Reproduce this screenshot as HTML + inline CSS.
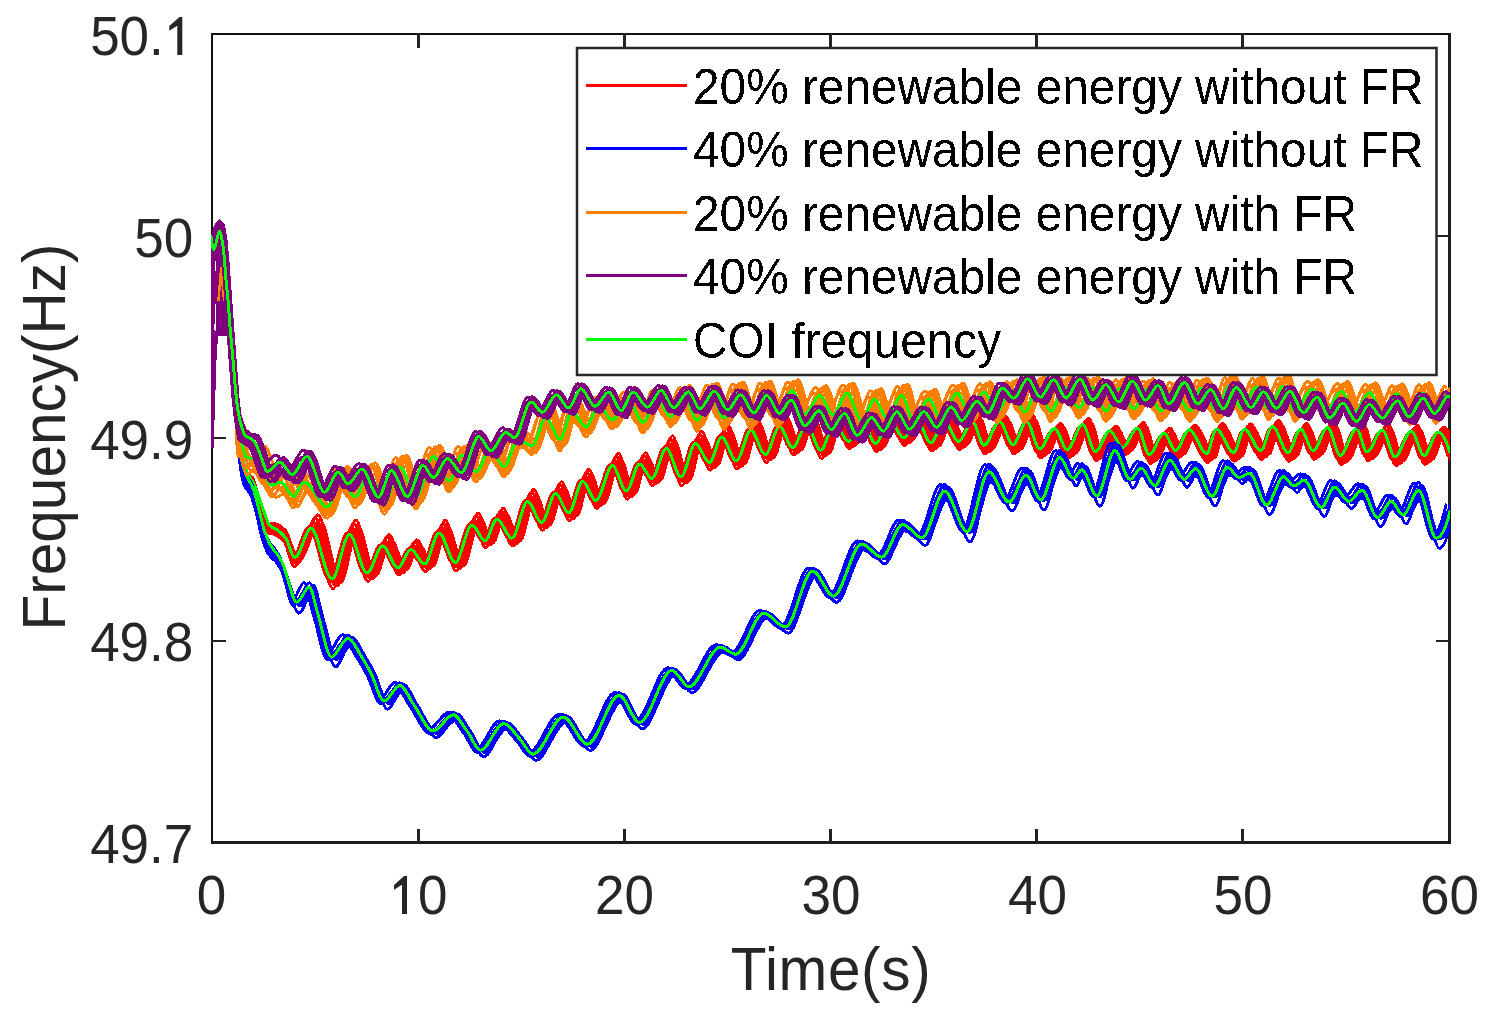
<!DOCTYPE html>
<html><head><meta charset="utf-8"><title>Frequency</title><style>
html,body{margin:0;padding:0;background:#fff;width:1494px;height:1030px;overflow:hidden}
svg{display:block}
text{font-family:"Liberation Sans",sans-serif}
</style></head><body>
<svg width="1494" height="1030" viewBox="0 0 1494 1030">
<rect width="1494" height="1030" fill="#fff"/>
<rect x="211" y="33" width="1239.5" height="2" fill="#111"/>
<rect x="211" y="33" width="2" height="810" fill="#111"/>
<rect x="1448" y="33" width="3" height="811" fill="#1c1c1c"/>
<rect x="211" y="841" width="1240" height="3" fill="#1c1c1c"/>
<g fill="#222"><rect x="417" y="33" width="3" height="15"/>
<rect x="417" y="829" width="3" height="15"/>
<rect x="623" y="33" width="3" height="15"/>
<rect x="623" y="829" width="3" height="15"/>
<rect x="829" y="33" width="3" height="15"/>
<rect x="829" y="829" width="3" height="15"/>
<rect x="1035" y="33" width="3" height="15"/>
<rect x="1035" y="829" width="3" height="15"/>
<rect x="1241" y="33" width="3" height="15"/>
<rect x="1241" y="829" width="3" height="15"/>
<rect x="211" y="235" width="15" height="2"/>
<rect x="1436" y="235" width="15" height="2"/>
<rect x="211" y="437" width="15" height="2"/>
<rect x="1436" y="437" width="15" height="2"/>
<rect x="211" y="640" width="15" height="2"/>
<rect x="1436" y="640" width="15" height="2"/></g>
<defs><clipPath id="cp"><rect x="211" y="33" width="1239" height="810"/></clipPath></defs>
<g clip-path="url(#cp)" shape-rendering="crispEdges" fill="none" stroke-width="3" stroke-linejoin="round" stroke-linecap="round">

<g stroke="#ff0000"><path d="M211 236.8C211.9 243.3 212.8 249.6 213.7 249.6 215.7 249.6 217.6 231 219.6 231 220.6 231 221.5 237.2 222.5 242.6 223.1 245.7 223.6 250.9 224.2 256.6 224.8 262.6 225.4 273.1 226 280 226.8 288.8 227.5 294.2 228.3 303.2 228.9 309.8 229.4 319.5 230 326.5 230.9 337.1 231.7 344.9 232.6 355 233.3 363.5 234.1 373.5 234.8 382 235.5 390.3 236.2 395 236.9 405.4 237.3 410.4 237.6 419.9 238 425.8 238.5 434.9 239 445.1 239.6 449.4 241.2 463.1 242.8 469.9 244.5 474.6 247 481.7 249.5 483.1 252 488.7 254.6 494.5 257.2 503.6 259.8 510.3 262.4 516.9 264.9 526.3 267.5 528.7 270.1 531.2 272.7 531.5 275.3 533.3 278.1 535.3 280.9 537.5 283.7 540.9 287.1 545 290.5 560.2 293.9 560.2 299.6 560.2 305.3 531 311 531 318 531 325 581.4 332 581.4 337.8 581.4 343.6 536.8 349.4 536.8 355.3 536.8 361.1 575.2 367 575.2 372.2 575.2 377.5 548.1 382.7 548.1 387.8 548.1 392.9 570.1 398 570.1 402.2 570.1 406.5 551.7 410.7 551.7 415.4 551.7 420 566.1 424.7 566.1 429.5 566.1 434.2 535.1 439 535.1 444.4 535.1 449.9 564.6 455.3 564.6 460.8 564.6 466.4 526.9 471.9 526.9 476.3 526.9 480.6 542.6 485 542.6 489 542.6 493 521 497 521 502 521 506.9 540.2 511.9 540.2 517.1 540.2 522.4 503.5 527.6 503.5 532.3 503.5 536.9 524.5 541.6 524.5 546.3 524.5 550.9 495.6 555.6 495.6 560 495.6 564.3 514.9 568.7 514.9 573.4 514.9 578 483.4 582.7 483.4 587.1 483.4 591.4 502.6 595.8 502.6 601.3 502.6 606.9 467.7 612.4 467.7 617.1 467.7 621.7 493 626.4 493 630.8 493 635.1 466 639.5 466 643.6 466 647.7 480.5 651.8 480.5 656.7 480.5 661.5 450.6 666.4 450.6 671.3 450.6 676.1 479 681 479 685.8 479 690.7 445.5 695.5 445.5 700.1 445.5 704.8 464.5 709.4 464.5 713.5 464.5 717.6 439 721.7 439 726.6 439 731.4 463 736.3 463 741.2 463 746 432.4 750.9 432.4 755.7 432.4 760.6 456.5 765.4 456.5 770.1 456.5 774.9 428.6 779.6 428.6 784 428.6 788.3 449.6 792.7 449.6 797.3 449.6 801.9 427.1 806.5 427.1 811.2 427.1 816 452.5 820.7 452.5 825.3 452.5 829.9 426.5 834.5 426.5 839.2 426.5 844 444.1 848.7 444.1 853.1 444.1 857.6 422.9 862 422.9 866.5 422.9 871 446.9 875.5 446.9 880.2 446.9 884.8 423.3 889.5 423.3 894.2 423.3 899 441.6 903.7 441.6 908.1 441.6 912.6 423.8 917 423.8 921.6 423.8 926.3 446.8 930.9 446.8 935.3 446.8 939.6 425.2 944 425.2 948.9 425.2 953.8 445.8 958.7 445.8 963.2 445.8 967.8 426.1 972.3 426.1 976.2 426.1 980.1 450 984 450 989.2 450 994.3 426.5 999.5 426.5 1004 426.5 1008.5 449.8 1013 449.8 1017.6 449.8 1022.1 426.5 1026.7 426.5 1031 426.5 1035.3 454 1039.6 454 1044.6 454 1049.6 433.3 1054.6 433.3 1058.8 433.3 1063 454.6 1067.2 454.6 1072.4 454.6 1077.5 429.4 1082.7 429.4 1086.9 429.4 1091.1 456.6 1095.3 456.6 1100.2 456.6 1105 435.7 1109.9 435.7 1114.1 435.7 1118.3 452.7 1122.5 452.7 1127.5 452.7 1132.5 433 1137.5 433 1141.5 433 1145.4 459.5 1149.4 459.5 1154.3 459.5 1159.1 438.1 1164 438.1 1167.9 438.1 1171.7 455.6 1175.6 455.6 1180.1 455.6 1184.7 434.7 1189.2 434.7 1195 434.7 1200.9 458.5 1206.7 458.5 1209.9 458.5 1213.2 434.2 1216.4 434.2 1222.1 434.2 1227.9 457.5 1233.6 457.5 1237.2 457.5 1240.7 434.2 1244.3 434.2 1249.8 434.2 1255.3 455.6 1260.8 455.6 1264.7 455.6 1268.5 431.3 1272.4 431.3 1277.6 431.3 1282.8 457.5 1288 457.5 1292.2 457.5 1296.4 434.2 1300.6 434.2 1304.8 434.2 1309 455.6 1313.2 455.6 1318 455.6 1322.7 432.5 1327.5 432.5 1331.8 432.5 1336 460.5 1340.3 460.5 1345.7 460.5 1351.2 433.7 1356.6 433.7 1360.1 433.7 1363.5 457 1367 457 1372.1 457 1377.1 434.9 1382.2 434.9 1386.5 434.9 1390.7 461.7 1395 461.7 1400.4 461.7 1405.9 436 1411.3 436 1415.6 436 1419.8 460.5 1424.1 460.5 1428.7 460.5 1433.4 437.2 1438 437.2 1441.9 437.2 1445.9 444.3 1449.8 457"/><path d="M211 236.8C211.9 243.3 212.8 249.6 213.7 249.6 215.7 249.6 217.6 231 219.6 231 220.6 231 221.5 237.2 222.5 242.6 223.1 245.7 223.6 250.9 224.2 256.6 224.8 262.6 225.4 273.1 226 280 226.8 288.8 227.5 294.2 228.3 303.2 228.9 309.8 229.4 319.5 230 326.5 230.9 337.1 231.7 344.9 232.6 355 233.3 363.5 234.1 373.6 234.8 382 235.5 390.2 236.2 394.6 236.9 404.9 237.3 409.9 237.6 419.4 238 425.4 238.5 434.5 239 445.4 239.6 449.4 241.2 461.9 242.8 467.9 244.5 471.4 247 476.7 249.5 476.7 252 481.2 254.6 485.9 257.2 497.1 259.8 504.2 262.4 511.3 264.9 522.3 267.5 524.1 270.1 525.8 272.7 525.7 275.3 527.1 278.3 528.7 281.2 530.9 284.2 534.4 287.9 538.6 291.6 557.8 295.3 557.8 301.3 557.8 307.3 522.6 313.3 522.6 320.3 522.6 327.2 580.4 334.2 580.4 340 580.4 345.8 528.4 351.6 528.4 357.4 528.4 363.3 574 369.1 574 374.3 574 379.6 541.1 384.8 541.1 389.9 541.1 395 568.3 400.1 568.3 404.3 568.3 408.5 545.4 412.8 545.4 417.4 545.4 422.1 564.6 426.7 564.6 431.5 564.6 436.3 527.6 441 527.6 446.5 527.6 451.9 563.8 457.3 563.8 462.9 563.8 468.4 520 473.9 520 478.3 520 482.7 541.1 487 541.1 491 541.1 495 514.4 499 514.4 504 514.4 508.9 539.2 513.9 539.2 519.1 539.2 524.4 496.3 529.6 496.3 534.3 496.3 538.9 523.5 543.6 523.5 548.3 523.5 552.9 488.6 557.6 488.6 562 488.6 566.3 514 570.7 514 575.4 514 580 476.2 584.7 476.2 589.1 476.2 593.4 501.5 597.8 501.5 603.3 501.5 608.9 460.4 614.4 460.4 619.1 460.4 623.7 492.3 628.4 492.3 632.8 492.3 637.1 459.2 641.5 459.2 645.6 459.2 649.7 479.2 653.8 479.2 658.7 479.2 663.5 443.2 668.4 443.2 673.3 443.2 678.1 478.6 683 478.6 687.8 478.6 692.7 438.4 697.5 438.4 702.1 438.4 706.8 463.4 711.4 463.4 715.5 463.4 719.6 431.9 723.7 431.9 728.6 431.9 733.4 462.1 738.3 462.1 743.2 462.1 748 425.2 752.9 425.2 757.7 425.2 762.6 455.5 767.4 455.5 772.1 455.5 776.9 421.6 781.6 421.6 786 421.6 790.3 448.3 794.7 448.3 799.3 448.3 803.9 420.3 808.5 420.3 813.2 420.3 818 451.5 822.7 451.5 827.3 451.5 831.9 420 836.5 420 841.2 420 846 442.3 850.7 442.3 855.1 442.3 859.6 416.4 864 416.4 868.5 416.4 873 445.4 877.5 445.4 882.2 445.4 886.8 417.3 891.5 417.3 896.2 417.3 901 439.3 905.7 439.3 910.1 439.3 914.6 417.8 919 417.8 923.6 417.8 928.3 444.8 932.9 444.8 937.3 444.8 941.6 419.3 946 419.3 950.9 419.3 955.8 443.4 960.7 443.4 965.2 443.4 969.8 420.2 974.3 420.2 978.2 420.2 982.1 447.8 986 447.8 991.2 447.8 996.3 420.9 1001.5 420.9 1006 420.9 1010.5 447.5 1015 447.5 1019.6 447.5 1024.1 420.6 1028.7 420.6 1033 420.6 1037.3 451.8 1041.6 451.8 1046.6 451.8 1051.6 427.8 1056.6 427.8 1060.8 427.8 1065 452.3 1069.2 452.3 1074.4 452.3 1079.5 423.5 1084.7 423.5 1088.9 423.5 1093.1 454.4 1097.3 454.4 1102.2 454.4 1107 430.3 1111.9 430.3 1116.1 430.3 1120.3 450 1124.5 450 1129.5 450 1134.5 427.2 1139.5 427.2 1143.5 427.2 1147.4 457.4 1151.4 457.4 1156.3 457.4 1161.1 432.6 1166 432.6 1169.9 432.6 1173.7 453.1 1177.6 453.1 1182.1 453.1 1186.7 429.3 1191.2 429.3 1197 429.3 1202.9 456.3 1208.7 456.3 1211.9 456.3 1215.2 428.4 1218.4 428.4 1224.1 428.4 1229.9 455.2 1235.6 455.2 1239.2 455.2 1242.7 428.5 1246.3 428.5 1251.8 428.5 1257.3 453.3 1262.8 453.3 1266.7 453.3 1270.5 425.4 1274.4 425.4 1279.6 425.4 1284.8 455.3 1290 455.3 1294.2 455.3 1298.4 428.4 1302.6 428.4 1306.8 428.4 1311 453.3 1315.2 453.3 1320 453.3 1324.7 426.6 1329.5 426.6 1333.8 426.6 1338 458.4 1342.3 458.4 1347.7 458.4 1353.2 427.8 1358.6 427.8 1362.1 427.8 1365.5 454.8 1369 454.8 1374.1 454.8 1379.1 429.1 1384.2 429.1 1388.5 429.1 1392.7 459.5 1397 459.5 1402.4 459.5 1407.9 430.3 1413.3 430.3 1417.6 430.3 1421.8 458.3 1426.1 458.3 1430.7 458.3 1435.4 431.7 1440 431.7 1443.9 431.7 1447.9 439.8 1451.8 454.2"/><path d="M211 236.8C211.9 243.3 212.8 249.6 213.7 249.6 215.7 249.6 217.6 231 219.6 231 220.6 231 221.5 237.2 222.5 242.6 223.1 245.7 223.6 250.9 224.2 256.6 224.8 262.6 225.4 273.1 226 280 226.8 288.8 227.5 294.2 228.3 303.2 228.9 309.8 229.4 319.5 230 326.5 230.9 337.1 231.7 344.9 232.6 355 233.3 363.5 234.1 373.6 234.8 382 235.5 390.2 236.2 394.6 236.9 405.1 237.3 410.1 237.6 419.9 238 426.1 238.5 435.7 239 447.5 239.6 451.5 241.2 464 242.8 470.7 244.5 473.1 247 476.6 249.5 475.9 252 479 254.6 482.3 257.2 495.5 259.8 503.1 262.4 510.5 264.9 523.2 267.5 524.1 270.1 524.9 272.7 524.7 275.3 525.4 278.5 526.2 281.6 528.8 284.8 532.2 288.7 536.4 292.7 559.5 296.7 559.5 303 559.5 309.3 518.1 315.6 518.1 322.5 518.1 329.5 583 336.4 583 342.2 583 347.9 523.4 353.7 523.4 359.5 523.4 365.4 576 371.2 576 376.4 576 381.7 537.4 386.9 537.4 392 537.4 397 569.7 402.1 569.7 406.4 569.7 410.6 542.3 414.8 542.3 419.5 542.3 424.1 566.2 428.8 566.2 433.5 566.2 438.3 523.3 443.1 523.3 448.5 523.3 453.9 566 459.4 566 464.9 566 470.4 516 475.9 516 480.3 516 484.7 542.5 489 542.5 493 542.5 497 510.8 501 510.8 506 510.8 511 541.1 515.9 541.1 521.2 541.1 526.4 492 531.6 492 536.3 492 540.9 525.5 545.6 525.5 550.3 525.5 554.9 484.6 559.6 484.6 564 484.6 568.3 516.1 572.7 516.1 577.4 516.1 582 472.1 586.7 472.1 591.1 472.1 595.4 503.4 599.8 503.4 605.3 503.4 610.9 456.2 616.4 456.2 621.1 456.2 625.7 494.5 630.4 494.5 634.8 494.5 639.1 455.5 643.5 455.5 647.6 455.5 651.7 480.8 655.8 480.8 660.7 480.8 665.5 438.9 670.4 438.9 675.3 438.9 680.1 481.1 685 481.1 689.8 481.1 694.7 434.2 699.5 434.2 704.1 434.2 708.8 465.2 713.4 465.2 717.5 465.2 721.6 427.8 725.7 427.8 730.6 427.8 735.4 464.2 740.3 464.2 745.2 464.2 750 421.1 754.9 421.1 759.7 421.1 764.6 457.6 769.4 457.6 774.1 457.6 778.9 417.6 783.6 417.6 788 417.6 792.3 450.1 796.7 450.1 801.3 450.1 805.9 416.4 810.5 416.4 815.2 416.4 820 453.4 824.7 453.4 829.3 453.4 833.9 416.6 838.5 416.6 843.2 416.6 848 443.4 852.7 443.4 857.1 443.4 861.6 413 866 413 870.5 413 875 446.9 879.5 446.9 884.2 446.9 888.8 414.2 893.5 414.2 898.2 414.2 903 440.1 907.7 440.1 912.1 440.1 916.6 414.9 921 414.9 925.6 414.9 930.3 445.9 934.9 445.9 939.3 445.9 943.6 416.5 948 416.5 952.9 416.5 957.8 444.1 962.7 444.1 967.2 444.1 971.8 417.3 976.3 417.3 980.2 417.3 984.1 448.7 988 448.7 993.2 448.7 998.3 418.2 1003.5 418.2 1008 418.2 1012.5 448.3 1017 448.3 1021.6 448.3 1026.1 417.6 1030.7 417.6 1035 417.6 1039.3 452.6 1043.6 452.6 1048.6 452.6 1053.6 425.2 1058.6 425.2 1062.8 425.2 1067 452.9 1071.2 452.9 1076.4 452.9 1081.5 420.6 1086.7 420.6 1090.9 420.6 1095.1 455.2 1099.3 455.2 1104.2 455.2 1109 427.9 1113.9 427.9 1118.1 427.9 1122.3 450.4 1126.5 450.4 1131.5 450.4 1136.5 424.5 1141.5 424.5 1145.5 424.5 1149.4 458.2 1153.4 458.2 1158.3 458.2 1163.1 430.1 1168 430.1 1171.9 430.1 1175.7 453.6 1179.6 453.6 1184.1 453.6 1188.7 426.8 1193.2 426.8 1199 426.8 1204.9 457.1 1210.7 457.1 1213.9 457.1 1217.2 425.6 1220.4 425.6 1226.1 425.6 1231.9 455.9 1237.6 455.9 1241.2 455.9 1244.7 425.8 1248.3 425.8 1253.8 425.8 1259.3 453.9 1264.8 453.9 1268.7 453.9 1272.5 422.6 1276.4 422.6 1281.6 422.6 1286.8 456 1292 456 1296.2 456 1300.4 425.6 1304.6 425.6 1308.8 425.6 1313 453.9 1317.2 453.9 1322 453.9 1326.7 423.7 1331.5 423.7 1335.8 423.7 1340 459.3 1344.3 459.3 1349.7 459.3 1355.2 425 1360.6 425 1364.1 425 1367.5 455.6 1371 455.6 1376.1 455.6 1381.1 426.3 1386.2 426.3 1390.5 426.3 1394.7 460.4 1399 460.4 1404.4 460.4 1409.9 427.5 1415.3 427.5 1419.6 427.5 1423.8 459.1 1428.1 459.1 1432.7 459.1 1437.4 429.3 1442 429.3 1445.9 429.3 1449.9 438.3 1453.8 454.3"/><path d="M211 236.8C211.9 243.3 212.8 249.6 213.7 249.6 215.7 249.6 217.6 231 219.6 231 220.6 231 221.5 237.2 222.5 242.6 223.1 245.7 223.6 250.9 224.2 256.6 224.8 262.6 225.4 273.1 226 280 226.8 288.8 227.5 294.2 228.3 303.2 228.9 309.8 229.4 319.5 230 326.5 230.9 337.1 231.7 344.9 232.6 355 233.3 363.5 234.1 373.6 234.8 382 235.5 390.2 236.2 394.5 236.9 405.1 237.3 410.1 237.6 420.1 238 426.4 238.5 436.2 239 448.5 239.6 452.5 241.2 464.8 242.8 471.9 244.5 473.4 247 475.7 249.5 474.9 252 477 254.6 479.1 257.2 494 259.8 501.7 262.4 509.4 264.9 523.2 267.5 523.5 270.1 523.7 272.7 523.6 275.3 523.8 278.6 524 282 527 285.3 530.3 289.6 534.5 293.9 560 298.1 560 304.7 560 311.3 514.8 317.9 514.8 324.8 514.8 331.7 584.1 338.6 584.1 344.4 584.1 350.1 520 355.9 520 361.7 520 367.5 576.8 373.3 576.8 378.5 576.8 383.8 534.7 389 534.7 394 534.7 399.1 570 404.2 570 408.4 570 412.6 539.9 416.9 539.9 421.5 539.9 426.2 566.7 430.8 566.7 435.6 566.7 440.3 520.2 445.1 520.2 450.5 520.2 456 567 461.4 567 466.9 567 472.4 513.3 478 513.3 482.3 513.3 486.7 543 491 543 495 543 499 508.2 503 508.2 508 508.2 513 541.9 517.9 541.9 523.2 541.9 528.4 489.1 533.6 489.1 538.3 489.1 543 526.2 547.6 526.2 552.3 526.2 556.9 481.8 561.6 481.8 566 481.8 570.3 517 574.7 517 579.4 517 584 469.2 588.7 469.2 593.1 469.2 597.4 504.2 601.8 504.2 607.3 504.2 612.9 453.2 618.4 453.2 623.1 453.2 627.7 495.5 632.4 495.5 636.8 495.5 641.1 452.8 645.5 452.8 649.6 452.8 653.7 481.4 657.8 481.4 662.7 481.4 667.5 435.9 672.4 435.9 677.3 435.9 682.1 482.3 687 482.3 691.8 482.3 696.7 431.4 701.5 431.4 706.1 431.4 710.8 466 715.4 466 719.5 466 723.6 424.9 727.7 424.9 732.6 424.9 737.4 465.1 742.3 465.1 747.2 465.1 752 418.2 756.9 418.2 761.7 418.2 766.6 458.4 771.4 458.4 776.1 458.4 780.9 414.7 785.6 414.7 790 414.7 794.3 450.7 798.7 450.7 803.3 450.7 807.9 413.7 812.5 413.7 817.2 413.7 822 454.2 826.7 454.2 831.3 454.2 835.9 414.1 840.5 414.1 845.2 414.1 850 443.7 854.7 443.7 859.1 443.7 863.6 410.5 868 410.5 872.5 410.5 877 447.4 881.5 447.4 886.2 447.4 890.8 412 895.5 412 900.2 412 905 440.1 909.7 440.1 914.1 440.1 918.6 412.7 923 412.7 927.6 412.7 932.3 446.1 936.9 446.1 941.3 446.1 945.6 414.4 950 414.4 954.9 414.4 959.8 444 964.7 444 969.2 444 973.8 415.1 978.3 415.1 982.2 415.1 986.1 448.8 990 448.8 995.2 448.8 1000.3 416.2 1005.5 416.2 1010 416.2 1014.5 448.3 1019 448.3 1023.6 448.3 1028.1 415.5 1032.7 415.5 1037 415.5 1041.3 452.6 1045.6 452.6 1050.6 452.6 1055.6 423.3 1060.6 423.3 1064.8 423.3 1069 452.9 1073.2 452.9 1078.4 452.9 1083.5 418.5 1088.7 418.5 1092.9 418.5 1097.1 455.3 1101.3 455.3 1106.2 455.3 1111 426 1115.9 426 1120.1 426 1124.3 450.2 1128.5 450.2 1133.5 450.2 1138.5 422.4 1143.5 422.4 1147.5 422.4 1151.4 458.3 1155.4 458.3 1160.3 458.3 1165.1 428.2 1170 428.2 1173.9 428.2 1177.7 453.5 1181.6 453.5 1186.1 453.5 1190.7 425 1195.2 425 1201 425 1206.9 457.2 1212.7 457.2 1215.9 457.2 1219.2 423.5 1222.4 423.5 1228.1 423.5 1233.9 455.9 1239.6 455.9 1243.2 455.9 1246.7 423.8 1250.3 423.8 1255.8 423.8 1261.3 453.9 1266.8 453.9 1270.7 453.9 1274.5 420.4 1278.4 420.4 1283.6 420.4 1288.8 456.1 1294 456.1 1298.2 456.1 1302.4 423.5 1306.6 423.5 1310.8 423.5 1315 453.9 1319.2 453.9 1324 453.9 1328.7 421.5 1333.5 421.5 1337.8 421.5 1342 459.5 1346.3 459.5 1351.7 459.5 1357.2 422.8 1362.6 422.8 1366.1 422.8 1369.5 455.6 1373 455.6 1378.1 455.6 1383.1 424.3 1388.2 424.3 1392.5 424.3 1396.7 460.5 1401 460.5 1406.4 460.5 1411.9 425.5 1417.3 425.5 1421.6 425.5 1425.8 459.2 1430.1 459.2 1434.7 459.2 1439.4 427.4 1444 427.4 1447.9 427.4 1451.9 436.9 1455.8 454"/><path d="M211 236.8C211.9 243.3 212.8 249.6 213.7 249.6 215.7 249.6 217.6 231 219.6 231 220.6 231 221.5 237.2 222.5 242.6 223.1 245.7 223.6 250.9 224.2 256.6 224.8 262.6 225.4 273.1 226 280 226.8 288.8 227.5 294.2 228.3 303.2 228.9 309.8 229.4 319.5 230 326.5 230.9 337.1 231.7 344.9 232.6 355 233.3 363.5 234.1 373.5 234.8 382 235.5 390.3 236.2 395.1 236.9 405.8 237.3 410.9 237.6 420.8 238 426.9 238.5 436.4 239 447.3 239.6 451.9 241.2 466.2 242.8 474.1 244.5 478.2 247 484.6 249.5 485 252 490.1 254.6 495.4 257.2 505.4 259.8 512.2 262.4 519 264.9 529.3 267.5 531.3 270.1 533.2 272.7 533.2 275.3 534.7 278.4 536.4 281.4 538.5 284.5 541.9 288.3 546 292.2 563.5 296 563.5 302.2 563.5 308.3 530.3 314.4 530.3 321.4 530.3 328.3 584.9 335.3 584.9 341.1 584.9 346.9 535.7 352.6 535.7 358.5 535.7 364.3 578.3 370.2 578.3 375.4 578.3 380.6 547.6 385.8 547.6 390.9 547.6 396 572.7 401.1 572.7 405.3 572.7 409.6 551.5 413.8 551.5 418.4 551.5 423.1 568.7 427.8 568.7 432.5 568.7 437.3 534.1 442.1 534.1 447.5 534.1 452.9 567.6 458.3 567.6 463.9 567.6 469.4 526.2 474.9 526.2 479.3 526.2 483.7 545.1 488 545.1 492 545.1 496 520.5 500 520.5 505 520.5 509.9 543 514.9 543 520.1 543 525.4 502.6 530.6 502.6 535.3 502.6 539.9 527.3 544.6 527.3 549.3 527.3 553.9 494.8 558.6 494.8 563 494.8 567.3 517.8 571.7 517.8 576.4 517.8 581 482.5 585.7 482.5 590.1 482.5 594.4 505.4 598.8 505.4 604.3 505.4 609.9 466.8 615.4 466.8 620.1 466.8 624.7 496 629.4 496 633.8 496 638.1 465.4 642.5 465.4 646.6 465.4 650.7 483.1 654.8 483.1 659.7 483.1 664.5 449.6 669.4 449.6 674.3 449.6 679.1 482.1 684 482.1 688.8 482.1 693.7 444.6 698.5 444.6 703.1 444.6 707.8 467.2 712.4 467.2 716.5 467.2 720.6 438.1 724.7 438.1 729.6 438.1 734.4 465.9 739.3 465.9 744.2 465.9 749 431.5 753.9 431.5 758.7 431.5 763.6 459.3 768.4 459.3 773.1 459.3 777.9 427.8 782.6 427.8 787 427.8 791.3 452.2 795.7 452.2 800.3 452.2 804.9 426.4 809.5 426.4 814.2 426.4 819 455.3 823.7 455.3 828.3 455.3 832.9 426 837.5 426 842.2 426 847 446.4 851.7 446.4 856.1 446.4 860.6 422.4 865 422.4 869.5 422.4 874 449.4 878.5 449.4 883.2 449.4 887.8 423.1 892.5 423.1 897.2 423.1 902 443.6 906.7 443.6 911.1 443.6 915.6 423.6 920 423.6 924.6 423.6 929.3 449 933.9 449 938.3 449 942.6 425.1 947 425.1 951.9 425.1 956.8 447.8 961.7 447.8 966.2 447.8 970.8 425.9 975.3 425.9 979.2 425.9 983.1 452.1 987 452.1 992.2 452.1 997.3 426.5 1002.5 426.5 1007 426.5 1011.5 451.8 1016 451.8 1020.6 451.8 1025.1 426.3 1029.7 426.3 1034 426.3 1038.3 456.1 1042.6 456.1 1047.6 456.1 1052.6 433.4 1057.6 433.4 1061.8 433.4 1066 456.6 1070.2 456.6 1075.4 456.6 1080.5 429.3 1085.7 429.3 1089.9 429.3 1094.1 458.7 1098.3 458.7 1103.2 458.7 1108 435.9 1112.9 435.9 1117.1 435.9 1121.3 454.5 1125.5 454.5 1130.5 454.5 1135.5 432.9 1140.5 432.9 1144.5 432.9 1148.4 461.6 1152.4 461.6 1157.3 461.6 1162.1 438.2 1167 438.2 1170.9 438.2 1174.7 457.5 1178.6 457.5 1183.1 457.5 1187.7 434.8 1192.2 434.8 1198 434.8 1203.9 460.6 1209.7 460.6 1212.9 460.6 1216.2 434.1 1219.4 434.1 1225.1 434.1 1230.9 459.5 1236.6 459.5 1240.2 459.5 1243.7 434.2 1247.3 434.2 1252.8 434.2 1258.3 457.6 1263.8 457.6 1267.7 457.6 1271.5 431.2 1275.4 431.2 1280.6 431.2 1285.8 459.6 1291 459.6 1295.2 459.6 1299.4 434.1 1303.6 434.1 1307.8 434.1 1312 457.6 1316.2 457.6 1321 457.6 1325.7 432.4 1330.5 432.4 1334.8 432.4 1339 462.6 1343.3 462.6 1348.7 462.6 1354.2 433.6 1359.6 433.6 1363.1 433.6 1366.5 459.1 1370 459.1 1375.1 459.1 1380.1 434.8 1385.2 434.8 1389.5 434.8 1393.7 463.8 1398 463.8 1403.4 463.8 1408.9 436 1414.3 436 1418.6 436 1422.8 462.6 1427.1 462.6 1431.7 462.6 1436.4 437.3 1441 437.3 1444.9 437.3 1448.9 445 1452.8 458.7"/><path d="M211 236.8C211.9 243.3 212.8 249.6 213.7 249.6 215.7 249.6 217.6 231 219.6 231 220.6 231 221.5 237.2 222.5 242.6 223.1 245.7 223.6 250.9 224.2 256.6 224.8 262.6 225.4 273.1 226 280 226.8 288.8 227.5 294.2 228.3 303.2 228.9 309.8 229.4 319.5 230 326.5 230.9 337.1 231.7 344.9 232.6 355 233.3 363.5 234.1 373.6 234.8 382 235.5 390.2 236.2 394.8 236.9 405.1 237.3 410.1 237.6 419.6 238 425.5 238.5 434.5 239 444.9 239.6 449.1 241.2 462.1 242.8 468.5 244.5 472.6 247 479 249.5 479.8 252 485 254.6 490.4 257.2 500.3 259.8 507.2 262.4 514 264.9 524.1 267.5 526.2 270.1 528.4 272.7 528.5 275.3 530.2 277.9 532 280.5 534.2 283.1 537.7 286.2 541.8 289.4 558.7 292.5 558.7 297.9 558.7 303.3 527.1 308.7 527.1 315.7 527.1 322.8 580.5 329.8 580.5 335.6 580.5 341.4 533 347.2 533 353.1 533 359 574.3 364.9 574.3 370.1 574.3 375.4 544.8 380.6 544.8 385.7 544.8 390.8 569 395.9 569 400.2 569 404.4 548.8 408.6 548.8 413.3 548.8 418 565.1 422.7 565.1 427.4 565.1 432.2 531.7 437 531.7 442.4 531.7 447.8 563.8 453.3 563.8 458.8 563.8 464.3 523.7 469.9 523.7 474.2 523.7 478.6 541.6 483 541.6 487 541.6 491 518 495 518 500 518 504.9 539.4 509.9 539.4 515.1 539.4 520.4 500.2 525.6 500.2 530.3 500.2 534.9 523.7 539.6 523.7 544.3 523.7 548.9 492.4 553.6 492.4 558 492.4 562.3 514.1 566.7 514.1 571.4 514.1 576 480.1 580.7 480.1 585.1 480.1 589.4 501.8 593.8 501.8 599.3 501.8 604.9 464.4 610.4 464.4 615.1 464.4 619.7 492.3 624.4 492.3 628.8 492.3 633.1 462.9 637.5 462.9 641.6 462.9 645.7 479.6 649.8 479.6 654.7 479.6 659.5 447.3 664.4 447.3 669.3 447.3 674.1 478.4 679 478.4 683.8 478.4 688.7 442.2 693.5 442.2 698.1 442.2 702.8 463.6 707.4 463.6 711.5 463.6 715.6 435.8 719.7 435.8 724.6 435.8 729.4 462.2 734.3 462.2 739.2 462.2 744 429.1 748.9 429.1 753.7 429.1 758.6 455.7 763.4 455.7 768.1 455.7 772.9 425.4 777.6 425.4 782 425.4 786.3 448.7 790.7 448.7 795.3 448.7 799.9 424 804.5 424 809.2 424 814 451.7 818.7 451.7 823.3 451.7 827.9 423.5 832.5 423.5 837.2 423.5 842 443 846.7 443 851.1 443 855.6 419.9 860 419.9 864.5 419.9 869 445.9 873.5 445.9 878.2 445.9 882.8 420.5 887.5 420.5 892.2 420.5 897 440.3 901.7 440.3 906.1 440.3 910.6 421 915 421 919.6 421 924.3 445.6 928.9 445.6 933.3 445.6 937.6 422.4 942 422.4 946.9 422.4 951.8 444.4 956.7 444.4 961.2 444.4 965.8 423.3 970.3 423.3 974.2 423.3 978.1 448.7 982 448.7 987.2 448.7 992.3 423.8 997.5 423.8 1002 423.8 1006.5 448.5 1011 448.5 1015.6 448.5 1020.1 423.7 1024.7 423.7 1029 423.7 1033.3 452.7 1037.6 452.7 1042.6 452.7 1047.6 430.7 1052.6 430.7 1056.8 430.7 1061 453.3 1065.2 453.3 1070.4 453.3 1075.5 426.6 1080.7 426.6 1084.9 426.6 1089.1 455.3 1093.3 455.3 1098.2 455.3 1103 433.1 1107.9 433.1 1112.1 433.1 1116.3 451.2 1120.5 451.2 1125.5 451.2 1130.5 430.3 1135.5 430.3 1139.5 430.3 1143.4 458.2 1147.4 458.2 1152.3 458.2 1157.1 435.5 1162 435.5 1165.9 435.5 1169.7 454.2 1173.6 454.2 1178.1 454.2 1182.7 432.1 1187.2 432.1 1193 432.1 1198.9 457.2 1204.7 457.2 1207.9 457.2 1211.2 431.5 1214.4 431.5 1220.1 431.5 1225.9 456.2 1231.6 456.2 1235.2 456.2 1238.7 431.5 1242.3 431.5 1247.8 431.5 1253.3 454.3 1258.8 454.3 1262.7 454.3 1266.5 428.6 1270.4 428.6 1275.6 428.6 1280.8 456.2 1286 456.2 1290.2 456.2 1294.4 431.5 1298.6 431.5 1302.8 431.5 1307 454.3 1311.2 454.3 1316 454.3 1320.7 429.7 1325.5 429.7 1329.8 429.7 1334 459.3 1338.3 459.3 1343.7 459.3 1349.2 431 1354.6 431 1358.1 431 1361.5 455.7 1365 455.7 1370.1 455.7 1375.1 432.2 1380.2 432.2 1384.5 432.2 1388.7 460.4 1393 460.4 1398.4 460.4 1403.9 433.3 1409.3 433.3 1413.6 433.3 1417.8 459.2 1422.1 459.2 1426.7 459.2 1431.4 434.6 1436 434.6 1439.9 434.6 1443.9 442.1 1447.8 455.5"/><path d="M211 236.8C211.9 243.3 212.8 249.6 213.7 249.6 215.7 249.6 217.6 231 219.6 231 220.6 231 221.5 237.2 222.5 242.6 223.1 245.7 223.6 250.9 224.2 256.6 224.8 262.6 225.4 273.1 226 280 226.8 288.8 227.5 294.2 228.3 303.2 228.9 309.8 229.4 319.5 230 326.5 230.9 337.1 231.7 344.9 232.6 355 233.3 363.5 234.1 373.5 234.8 382 235.5 390.3 236.2 395 236.9 405.7 237.3 410.8 237.6 420.7 238 427 238.5 436.7 239 448.2 239.6 452.7 241.2 466.6 242.8 474.4 244.5 477.6 247 482.5 249.5 482.1 252 486.2 254.6 490.5 257.2 502.1 259.8 509.4 262.4 516.5 264.9 528.1 267.5 529.4 270.1 530.7 272.7 530.5 275.3 531.5 278.5 532.8 281.8 535.1 285 538.4 289.2 542.6 293.3 563.2 297.4 563.2 303.9 563.2 310.3 525.2 316.7 525.2 323.6 525.2 330.6 585.5 337.5 585.5 343.3 585.5 349 530.3 354.8 530.3 360.6 530.3 366.4 578.6 372.3 578.6 377.5 578.6 382.7 543.3 387.9 543.3 393 543.3 398.1 572.5 403.2 572.5 407.4 572.5 411.6 547.7 415.8 547.7 420.5 547.7 425.2 568.8 429.8 568.8 434.6 568.8 439.3 529.4 444.1 529.4 449.5 529.4 454.9 568.2 460.4 568.2 465.9 568.2 471.4 521.9 476.9 521.9 481.3 521.9 485.7 545.1 490 545.1 494 545.1 498 516.4 502 516.4 507 516.4 512 543.4 516.9 543.4 522.2 543.4 527.4 498 532.6 498 537.3 498 542 527.7 546.6 527.7 551.3 527.7 555.9 490.4 560.6 490.4 565 490.4 569.3 518.3 573.7 518.3 578.4 518.3 583 478 587.7 478 592.1 478 596.4 505.7 600.8 505.7 606.3 505.7 611.9 462.2 617.4 462.2 622.1 462.2 626.7 496.6 631.4 496.6 635.8 496.6 640.1 461.1 644.5 461.1 648.6 461.1 652.7 483.2 656.8 483.2 661.7 483.2 666.5 444.9 671.4 444.9 676.3 444.9 681.1 483 686 483 690.8 483 695.7 440.1 700.5 440.1 705.1 440.1 709.8 467.5 714.4 467.5 718.5 467.5 722.6 433.6 726.7 433.6 731.6 433.6 736.4 466.4 741.3 466.4 746.2 466.4 751 427 755.9 427 760.7 427 765.6 459.8 770.4 459.8 775.1 459.8 779.9 423.4 784.6 423.4 789 423.4 793.3 452.4 797.7 452.4 802.3 452.4 806.9 422.1 811.5 422.1 816.2 422.1 821 455.7 825.7 455.7 830.3 455.7 834.9 422.1 839.5 422.1 844.2 422.1 849 446.1 853.7 446.1 858.1 446.1 862.6 418.4 867 418.4 871.5 418.4 876 449.4 880.5 449.4 885.2 449.4 889.8 419.5 894.5 419.5 899.2 419.5 904 443 908.7 443 913.1 443 917.6 420.1 922 420.1 926.6 420.1 931.3 448.6 935.9 448.6 940.3 448.6 944.6 421.6 949 421.6 953.9 421.6 958.8 447.1 963.7 447.1 968.2 447.1 972.8 422.4 977.3 422.4 981.2 422.4 985.1 451.6 989 451.6 994.2 451.6 999.3 423.2 1004.5 423.2 1009 423.2 1013.5 451.2 1018 451.2 1022.6 451.2 1027.1 422.8 1031.7 422.8 1036 422.8 1040.3 455.5 1044.6 455.5 1049.6 455.5 1054.6 430.1 1059.6 430.1 1063.8 430.1 1068 455.9 1072.2 455.9 1077.4 455.9 1082.5 425.7 1087.7 425.7 1091.9 425.7 1096.1 458.1 1100.3 458.1 1105.2 458.1 1110 432.7 1114.9 432.7 1119.1 432.7 1123.3 453.6 1127.5 453.6 1132.5 453.6 1137.5 429.5 1142.5 429.5 1146.5 429.5 1150.4 461.1 1154.4 461.1 1159.3 461.1 1164.1 435 1169 435 1172.9 435 1176.7 456.7 1180.6 456.7 1185.1 456.7 1189.7 431.7 1194.2 431.7 1200 431.7 1205.9 460 1211.7 460 1214.9 460 1218.2 430.7 1221.4 430.7 1227.1 430.7 1232.9 458.9 1238.6 458.9 1242.2 458.9 1245.7 430.8 1249.3 430.8 1254.8 430.8 1260.3 456.9 1265.8 456.9 1269.7 456.9 1273.5 427.7 1277.4 427.7 1282.6 427.7 1287.8 459 1293 459 1297.2 459 1301.4 430.7 1305.6 430.7 1309.8 430.7 1314 456.9 1318.2 456.9 1323 456.9 1327.7 428.8 1332.5 428.8 1336.8 428.8 1341 462.2 1345.3 462.2 1350.7 462.2 1356.2 430.1 1361.6 430.1 1365.1 430.1 1368.5 458.5 1372 458.5 1377.1 458.5 1382.1 431.4 1387.2 431.4 1391.5 431.4 1395.7 463.3 1400 463.3 1405.4 463.3 1410.9 432.6 1416.3 432.6 1420.6 432.6 1424.8 462 1429.1 462 1433.7 462 1438.4 434.1 1443 434.1 1446.9 434.1 1450.9 442.6 1454.8 457.6"/><path d="M211 236.8C211.9 243.3 212.8 249.6 213.7 249.6 215.7 249.6 217.6 231 219.6 231 220.6 231 221.5 237.2 222.5 242.6 223.1 245.7 223.6 250.9 224.2 256.6 224.8 262.6 225.4 273.1 226 280 226.8 288.8 227.5 294.2 228.3 303.2 228.9 309.8 229.4 319.5 230 326.5 230.9 337.1 231.7 344.9 232.6 355 233.3 363.5 234.1 373.6 234.8 382 235.5 390.2 236.2 394.7 236.9 405.1 237.3 410.1 237.6 419.9 238 426.1 238.5 435.5 239 447 239.6 451.1 241.2 463.8 242.8 470.5 244.5 473.4 247 477.7 249.5 477.2 252 480.9 254.6 484.9 257.2 497.2 259.8 504.5 262.4 511.8 264.9 523.8 267.5 525 270.1 526.2 272.7 526 275.3 527 278.8 528.2 282.3 530.6 285.8 533.9 290.4 538.3 295 559.7 299.6 559.7 306.4 559.7 313.3 520.6 320.1 520.6 327 520.6 333.9 582.7 340.8 582.7 346.5 582.7 352.3 526.1 358 526.1 363.8 526.1 369.6 575.9 375.5 575.9 380.6 575.9 385.8 539.5 391 539.5 396.1 539.5 401.2 569.7 406.3 569.7 410.5 569.7 414.7 544.1 418.9 544.1 423.6 544.1 428.2 566.2 432.9 566.2 437.6 566.2 442.4 525.6 447.1 525.6 452.6 525.6 458 565.7 463.4 565.7 468.9 565.7 474.5 518.2 480 518.2 484.3 518.2 488.7 542.6 493.1 542.6 497.1 542.6 501.1 512.8 505.1 512.8 510 512.8 515 540.9 519.9 540.9 525.2 540.9 530.4 494.3 535.6 494.3 540.3 494.3 545 525.3 549.6 525.3 554.3 525.3 559 486.8 563.6 486.8 568 486.8 572.4 515.9 576.7 515.9 581.4 515.9 586 474.3 590.7 474.3 595.1 474.3 599.4 503.3 603.8 503.3 609.3 503.3 614.9 458.5 620.4 458.5 625.1 458.5 629.7 494.2 634.4 494.2 638.8 494.2 643.1 457.6 647.5 457.6 651.6 457.6 655.7 480.8 659.8 480.8 664.7 480.8 669.5 441.2 674.4 441.2 679.3 441.2 684.1 480.7 689 480.7 693.8 480.7 698.7 436.5 703.5 436.5 708.1 436.5 712.8 465.1 717.4 465.1 721.5 465.1 725.6 430 729.7 430 734.6 430 739.4 464 744.3 464 749.2 464 754 423.3 758.9 423.3 763.7 423.3 768.6 457.4 773.4 457.4 778.1 457.4 782.9 419.8 787.6 419.8 792 419.8 796.3 450 800.7 450 805.3 450 809.9 418.6 814.5 418.6 819.2 418.6 824 453.3 828.7 453.3 833.3 453.3 837.9 418.6 842.5 418.6 847.2 418.6 852 443.6 856.7 443.6 861.1 443.6 865.6 415 870 415 874.5 415 879 446.9 883.5 446.9 888.2 446.9 892.8 416 897.5 416 902.2 416 907 440.4 911.7 440.4 916.1 440.4 920.6 416.7 925 416.7 929.6 416.7 934.3 446.1 938.9 446.1 943.3 446.1 947.6 418.2 952 418.2 956.9 418.2 961.8 444.4 966.7 444.4 971.2 444.4 975.8 419 980.3 419 984.2 419 988.1 448.9 992 448.9 997.2 448.9 1002.3 419.9 1007.5 419.9 1012 419.9 1016.5 448.6 1021 448.6 1025.6 448.6 1030.1 419.4 1034.7 419.4 1039 419.4 1043.3 452.8 1047.6 452.8 1052.6 452.8 1057.6 426.8 1062.6 426.8 1066.8 426.8 1071 453.3 1075.2 453.3 1080.4 453.3 1085.5 422.4 1090.7 422.4 1094.9 422.4 1099.1 455.5 1103.3 455.5 1108.2 455.5 1113 429.5 1117.9 429.5 1122.1 429.5 1126.3 450.8 1130.5 450.8 1135.5 450.8 1140.5 426.2 1145.5 426.2 1149.5 426.2 1153.4 458.5 1157.4 458.5 1162.3 458.5 1167.1 431.7 1172 431.7 1175.9 431.7 1179.7 454 1183.6 454 1188.1 454 1192.7 428.4 1197.2 428.4 1203 428.4 1208.9 457.4 1214.7 457.4 1217.9 457.4 1221.2 427.3 1224.4 427.3 1230.1 427.3 1235.9 456.2 1241.6 456.2 1245.2 456.2 1248.7 427.5 1252.3 427.5 1257.8 427.5 1263.3 454.3 1268.8 454.3 1272.7 454.3 1276.5 424.3 1280.4 424.3 1285.6 424.3 1290.8 456.3 1296 456.3 1300.2 456.3 1304.4 427.3 1308.6 427.3 1312.8 427.3 1317 454.3 1321.2 454.3 1326 454.3 1330.7 425.4 1335.5 425.4 1339.8 425.4 1344 459.6 1348.3 459.6 1353.7 459.6 1359.2 426.7 1364.6 426.7 1368.1 426.7 1371.5 455.9 1375 455.9 1380.1 455.9 1385.1 428.1 1390.2 428.1 1394.5 428.1 1398.7 460.6 1403 460.6 1408.4 460.6 1413.9 429.2 1419.3 429.2 1423.6 429.2 1427.8 459.4 1432.1 459.4 1436.7 459.4 1441.4 430.8 1446 430.8 1449.9 430.8 1453.9 439.5 1457.8 454.9"/><path d="M211 236.8C211.9 243.3 212.8 249.6 213.7 249.6 215.7 249.6 217.6 231 219.6 231 220.6 231 221.5 237.2 222.5 242.6 223.1 245.7 223.6 250.9 224.2 256.6 224.8 262.6 225.4 273.1 226 280 226.8 288.8 227.5 294.2 228.3 303.2 228.9 309.8 229.4 319.5 230 326.5 230.9 337.1 231.7 344.9 232.6 355 233.3 363.5 234.1 373.4 234.8 382 235.5 390.4 236.2 395.2 236.9 406.1 237.3 411.4 237.6 421.6 238 428.1 238.5 438.1 239 449.9 239.6 454.7 241.2 469.5 242.8 478.5 244.5 481.5 247 486.3 249.5 485.7 252 489.6 254.6 493.7 257.2 505.5 259.8 512.7 262.4 519.9 264.9 531.8 267.5 532.8 270.1 533.8 272.7 533.6 275.3 534.5 278.2 535.4 281.1 537.8 283.9 541.1 287.5 545.1 291 566.6 294.6 566.6 300.4 566.6 306.3 527.1 312.1 527.1 319.1 527.1 326.1 588.7 333.1 588.7 338.9 588.7 344.7 531.9 350.5 531.9 356.3 531.9 362.2 581.4 368.1 581.4 373.3 581.4 378.5 544.9 383.7 544.9 388.8 544.9 393.9 575.1 399 575.1 403.3 575.1 407.5 549.4 411.7 549.4 416.4 549.4 421.1 571.4 425.7 571.4 430.5 571.4 435.3 530.8 440 530.8 445.4 530.8 450.9 570.9 456.3 570.9 461.8 570.9 467.4 523.3 472.9 523.3 477.3 523.3 481.6 547.6 486 547.6 490 547.6 494 517.9 498 517.9 503 517.9 507.9 546 512.9 546 518.1 546 523.4 499.4 528.6 499.4 533.3 499.4 537.9 530.3 542.6 530.3 547.3 530.3 551.9 491.8 556.6 491.8 561 491.8 565.3 520.9 569.7 520.9 574.4 520.9 579 479.4 583.7 479.4 588.1 479.4 592.4 508.3 596.8 508.3 602.3 508.3 607.9 463.5 613.4 463.5 618.1 463.5 622.7 499.2 627.4 499.2 631.8 499.2 636.1 462.6 640.5 462.6 644.6 462.6 648.7 485.8 652.8 485.8 657.7 485.8 662.5 446.2 667.4 446.2 672.3 446.2 677.1 485.7 682 485.7 686.8 485.7 691.7 441.5 696.5 441.5 701.1 441.5 705.8 470.1 710.4 470.1 714.5 470.1 718.6 435 722.7 435 727.6 435 732.4 469 737.3 469 742.2 469 747 428.3 751.9 428.3 756.7 428.3 761.6 462.4 766.4 462.4 771.1 462.4 775.9 424.8 780.6 424.8 785 424.8 789.3 455 793.7 455 798.3 455 802.9 423.6 807.5 423.6 812.2 423.6 817 458.3 821.7 458.3 826.3 458.3 830.9 423.6 835.5 423.6 840.2 423.6 845 448.6 849.7 448.6 854.1 448.6 858.6 420 863 420 867.5 420 872 451.9 876.5 451.9 881.2 451.9 885.8 421 890.5 421 895.2 421 900 445.4 904.7 445.4 909.1 445.4 913.6 421.7 918 421.7 922.6 421.7 927.3 451.1 931.9 451.1 936.3 451.1 940.6 423.2 945 423.2 949.9 423.2 954.8 449.4 959.7 449.4 964.2 449.4 968.8 424 973.3 424 977.2 424 981.1 453.9 985 453.9 990.2 453.9 995.3 424.9 1000.5 424.9 1005 424.9 1009.5 453.6 1014 453.6 1018.6 453.6 1023.1 424.4 1027.7 424.4 1032 424.4 1036.3 457.8 1040.6 457.8 1045.6 457.8 1050.6 431.8 1055.6 431.8 1059.8 431.8 1064 458.3 1068.2 458.3 1073.4 458.3 1078.5 427.4 1083.7 427.4 1087.9 427.4 1092.1 460.5 1096.3 460.5 1101.2 460.5 1106 434.5 1110.9 434.5 1115.1 434.5 1119.3 455.8 1123.5 455.8 1128.5 455.8 1133.5 431.2 1138.5 431.2 1142.5 431.2 1146.4 463.5 1150.4 463.5 1155.3 463.5 1160.1 436.7 1165 436.7 1168.9 436.7 1172.7 459 1176.6 459 1181.1 459 1185.7 433.4 1190.2 433.4 1196 433.4 1201.9 462.4 1207.7 462.4 1210.9 462.4 1214.2 432.3 1217.4 432.3 1223.1 432.3 1228.9 461.2 1234.6 461.2 1238.2 461.2 1241.7 432.5 1245.3 432.5 1250.8 432.5 1256.3 459.3 1261.8 459.3 1265.7 459.3 1269.5 429.3 1273.4 429.3 1278.6 429.3 1283.8 461.3 1289 461.3 1293.2 461.3 1297.4 432.3 1301.6 432.3 1305.8 432.3 1310 459.3 1314.2 459.3 1319 459.3 1323.7 430.4 1328.5 430.4 1332.8 430.4 1337 464.6 1341.3 464.6 1346.7 464.6 1352.2 431.7 1357.6 431.7 1361.1 431.7 1364.5 460.9 1368 460.9 1373.1 460.9 1378.1 433.1 1383.2 433.1 1387.5 433.1 1391.7 465.6 1396 465.6 1401.4 465.6 1406.9 434.2 1412.3 434.2 1416.6 434.2 1420.8 464.4 1425.1 464.4 1429.7 464.4 1434.4 435.8 1439 435.8 1442.9 435.8 1446.9 444.5 1450.8 459.9"/></g>
<path stroke="#00ff00" d="M211 236.8C211.9 243.3 212.8 249.6 213.7 249.6 215.7 249.6 217.6 231 219.6 231 220.6 231 221.5 237.2 222.5 242.6 223.1 245.7 223.6 250.9 224.2 256.6 224.8 262.6 225.4 273.1 226 280 226.8 288.8 227.5 294.2 228.3 303.2 228.9 309.8 229.4 319.5 230 326.5 230.9 337.1 231.7 344.9 232.6 355 233.3 363.5 234.1 374.1 234.8 382 235.6 390.6 236.4 395.3 237.2 405 237.6 410.2 238.1 419.2 238.5 425 239.2 433.9 239.8 443.9 240.5 448 242.6 460.8 244.6 466.2 246.7 471.3 249.3 477.7 251.9 479.5 254.5 485.2 257.1 490.9 259.7 500.3 262.3 507 264.9 513.7 267.4 523.1 270 525.6 272.6 528.1 275.2 528.4 277.8 530.3 280.4 532.2 283 534.5 285.6 538 288.7 542.1 291.8 557.5 294.9 557.5 300.3 557.5 305.6 528.4 311 528.4 318 528.4 325 579 332 579 337.8 579 343.6 534.5 349.4 534.5 355.3 534.5 361.1 573 367 573 372.2 573 377.5 545.9 382.7 545.9 387.8 545.9 392.9 568 398 568 402.2 568 406.5 549.6 410.7 549.6 415.4 549.6 420 564 424.7 564 429.5 564 434.2 533 439 533 444.4 533 449.9 562.5 455.3 562.5 460.8 562.5 466.4 524.9 471.9 524.9 476.3 524.9 480.6 540.6 485 540.6 489 540.6 493 519 497 519 502 519 506.9 538.2 511.9 538.2 517.1 538.2 522.4 501.5 527.6 501.5 532.3 501.5 536.9 522.5 541.6 522.5 546.3 522.5 550.9 493.6 555.6 493.6 560 493.6 564.3 512.9 568.7 512.9 573.4 512.9 578 481.4 582.7 481.4 587.1 481.4 591.4 500.6 595.8 500.6 601.3 500.6 606.9 465.7 612.4 465.7 617.1 465.7 621.7 491 626.4 491 630.8 491 635.1 464 639.5 464 643.6 464 647.7 478.5 651.8 478.5 656.7 478.5 661.5 448.6 666.4 448.6 671.3 448.6 676.1 477 681 477 685.8 477 690.7 443.5 695.5 443.5 700.1 443.5 704.8 462.5 709.4 462.5 713.5 462.5 717.6 437 721.7 437 726.6 437 731.4 461 736.3 461 741.2 461 746 430.4 750.9 430.4 755.7 430.4 760.6 454.5 765.4 454.5 770.1 454.5 774.9 426.6 779.6 426.6 784 426.6 788.3 447.6 792.7 447.6 797.3 447.6 801.9 425 806.5 425 811.2 425 816 450.2 820.7 450.2 825.3 450.2 829.9 424 834.5 424 839.2 424 844 441.4 848.7 441.4 853.1 441.4 857.6 420 862 420 866.5 420 871 443.8 875.5 443.8 880.2 443.8 884.8 420 889.5 420 894.2 420 899 438 903.7 438 908.1 438 912.6 420 917 420 921.6 420 926.3 442.8 930.9 442.8 935.3 442.8 939.6 421 944 421 948.9 421 953.8 441.4 958.7 441.4 963.2 441.4 967.8 421.5 972.3 421.5 976.2 421.5 980.1 445.2 984 445.2 989.2 445.2 994.3 421.5 999.5 421.5 1004 421.5 1008.5 444.8 1013 444.8 1017.6 444.8 1022.1 421.5 1026.7 421.5 1031 421.5 1035.3 449 1039.6 449 1044.6 449 1049.6 428.3 1054.6 428.3 1058.8 428.3 1063 449.6 1067.2 449.6 1072.4 449.6 1077.5 424.4 1082.7 424.4 1086.9 424.4 1091.1 451.6 1095.3 451.6 1100.2 451.6 1105 430.7 1109.9 430.7 1114.1 430.7 1118.3 447.7 1122.5 447.7 1127.5 447.7 1132.5 428 1137.5 428 1141.5 428 1145.4 454.5 1149.4 454.5 1154.3 454.5 1159.1 433.1 1164 433.1 1167.9 433.1 1171.7 450.6 1175.6 450.6 1180.1 450.6 1184.7 429.7 1189.2 429.7 1195 429.7 1200.9 453.5 1206.7 453.5 1209.9 453.5 1213.2 429.2 1216.4 429.2 1222.1 429.2 1227.9 452.5 1233.6 452.5 1237.2 452.5 1240.7 429.2 1244.3 429.2 1249.8 429.2 1255.3 450.6 1260.8 450.6 1264.7 450.6 1268.5 426.3 1272.4 426.3 1277.6 426.3 1282.8 452.5 1288 452.5 1292.2 452.5 1296.4 429.2 1300.6 429.2 1304.8 429.2 1309 450.6 1313.2 450.6 1318 450.6 1322.7 427.5 1327.5 427.5 1331.8 427.5 1336 455.5 1340.3 455.5 1345.7 455.5 1351.2 428.7 1356.6 428.7 1360.1 428.7 1363.5 452 1367 452 1372.1 452 1377.1 429.9 1382.2 429.9 1386.5 429.9 1390.7 456.7 1395 456.7 1400.4 456.7 1405.9 431 1411.3 431 1415.6 431 1419.8 455.5 1424.1 455.5 1428.7 455.5 1433.4 432.2 1438 432.2 1441.9 432.2 1445.9 439.3 1449.8 452"/>
<g stroke="#0000ff"><path d="M211 236.8C211.9 243.3 212.8 249.6 213.7 249.6 215.7 249.6 217.6 231 219.6 231 220.6 231 221.5 237.2 222.5 242.6 223.1 245.7 223.6 250.9 224.2 256.6 224.8 262.6 225.4 273.1 226 280 226.8 288.8 227.5 294.2 228.3 303.2 228.9 309.8 229.4 319.5 230 326.5 230.9 337.1 231.7 344.9 232.6 355 233.3 363.5 234.1 373.8 234.8 382 235.6 390.4 236.3 395 237 405.2 237.8 415.7 238.6 445.4 239.3 451.8 240.9 465 242.5 469.8 244 474.6 246.5 482.2 249 483.9 251.5 490.5 253.3 495.4 255.1 502.5 256.9 509.2 258.7 515.8 260.5 525.2 262.3 530.8 264.4 537.2 266.4 542.6 268.5 546.3 271.1 551 273.7 553 276.3 556.9 277.9 559.3 279.4 561.5 281 564.9 282.6 568.4 284.2 575.1 285.8 579.6 288.9 588.5 292.1 604.1 295.2 604.1 299.5 604.1 303.8 588.9 308.1 588.9 310.8 588.9 313.6 605.8 316.3 614.4 320.9 629 325.6 658.5 330.2 658.5 335.7 658.5 341.1 639.8 346.6 639.8 351.3 639.8 355.9 651.2 360.6 658.4 363.7 663.1 366.8 668.8 369.8 674.6 374.2 683 378.6 702.3 383 702.3 388.2 702.3 393.4 686.7 398.6 686.7 403.4 686.7 408.1 699.7 412.9 706.2 419.2 714.8 425.6 732.2 431.9 732.2 438.7 732.2 445.5 715.9 452.3 715.9 456.9 715.9 461.4 726.3 465.9 732.1 470.5 738 475 751.2 479.6 751.2 487.3 751.2 495 724.7 502.7 724.7 508.1 724.7 513.5 734.6 519 740.3 523.3 744.8 527.6 755.3 532 755.3 542.1 755.3 552.2 718 562.3 718 570.3 718 578.4 745.2 586.4 745.2 597 745.2 607.6 696.3 618.2 696.3 624.9 696.3 631.7 723.5 638.4 723.5 649.3 723.5 660.1 671.5 671 671.5 676.7 671.5 682.3 687.8 688 687.8 698.4 687.8 708.8 648.2 719.2 648.2 724.4 648.2 729.5 655.2 734.7 655.2 744 655.2 753.4 614.1 762.7 614.1 769.9 614.1 777.2 628 784.4 628 793.5 628 802.5 572.1 811.6 572.1 818.6 572.1 825.5 597 832.5 597 841.8 597 851.2 544.8 860.5 544.8 867.2 544.8 874 557.8 880.7 557.8 887.7 557.8 894.7 524.9 901.7 524.9 908.2 524.9 914.6 537.8 921.1 537.8 928.6 537.8 936.1 490.9 943.6 490.9 951.1 490.9 958.6 531.2 966.1 531.2 973.4 531.2 980.6 471.4 987.9 471.4 994.6 471.4 1001.4 501.7 1008.1 501.7 1013.8 501.7 1019.4 474.6 1025.1 474.6 1030 474.6 1034.9 499.5 1039.8 499.5 1046 499.5 1052.3 457.3 1058.5 457.3 1063.1 457.3 1067.8 477.8 1072.4 477.8 1075.2 477.8 1078 469.4 1080.8 469.4 1085.8 469.4 1090.9 495.3 1095.9 495.3 1101.9 495.3 1107.9 450.1 1113.9 450.1 1118.9 450.1 1124 479 1129 479 1132.8 479 1136.6 467.6 1140.4 467.6 1144.8 467.6 1149.3 485.6 1153.7 485.6 1158.7 485.6 1163.8 459.7 1168.8 459.7 1173.6 459.7 1178.4 479 1183.2 479 1187 479 1190.9 468.2 1194.7 468.2 1200.1 468.2 1205.6 495.9 1211 495.9 1216.1 495.9 1221.2 466.9 1226.3 466.9 1230.3 466.9 1234.3 477.1 1238.3 477.1 1241.7 477.1 1245.1 472.9 1248.5 472.9 1254.2 472.9 1259.9 504.5 1265.6 504.5 1271.3 504.5 1276.9 476.3 1282.6 476.3 1286 476.3 1289.5 485.6 1292.9 485.6 1296.3 485.6 1299.7 479.7 1303.1 479.7 1308.8 479.7 1314.5 507 1320.2 507 1324.7 507 1329.3 486.6 1333.8 486.6 1338.4 486.6 1342.9 501 1347.5 501 1352 501 1356.6 489.9 1361.1 489.9 1366.2 489.9 1371.4 517.3 1376.5 517.3 1381.1 517.3 1385.6 501 1390.2 501 1394.2 501 1398.1 514.7 1402.1 514.7 1407.2 514.7 1412.4 489.9 1417.5 489.9 1423.5 489.9 1429.4 537.7 1435.4 537.7 1439.9 537.7 1444.5 529.1 1449 511.3"/><path d="M211 236.8C211.9 243.3 212.8 249.6 213.7 249.6 215.7 249.6 217.6 231 219.6 231 220.6 231 221.5 237.2 222.5 242.6 223.1 245.7 223.6 250.9 224.2 256.6 224.8 262.6 225.4 273.1 226 280 226.8 288.8 227.5 294.2 228.3 303.2 228.9 309.8 229.4 319.5 230 326.5 230.9 337.1 231.7 344.9 232.6 355 233.3 363.5 234.1 373.8 234.8 382 235.6 390.4 236.3 395.1 237 405.3 237.8 415.6 238.6 443.9 239.3 450.3 240.9 463.6 242.5 467.9 244 473.5 246.5 482.3 249 486.1 251.5 493.5 253.3 498.9 255.1 505.2 256.9 511.6 258.7 517.9 260.5 526.3 262.3 531.7 264.4 538 266.4 543.3 268.5 547.3 271.1 552.3 273.7 555.1 276.3 559.3 278 562 279.7 564.4 281.4 567.7 283.3 571.4 285.2 577.2 287.1 581.4 290.7 589.5 294.3 603.3 297.9 603.3 302.6 603.3 307.4 593.3 312.1 593.3 314.8 593.3 317.5 608.7 320.2 616.6 324.8 630 329.4 657.5 334 657.5 339.4 657.5 344.8 642.7 350.2 642.7 354.9 642.7 359.5 652.9 364.2 659.8 367.2 664.3 370.3 670.6 373.3 676.3 377.7 684.4 382 701.7 386.4 701.7 391.6 701.7 396.8 689.4 401.9 689.4 406.7 689.4 411.5 701.3 416.2 707.4 422.5 715.5 428.8 732.2 435.2 732.2 442 732.2 448.7 718.2 455.5 718.2 460.1 718.2 464.6 727.9 469.1 733.3 473.6 738.7 478.2 750.9 482.7 750.9 490.4 750.9 498.1 726.9 505.8 726.9 511.2 726.9 516.6 736.1 522.1 741.4 526.4 745.6 530.7 755.1 535.1 755.1 545.2 755.1 555.2 720.3 565.3 720.3 573.4 720.3 581.4 745 589.4 745 600 745 610.6 698.8 621.2 698.8 628 698.8 634.7 723 641.4 723 652.3 723 663.1 673.9 674 673.9 679.7 673.9 685.3 687.6 691 687.6 701.4 687.6 711.8 650.1 722.2 650.1 727.4 650.1 732.5 655.2 737.7 655.2 747 655.2 756.4 616.2 765.7 616.2 772.9 616.2 780.2 627.6 787.4 627.6 796.5 627.6 805.5 574.9 814.6 574.9 821.6 574.9 828.5 596.4 835.5 596.4 844.8 596.4 854.2 547.3 863.5 547.3 870.2 547.3 877 557.5 883.7 557.5 890.7 557.5 897.7 527.9 904.7 527.9 911.2 527.9 917.6 537.1 924.1 537.1 931.6 537.1 939.1 495.7 946.6 495.7 954.1 495.7 961.6 528.9 969.1 528.9 976.4 528.9 983.6 476.8 990.9 476.8 997.6 476.8 1004.4 500.4 1011.1 500.4 1016.8 500.4 1022.4 479.5 1028.1 479.5 1033 479.5 1037.9 497.3 1042.8 497.3 1049 497.3 1055.3 462.5 1061.5 462.5 1066.1 462.5 1070.8 477.1 1075.4 477.1 1078.2 477.1 1081 473.4 1083.8 473.4 1088.8 473.4 1093.9 492.8 1098.9 492.8 1104.9 492.8 1110.9 456 1116.9 456 1121.9 456 1127 477.7 1132 477.7 1135.8 477.7 1139.6 471.5 1143.4 471.5 1147.8 471.5 1152.3 484.1 1156.7 484.1 1161.7 484.1 1166.8 464.4 1171.8 464.4 1176.6 464.4 1181.4 478.3 1186.2 478.3 1190 478.3 1193.9 472.3 1197.7 472.3 1203.1 472.3 1208.6 493.9 1214 493.9 1219.1 493.9 1224.2 471.3 1229.3 471.3 1233.3 471.3 1237.3 477.5 1241.3 477.5 1244.7 477.5 1248.1 476.6 1251.5 476.6 1257.2 476.6 1262.9 502.7 1268.6 502.7 1274.3 502.7 1279.9 480.4 1285.6 480.4 1289 480.4 1292.5 485.8 1295.9 485.8 1299.3 485.8 1302.7 483.3 1306.1 483.3 1311.8 483.3 1317.5 505.5 1323.2 505.5 1327.7 505.5 1332.3 490.8 1336.8 490.8 1341.4 490.8 1345.9 500.7 1350.5 500.7 1355 500.7 1359.6 494.1 1364.1 494.1 1369.2 494.1 1374.4 515.9 1379.5 515.9 1384.1 515.9 1388.6 505 1393.2 505 1397.2 505 1401.1 513.6 1405.1 513.6 1410.2 513.6 1415.4 495.6 1420.5 495.6 1426.5 495.6 1432.4 535.4 1438.4 535.4 1442.9 535.4 1447.5 529.6 1452 516"/><path d="M211 236.8C211.9 243.3 212.8 249.6 213.7 249.6 215.7 249.6 217.6 231 219.6 231 220.6 231 221.5 237.2 222.5 242.6 223.1 245.7 223.6 250.9 224.2 256.6 224.8 262.6 225.4 273.1 226 280 226.8 288.8 227.5 294.2 228.3 303.2 228.9 309.8 229.4 319.5 230 326.5 230.9 337.1 231.7 344.9 232.6 355 233.3 363.5 234.1 373.8 234.8 382 235.6 390.4 236.3 394.8 237 405.2 237.8 415.6 238.6 446.3 239.3 452.6 240.9 465.8 242.5 470.9 244 475 246.5 481.5 249 481.9 251.5 487.7 253.3 492 255.1 499.9 256.9 506.8 258.7 513.7 260.5 523.9 262.3 529.6 264.4 536.1 266.4 541.7 268.5 545.1 271.1 549.5 273.7 551.2 276.3 554.7 278.1 557 279.8 559 281.6 562.3 283.6 565.9 285.5 573 287.5 577.8 291.3 587.3 295.1 604.2 298.8 604.2 303.7 604.2 308.5 585.1 313.4 585.1 316.1 585.1 318.8 603.3 321.5 612.4 326.1 627.8 330.7 658.9 335.3 658.9 340.7 658.9 346.1 637.3 351.4 637.3 356.1 637.3 360.7 649.6 365.4 657 368.4 661.8 371.5 667.1 374.5 673.1 378.8 681.6 383.2 702.4 387.5 702.4 392.7 702.4 397.9 684.4 403.1 684.4 407.8 684.4 412.6 698.2 417.3 705 423.6 714.1 429.9 731.8 436.3 731.8 443 731.8 449.8 714 456.6 714 461.1 714 465.6 724.8 470.2 730.9 474.7 737.1 479.2 751.2 483.7 751.2 491.4 751.2 499.1 722.8 506.8 722.8 512.2 722.8 517.7 733.1 523.1 739.2 527.4 744 531.8 755.1 536.1 755.1 546.2 755.1 556.3 716.1 566.4 716.1 574.4 716.1 582.4 745.2 590.4 745.2 601 745.2 611.6 694.2 622.2 694.2 629 694.2 635.7 723.6 642.4 723.6 653.3 723.6 664.2 669.5 675 669.5 680.7 669.5 686.3 687.7 692 687.7 702.4 687.7 712.8 646.5 723.2 646.5 728.4 646.5 733.5 655 738.7 655 748 655 757.4 612.3 766.7 612.3 773.9 612.3 781.2 628 788.4 628 797.5 628 806.5 569.8 815.6 569.8 822.6 569.8 829.5 597.2 836.5 597.2 845.8 597.2 855.2 542.7 864.5 542.7 871.2 542.7 878 557.7 884.7 557.7 891.7 557.7 898.7 522.3 905.7 522.3 912.2 522.3 918.6 537.9 925.1 537.9 932.6 537.9 940.1 486.9 947.6 486.9 955.1 486.9 962.6 532.5 970.1 532.5 977.4 532.5 984.6 467 991.9 467 998.6 467 1005.4 502.3 1012.1 502.3 1017.8 502.3 1023.4 470.6 1029.1 470.6 1034 470.6 1038.9 500.7 1043.8 500.7 1050 500.7 1056.3 453 1062.5 453 1067.1 453 1071.8 477.9 1076.4 477.9 1079.2 477.9 1082 466 1084.8 466 1089.8 466 1094.9 496.7 1099.9 496.7 1105.9 496.7 1111.9 445.3 1117.9 445.3 1122.9 445.3 1128 479.6 1133 479.6 1136.8 479.6 1140.6 464.3 1144.4 464.3 1148.8 464.3 1153.3 486.3 1157.7 486.3 1162.7 486.3 1167.8 455.8 1172.8 455.8 1177.6 455.8 1182.4 479.1 1187.2 479.1 1191 479.1 1194.9 464.7 1198.7 464.7 1204.1 464.7 1209.6 497 1215 497 1220.1 497 1225.2 463.2 1230.3 463.2 1234.3 463.2 1238.3 476.4 1242.3 476.4 1245.7 476.4 1249.1 469.7 1252.5 469.7 1258.2 469.7 1263.9 505.5 1269.6 505.5 1275.3 505.5 1280.9 472.8 1286.6 472.8 1290 472.8 1293.5 485 1296.9 485 1300.3 485 1303.7 476.6 1307.1 476.6 1312.8 476.6 1318.5 507.7 1324.2 507.7 1328.7 507.7 1333.3 483.1 1337.8 483.1 1342.4 483.1 1346.9 500.8 1351.5 500.8 1356 500.8 1360.6 486.4 1365.1 486.4 1370.2 486.4 1375.4 518 1380.5 518 1385.1 518 1389.6 497.6 1394.2 497.6 1398.2 497.6 1402.1 515.1 1406.1 515.1 1411.2 515.1 1416.4 485.2 1421.5 485.2 1427.5 485.2 1433.4 539 1439.4 539 1443.9 539 1448.5 528.3 1453 507.3"/><path d="M211 236.8C211.9 243.3 212.8 249.6 213.7 249.6 215.7 249.6 217.6 231 219.6 231 220.6 231 221.5 237.2 222.5 242.6 223.1 245.7 223.6 250.9 224.2 256.6 224.8 262.6 225.4 273.1 226 280 226.8 288.8 227.5 294.2 228.3 303.2 228.9 309.8 229.4 319.5 230 326.5 230.9 337.1 231.7 344.9 232.6 355 233.3 363.5 234.1 373.7 234.8 382 235.6 390.5 236.3 395.1 237 405.5 237.8 416 238.6 445.9 239.3 452.5 240.9 466.3 242.5 471.4 244 476.4 246.5 484.2 249 486 251.5 492.8 253.3 497.7 255.1 504.7 256.9 511.3 258.7 518 260.5 527.3 262.3 532.9 264.4 539.3 266.4 544.7 268.5 548.4 271.1 553 273.7 554.8 276.3 558.9 277.8 561.2 279.2 563.3 280.7 566.8 282.1 570.2 283.6 577 285 581.5 287.8 590.4 290.6 605.8 293.3 605.8 297.4 605.8 301.4 590.5 305.4 590.5 308.2 590.5 310.9 607.4 313.7 616 318.4 630.5 323 660 327.7 660 333.2 660 338.7 641.3 344.2 641.3 348.8 641.3 353.5 652.6 358.2 659.7 361.3 664.4 364.4 670.1 367.5 676 371.9 684.3 376.3 703.6 380.7 703.6 385.9 703.6 391.1 688 396.3 688 401.1 688 405.9 700.9 410.7 707.4 417 716 423.4 733.3 429.7 733.3 436.6 733.3 443.4 717.1 450.2 717.1 454.7 717.1 459.3 727.4 463.8 733.2 468.4 739.1 472.9 752.3 477.5 752.3 485.2 752.3 492.9 725.8 500.6 725.8 506 725.8 511.5 735.6 516.9 741.3 521.2 745.9 525.6 756.3 529.9 756.3 540 756.3 550.1 719.1 560.2 719.1 568.3 719.1 576.3 746.3 584.4 746.3 595 746.3 605.6 697.3 616.2 697.3 622.9 697.3 629.6 724.5 636.4 724.5 647.2 724.5 658.1 672.5 669 672.5 674.6 672.5 680.3 688.8 686 688.8 696.4 688.8 706.8 649.2 717.2 649.2 722.4 649.2 727.5 656.2 732.7 656.2 742 656.2 751.4 615.1 760.7 615.1 767.9 615.1 775.2 629 782.4 629 791.5 629 800.5 573.1 809.6 573.1 816.6 573.1 823.5 598 830.5 598 839.8 598 849.2 545.9 858.5 545.9 865.2 545.9 872 558.9 878.7 558.9 885.7 558.9 892.7 526.2 899.7 526.2 906.2 526.2 912.6 539.2 919.1 539.2 926.6 539.2 934.1 492.4 941.6 492.4 949.1 492.4 956.6 532.8 964.1 532.8 971.4 532.8 978.6 473 985.9 473 992.6 473 999.4 503.3 1006.1 503.3 1011.8 503.3 1017.4 476.2 1023.1 476.2 1028 476.2 1032.9 501.1 1037.8 501.1 1044 501.1 1050.3 458.9 1056.5 458.9 1061.1 458.9 1065.8 479.4 1070.4 479.4 1073.2 479.4 1076 471 1078.8 471 1083.8 471 1088.9 496.9 1093.9 496.9 1099.9 496.9 1105.9 451.7 1111.9 451.7 1116.9 451.7 1122 480.6 1127 480.6 1130.8 480.6 1134.6 469.2 1138.4 469.2 1142.8 469.2 1147.3 487.2 1151.7 487.2 1156.7 487.2 1161.8 461.3 1166.8 461.3 1171.6 461.3 1176.4 480.6 1181.2 480.6 1185 480.6 1188.9 469.8 1192.7 469.8 1198.1 469.8 1203.6 497.5 1209 497.5 1214.1 497.5 1219.2 468.5 1224.3 468.5 1228.3 468.5 1232.3 478.7 1236.3 478.7 1239.7 478.7 1243.1 474.5 1246.5 474.5 1252.2 474.5 1257.9 506.1 1263.6 506.1 1269.3 506.1 1274.9 477.9 1280.6 477.9 1284 477.9 1287.5 487.2 1290.9 487.2 1294.3 487.2 1297.7 481.3 1301.1 481.3 1306.8 481.3 1312.5 508.6 1318.2 508.6 1322.7 508.6 1327.3 488.2 1331.8 488.2 1336.4 488.2 1340.9 502.6 1345.5 502.6 1350 502.6 1354.6 491.5 1359.1 491.5 1364.2 491.5 1369.4 518.9 1374.5 518.9 1379.1 518.9 1383.6 502.6 1388.2 502.6 1392.2 502.6 1396.1 516.3 1400.1 516.3 1405.2 516.3 1410.4 491.5 1415.5 491.5 1421.5 491.5 1427.4 539.3 1433.4 539.3 1437.9 539.3 1442.5 530.7 1447 512.9"/><path d="M211 236.8C211.9 243.3 212.8 249.6 213.7 249.6 215.7 249.6 217.6 231 219.6 231 220.6 231 221.5 237.2 222.5 242.6 223.1 245.7 223.6 250.9 224.2 256.6 224.8 262.6 225.4 273.1 226 280 226.8 288.8 227.5 294.2 228.3 303.2 228.9 309.8 229.4 319.5 230 326.5 230.9 337.1 231.7 344.9 232.6 355 233.3 363.5 234.1 373.8 234.8 382 235.6 390.4 236.3 395.3 237 405.3 237.8 415.5 238.6 442.5 239.3 448.9 240.9 462.2 242.5 466.1 244 472.3 246.5 482.2 249 488.5 251.5 496.5 253.3 502.4 255.1 508 256.9 514 258.7 520 260.5 527.4 262.3 532.7 264.4 538.7 266.4 543.9 268.5 548.2 271.1 553.5 273.7 557.1 276.3 561.6 278 564.6 279.6 567.2 281.3 570.5 283.1 574.2 284.9 579.4 286.7 583.2 290.1 590.5 293.6 602.6 297 602.6 301.6 602.6 306.2 597.7 310.7 597.7 313.5 597.7 316.2 611.6 318.9 618.8 323.5 630.9 328.1 656.4 332.8 656.4 338.2 656.4 343.6 645.6 349 645.6 353.7 645.6 358.3 654.7 363 661.2 366 665.5 369.1 672.5 372.2 678 376.5 685.8 380.9 701.1 385.2 701.1 390.4 701.1 395.6 692 400.8 692 405.6 692 410.3 702.8 415.1 708.5 421.4 716.1 427.8 732.3 434.1 732.3 440.9 732.3 447.7 720.5 454.5 720.5 459 720.5 463.5 729.5 468.1 734.5 472.6 739.5 477.1 750.5 481.6 750.5 489.3 750.5 497 729.1 504.7 729.1 510.2 729.1 515.6 737.7 521 742.5 525.4 746.3 529.7 754.9 534 754.9 544.1 754.9 554.2 722.5 564.3 722.5 572.4 722.5 580.4 744.7 588.4 744.7 599 744.7 609.6 701.4 620.2 701.4 626.9 701.4 633.7 722.5 640.4 722.5 651.3 722.5 662.1 676.2 673 676.2 678.7 676.2 684.3 687.4 690 687.4 700.4 687.4 710.8 652 721.2 652 726.4 652 731.5 655.2 736.7 655.2 746 655.2 755.4 618.3 764.7 618.3 771.9 618.3 779.2 627.3 786.4 627.3 795.5 627.3 804.5 577.6 813.6 577.6 820.6 577.6 827.5 595.8 834.5 595.8 843.8 595.8 853.2 549.8 862.5 549.8 869.2 549.8 876 557.2 882.7 557.2 889.7 557.2 896.7 530.9 903.7 530.9 910.2 530.9 916.6 536.4 923.1 536.4 930.6 536.4 938.1 500.5 945.6 500.5 953.1 500.5 960.6 526.7 968.1 526.7 975.4 526.7 982.6 482.2 989.9 482.2 996.6 482.2 1003.4 499.1 1010.1 499.1 1015.8 499.1 1021.4 484.3 1027.1 484.3 1032 484.3 1036.9 495.1 1041.8 495.1 1048 495.1 1054.3 467.8 1060.5 467.8 1065.1 467.8 1069.8 475.6 1074.4 476.5 1077.2 477 1080 476.9 1082.8 477.4 1087.8 478.3 1092.9 490.4 1097.9 490.4 1103.9 490.4 1109.9 462 1115.9 462 1120.9 462 1126 476.3 1131 476.3 1134.8 476.3 1138.6 475.4 1142.4 475.4 1146.8 475.4 1151.3 482.7 1155.7 482.7 1160.7 482.7 1165.8 469.1 1170.8 469.1 1175.6 469.1 1180.4 477.6 1185.2 477.6 1189 477.6 1192.9 476.5 1196.7 476.5 1202.1 476.5 1207.6 492 1213 492 1218.1 492 1223.2 475.7 1228.3 475.7 1232.3 475.7 1236.3 477 1240.3 477.9 1243.7 478.6 1247.1 479 1250.5 480.3 1256.2 482.4 1261.9 500.9 1267.6 500.9 1273.3 500.9 1278.9 484.5 1284.6 484.5 1288 484.5 1291.5 485.7 1294.9 486.1 1298.3 486.5 1301.7 486.4 1305.1 486.9 1310.8 487.7 1316.5 504.1 1322.2 504.1 1326.7 504.1 1331.3 495 1335.8 495 1340.4 495 1344.9 500.4 1349.5 500.4 1354 500.4 1358.6 498.2 1363.1 498.2 1368.2 498.2 1373.4 514.5 1378.5 514.5 1383.1 514.5 1387.6 508.9 1392.2 508.9 1396.2 508.9 1400.1 512.5 1404.1 512.5 1409.2 512.5 1414.4 501.3 1419.5 501.3 1425.5 501.3 1431.4 533.1 1437.4 533.1 1441.9 533.1 1446.5 530.2 1451 520.8"/><path d="M211 236.8C211.9 243.3 212.8 249.6 213.7 249.6 215.7 249.6 217.6 231 219.6 231 220.6 231 221.5 237.2 222.5 242.6 223.1 245.7 223.6 250.9 224.2 256.6 224.8 262.6 225.4 273.1 226 280 226.8 288.8 227.5 294.2 228.3 303.2 228.9 309.8 229.4 319.5 230 326.5 230.9 337.1 231.7 344.9 232.6 355 233.3 363.5 234.1 373.8 234.8 382 235.6 390.4 236.3 394.7 237 405 237.8 415.3 238.6 446.3 239.3 452.4 240.9 465.1 242.5 470.2 244 473.9 246.5 479.8 249 479.9 251.5 485.3 253.3 489.2 255.1 497.6 256.9 504.6 258.7 511.6 260.5 522 262.3 527.8 264.4 534.4 266.4 540 268.5 543.4 271.1 547.6 273.7 549.1 276.3 552.7 277.9 554.9 279.5 556.8 281.1 560.2 282.8 563.7 284.5 571 286.2 576 289.5 585.7 292.8 603 296.1 603 300.5 603 305 582.8 309.4 582.8 312.1 582.8 314.9 601.3 317.6 610.6 322.2 626.4 326.9 658 331.5 658 336.9 658 342.4 635.5 347.8 635.5 352.5 635.5 357.1 648.2 361.8 655.6 364.9 660.4 367.9 665.6 371 671.6 375.4 680.2 379.7 701.6 384.1 701.6 389.3 701.6 394.5 682.9 399.7 682.9 404.5 682.9 409.2 696.9 414 703.8 420.3 713 426.7 731 433 731 439.8 731 446.6 712.5 453.4 712.5 457.9 712.5 462.5 723.5 467 729.8 471.5 736.1 476.1 750.4 480.6 750.4 488.3 750.4 496 721.4 503.7 721.4 509.1 721.4 514.6 732 520 738.1 524.3 743 528.7 754.4 533 754.4 543.1 754.4 553.2 714.8 563.3 714.8 571.3 714.8 579.4 744.5 587.4 744.5 598 744.5 608.6 692.8 619.2 692.8 625.9 692.8 632.7 723 639.4 723 650.3 723 661.1 668.2 672 668.2 677.7 668.2 683.3 687 689 687 699.4 687 709.8 645.3 720.2 645.3 725.4 645.3 730.5 654.2 735.7 654.2 745 654.2 754.4 611 763.7 611 770.9 611 778.2 627.4 785.4 627.4 794.5 627.4 803.5 568.3 812.6 568.3 819.6 568.3 826.5 596.6 833.5 596.6 842.8 596.6 852.2 541.3 861.5 541.3 868.2 541.3 875 556.9 881.7 556.9 888.7 556.9 895.7 520.5 902.7 520.5 909.2 520.5 915.6 537 922.1 537 929.6 537 937.1 484.5 944.6 484.5 952.1 484.5 959.6 531.9 967.1 531.9 974.4 531.9 981.6 464.4 988.9 464.4 995.6 464.4 1002.4 501.4 1009.1 501.4 1014.8 501.4 1020.4 468.2 1026.1 468.2 1031 468.2 1035.9 500.1 1040.8 500.1 1047 500.1 1053.3 450.5 1059.5 450.5 1064.1 450.5 1068.8 476.9 1073.4 476.9 1076.2 476.9 1079 463.8 1081.8 463.8 1086.8 463.8 1091.9 496.2 1096.9 496.2 1102.9 496.2 1108.9 442.6 1114.9 442.6 1119.9 442.6 1125 478.7 1130 478.7 1133.8 478.7 1137.6 462.1 1141.4 462.1 1145.8 462.1 1150.3 485.5 1154.7 485.5 1159.7 485.5 1164.8 453.4 1169.8 453.4 1174.6 453.4 1179.4 478.1 1184.2 478.1 1188 478.1 1191.9 462.5 1195.7 462.5 1201.1 462.5 1206.6 496.3 1212 496.3 1217.1 496.3 1222.2 460.9 1227.3 460.9 1231.3 460.9 1235.3 475.1 1239.3 475.1 1242.7 475.1 1246.1 467.6 1249.5 467.6 1255.2 467.6 1260.9 504.7 1266.6 504.7 1272.3 504.7 1277.9 470.6 1283.6 470.6 1287 470.6 1290.5 483.8 1293.9 483.8 1297.3 483.8 1300.7 474.5 1304.1 474.5 1309.8 474.5 1315.5 506.9 1321.2 506.9 1325.7 506.9 1330.3 480.8 1334.8 480.8 1339.4 480.8 1343.9 499.7 1348.5 499.7 1353 499.7 1357.6 484.1 1362.1 484.1 1367.2 484.1 1372.4 517.1 1377.5 517.1 1382.1 517.1 1386.6 495.4 1391.2 495.4 1395.2 495.4 1399.1 514.2 1403.1 514.2 1408.2 514.2 1413.4 482.6 1418.5 482.6 1424.5 482.6 1430.4 538.4 1436.4 538.4 1440.9 538.4 1445.5 527 1450 505"/><path d="M211 236.8C211.9 243.3 212.8 249.6 213.7 249.6 215.7 249.6 217.6 231 219.6 231 220.6 231 221.5 237.2 222.5 242.6 223.1 245.7 223.6 250.9 224.2 256.6 224.8 262.6 225.4 273.1 226 280 226.8 288.8 227.5 294.2 228.3 303.2 228.9 309.8 229.4 319.5 230 326.5 230.9 337.1 231.7 344.9 232.6 355 233.3 363.5 234.1 373.7 234.8 382 235.6 390.5 236.3 395.2 237 405.6 237.8 416.1 238.6 445 239.3 451.7 240.9 465.6 242.5 470.4 244 476 246.5 484.9 249 488.2 251.5 495.6 253.3 500.9 255.1 507.3 256.9 513.7 258.7 520.1 260.5 528.7 262.3 534.1 264.4 540.4 266.4 545.7 268.5 549.6 271.1 554.4 273.7 557.2 276.3 561.1 278.1 563.8 279.9 566.1 281.7 569.4 283.8 573.1 285.8 579 287.9 583.3 291.9 591.5 295.8 605.7 299.8 605.7 304.8 605.7 309.7 594.3 314.7 594.3 317.4 594.3 320.1 610 322.8 618 327.4 631.7 332 659.6 336.5 659.6 341.9 659.6 347.3 643.8 352.7 643.8 357.3 643.8 361.9 654.2 366.5 661.1 369.6 665.7 372.6 671.8 375.7 677.5 380 685.7 384.3 703.4 388.7 703.4 393.8 703.4 399 690.3 404.2 690.3 408.9 690.3 413.7 702.4 418.4 708.6 424.7 716.8 431 733.7 437.3 733.7 444.1 733.7 450.9 719 457.7 719 462.2 719 466.7 728.9 471.2 734.4 475.8 739.9 480.3 752.3 484.8 752.3 492.5 752.3 500.2 727.7 507.9 727.7 513.3 727.7 518.7 737.1 524.1 742.4 528.5 746.7 532.8 756.4 537.1 756.4 547.2 756.4 557.3 721 567.4 721 575.4 721 583.4 746.3 591.5 746.3 602.1 746.3 612.6 699.5 623.2 699.5 630 699.5 636.7 724.4 643.4 724.4 654.3 724.4 665.2 674.5 676 674.5 681.7 674.5 687.4 688.9 693 688.9 703.4 688.9 713.8 650.9 724.2 650.9 729.4 650.9 734.5 656.5 739.7 656.5 749 656.5 758.4 616.9 767.7 616.9 774.9 616.9 782.2 629 789.4 629 798.5 629 807.5 575.4 816.6 575.4 823.6 575.4 830.5 597.8 837.5 597.8 846.8 597.8 856.2 548 865.5 548 872.2 548 879 559 885.7 559 892.7 559 899.7 528.8 906.7 528.8 913.2 528.8 919.6 539.1 926.1 539.1 933.6 539.1 941.1 496.4 948.6 496.4 956.1 496.4 963.6 531.5 971.1 531.5 978.4 531.5 985.6 477.4 992.9 477.4 999.6 477.4 1006.4 502.7 1013.1 502.7 1018.8 502.7 1024.4 480.2 1030.1 480.2 1035 480.2 1039.9 499.9 1044.8 499.9 1051 499.9 1057.3 463.2 1063.5 463.2 1068.1 463.2 1072.8 479.3 1077.4 479.3 1080.2 479.3 1083 474.4 1085.8 474.4 1090.8 474.4 1095.9 495.5 1100.9 495.5 1106.9 495.5 1112.9 456.5 1118.9 456.5 1123.9 456.5 1129 480 1134 480 1137.8 480 1141.6 472.5 1145.4 472.5 1149.8 472.5 1154.3 486.5 1158.7 486.5 1163.7 486.5 1168.8 465.2 1173.8 465.2 1178.6 465.2 1183.4 480.5 1188.2 480.5 1192 480.5 1195.9 473.3 1199.7 473.3 1205.1 473.3 1210.6 496.4 1216 496.4 1221.1 496.4 1226.2 472.2 1231.3 472.2 1235.3 472.2 1239.3 479.4 1243.3 479.4 1246.7 479.4 1250.1 477.7 1253.5 477.7 1259.2 477.7 1264.9 505.1 1270.6 505.1 1276.3 505.1 1281.9 481.4 1287.6 481.4 1291 481.4 1294.5 487.8 1297.9 487.8 1301.3 487.8 1304.7 484.4 1308.1 484.4 1313.8 484.4 1319.5 507.9 1325.2 507.9 1329.7 507.9 1334.3 491.7 1338.8 491.7 1343.4 491.7 1347.9 502.8 1352.5 502.8 1357 502.8 1361.6 495 1366.1 495 1371.2 495 1376.4 518.2 1381.5 518.2 1386.1 518.2 1390.6 506 1395.2 506 1399.2 506 1403.1 515.9 1407.1 515.9 1412.2 515.9 1417.4 496.2 1422.5 496.2 1428.5 496.2 1434.4 538 1440.4 538 1444.9 538 1449.5 531.5 1454 516.9"/><path d="M211 236.8C211.9 243.3 212.8 249.6 213.7 249.6 215.7 249.6 217.6 231 219.6 231 220.6 231 221.5 237.2 222.5 242.6 223.1 245.7 223.6 250.9 224.2 256.6 224.8 262.6 225.4 273.1 226 280 226.8 288.8 227.5 294.2 228.3 303.2 228.9 309.8 229.4 319.5 230 326.5 230.9 337.1 231.7 344.9 232.6 355 233.3 363.5 234.1 373.8 234.8 382 235.6 390.4 236.3 395 237 404.9 237.8 415 238.6 442.4 239.3 448.5 240.9 461.1 242.5 464.5 244 470.2 246.5 479.2 249 484 251.5 491.7 253.3 497.2 255.1 503.3 256.9 509.5 258.7 515.8 260.5 523.7 262.3 529 264.4 535.2 266.4 540.5 268.5 544.7 271.1 549.9 273.7 553 276.3 557.5 277.9 560.3 279.4 562.8 281 566.3 282.6 569.8 284.2 575.6 285.8 579.5 288.9 587.3 292.1 600.3 295.2 600.3 299.5 600.3 303.8 593 308.1 593 310.8 593 313.6 607.7 316.3 615.3 320.9 628.1 325.6 654.7 330.2 654.7 335.7 654.7 341.1 642 346.6 642 351.3 642 355.9 651.7 360.6 658.4 363.7 662.9 366.8 669.5 369.8 675.1 374.2 683.1 378.6 699.4 383 699.4 388.2 699.4 393.4 688.8 398.6 688.8 403.4 688.8 408.1 700.2 412.9 706.1 419.2 714 425.6 730.5 431.9 730.5 438.7 730.5 445.5 717.6 452.3 717.6 456.9 717.6 461.4 727 465.9 732.2 470.5 737.4 475 749 479.6 749 487.3 749 495 726.4 502.7 726.4 508.1 726.4 513.5 735.3 519 740.3 523.3 744.3 527.6 753.4 532 753.4 542.1 753.4 552.2 719.8 562.3 719.8 570.3 719.8 578.4 743.3 586.4 743.3 597 743.3 607.6 698.6 618.2 698.6 624.9 698.6 631.7 721.2 638.4 721.2 649.3 721.2 660.1 673.5 671 673.5 676.7 673.5 682.3 686 688 686 698.4 686 708.8 649.6 719.2 649.6 724.4 649.6 729.5 653.7 734.7 653.7 744 653.7 753.4 615.8 762.7 615.8 769.9 615.8 777.2 625.9 784.4 625.9 793.5 625.9 802.5 574.7 811.6 574.7 818.6 574.7 825.5 594.6 832.5 594.6 841.8 594.6 851.2 547 860.5 547 867.2 547 874 555.5 880.7 555.5 887.7 555.5 894.7 527.4 901.7 527.4 908.2 527.4 914.6 534.6 921.1 534.6 928.6 534.6 936.1 495.7 943.6 495.7 951.1 495.7 958.6 525.4 966.1 525.4 973.4 525.4 980.6 477.1 987.9 477.1 994.6 477.1 1001.4 497.4 1008.1 497.4 1013.8 497.4 1019.4 479.5 1025.1 479.5 1030 479.5 1034.9 493.8 1039.8 493.8 1046 493.8 1052.3 462.8 1058.5 462.8 1063.1 462.8 1067.8 474.4 1072.4 474.4 1075.2 474.4 1078 473 1080.8 473 1085.8 473 1090.9 489.2 1095.9 489.2 1101.9 489.2 1107.9 456.6 1113.9 456.6 1118.9 456.6 1124 474.6 1129 474.6 1132.8 474.6 1136.6 471.1 1140.4 471.1 1144.8 471.1 1149.3 481 1153.7 481 1158.7 481 1163.8 464.3 1168.8 464.3 1173.6 464.3 1178.4 475.6 1183.2 475.6 1187 475.6 1190.9 472 1194.7 472 1200.1 472 1205.6 490.6 1211 490.6 1216.1 490.6 1221.2 471.1 1226.3 471.1 1230.3 471.1 1234.3 474.8 1238.3 475.3 1241.7 475.7 1245.1 475.6 1248.5 476 1254.2 476.8 1259.9 499.4 1265.6 499.4 1271.3 499.4 1276.9 480.1 1282.6 480.1 1286 480.1 1289.5 483.6 1292.9 483.6 1296.3 483.6 1299.7 482.7 1303.1 482.7 1308.8 482.7 1314.5 502.4 1320.2 502.4 1324.7 502.4 1329.3 490.5 1333.8 490.5 1338.4 490.5 1342.9 498.2 1347.5 498.2 1352 498.2 1356.6 493.7 1361.1 493.7 1366.2 493.7 1371.4 512.8 1376.5 512.8 1381.1 512.8 1385.6 504.5 1390.2 504.5 1394.2 504.5 1398.1 510.6 1402.1 510.6 1407.2 510.6 1412.4 496.1 1417.5 496.1 1423.5 496.1 1429.4 531.9 1435.4 531.9 1439.9 531.9 1444.5 527.5 1449 516"/><path d="M211 236.8C211.9 243.3 212.8 249.6 213.7 249.6 215.7 249.6 217.6 231 219.6 231 220.6 231 221.5 237.2 222.5 242.6 223.1 245.7 223.6 250.9 224.2 256.6 224.8 262.6 225.4 273.1 226 280 226.8 288.8 227.5 294.2 228.3 303.2 228.9 309.8 229.4 319.5 230 326.5 230.9 337.1 231.7 344.9 232.6 355 233.3 363.5 234.1 373.9 234.8 382 235.6 390.3 236.3 394.5 237 404.6 237.8 414.8 238.6 444.8 239.3 450.6 240.9 462.5 242.5 466.7 244 470.7 246.5 476.9 249 477.6 251.5 483.4 253.3 487.7 255.1 495.6 256.9 502.5 258.7 509.4 260.5 519.4 262.3 525.1 264.4 531.6 266.4 537.2 268.5 540.8 271.1 545.3 273.7 546.9 276.3 550.9 277.7 553.1 279.1 555.2 280.6 558.7 281.9 562.1 283.2 569.4 284.6 574.1 287.2 583.5 289.8 600 292.4 600 296.3 600 300.2 582.5 304.1 582.5 306.8 582.5 309.6 600.3 312.4 609.3 317.1 624.5 321.8 655.2 326.5 655.2 332 655.2 337.4 634.8 342.9 634.8 347.6 634.8 352.4 646.9 357.1 654.2 360.1 659 363.2 664.5 366.3 670.5 370.7 679 375.1 699.4 379.5 699.4 384.8 699.4 390 682.3 395.2 682.3 400 682.3 404.8 695.9 409.6 702.6 415.9 711.5 422.3 729.2 428.7 729.2 435.5 729.2 442.3 712 449.1 712 453.7 712 458.2 722.7 462.8 728.7 467.3 734.8 471.9 748.6 476.4 748.6 484.1 748.6 491.8 720.9 499.5 720.9 505 720.9 510.4 731.1 515.9 737.1 520.2 741.8 524.6 752.7 528.9 752.7 539 752.7 549.1 714.3 559.2 714.3 567.3 714.3 575.3 742.8 583.3 742.8 593.9 742.8 604.6 692.5 615.2 692.5 621.9 692.5 628.6 721.2 635.4 721.2 646.2 721.2 657.1 667.8 668 667.8 673.6 667.8 679.3 685.4 685 685.4 695.4 685.4 705.8 644.7 716.2 644.7 721.4 644.7 726.5 652.7 731.7 652.7 741 652.7 750.4 610.5 759.7 610.5 766.9 610.5 774.2 625.7 781.4 625.7 790.5 625.7 799.5 568.2 808.6 568.2 815.6 568.2 822.5 594.8 829.5 594.8 838.8 594.8 848.2 540.9 857.5 540.9 864.2 540.9 871 554.9 877.7 554.9 884.7 554.9 891.7 520.1 898.7 520.1 905.2 520.1 911.6 534.5 918.1 534.5 925.6 534.5 933.1 484.5 940.6 484.5 948.1 484.5 955.6 528.3 963.1 528.3 970.4 528.3 977.6 464.7 984.9 464.7 991.6 464.7 998.4 498.3 1005.1 498.3 1010.8 498.3 1016.4 468.2 1022.1 468.2 1027 468.2 1031.9 496.6 1036.8 496.6 1043 496.6 1049.3 450.7 1055.5 450.7 1060.1 450.7 1064.8 474.1 1069.4 474.1 1072.2 474.1 1075 463.4 1077.8 463.4 1082.8 463.4 1087.9 492.5 1092.9 492.5 1098.9 492.5 1104.9 443.1 1110.9 443.1 1115.9 443.1 1121 475.7 1126 475.7 1129.8 475.7 1133.6 461.6 1137.4 461.6 1141.8 461.6 1146.3 482.3 1150.7 482.3 1155.7 482.3 1160.8 453.4 1165.8 453.4 1170.6 453.4 1175.4 475.3 1180.2 475.3 1184 475.3 1187.9 462.1 1191.7 462.1 1197.1 462.1 1202.6 492.9 1208 492.9 1213.1 492.9 1218.2 460.7 1223.3 460.7 1227.3 460.7 1231.3 472.9 1235.3 472.9 1238.7 472.9 1242.1 467.1 1245.5 467.1 1251.2 467.1 1256.9 501.4 1262.6 501.4 1268.3 501.4 1273.9 470.2 1279.6 470.2 1283 470.2 1286.5 481.5 1289.9 481.5 1293.3 481.5 1296.7 473.9 1300.1 473.9 1305.8 473.9 1311.5 503.7 1317.2 503.7 1321.7 503.7 1326.3 480.5 1330.8 480.5 1335.4 480.5 1339.9 497.1 1344.5 497.1 1349 497.1 1353.6 483.8 1358.1 483.8 1363.2 483.8 1368.4 514 1373.5 514 1378.1 514 1382.6 495 1387.2 495 1391.2 495 1395.1 511.3 1399.1 511.3 1404.2 511.3 1409.4 483 1414.5 483 1420.5 483 1426.4 534.8 1432.4 534.8 1436.9 534.8 1441.5 524.9 1446 504.9"/><path d="M211 236.8C211.9 243.3 212.8 249.6 213.7 249.6 215.7 249.6 217.6 231 219.6 231 220.6 231 221.5 237.2 222.5 242.6 223.1 245.7 223.6 250.9 224.2 256.6 224.8 262.6 225.4 273.1 226 280 226.8 288.8 227.5 294.2 228.3 303.2 228.9 309.8 229.4 319.5 230 326.5 230.9 337.1 231.7 344.9 232.6 355 233.3 363.5 234.1 373.6 234.8 382 235.6 390.6 236.3 395.4 237 406.3 237.8 417.3 238.6 450 239.3 457.4 240.9 472.8 242.5 480.4 244 484.4 246.5 490.8 249 490.6 251.5 496.1 253.3 500.1 255.1 508.3 256.9 515.3 258.7 522.4 260.5 533.2 262.3 538.9 264.4 545.4 266.4 551 268.5 554.1 271.1 557.9 273.7 559.1 276.3 562.2 278.1 564.2 279.8 566.1 281.6 569.2 283.6 572.7 285.5 580.2 287.5 585.3 291.3 595.1 295.1 613.1 298.8 613.1 303.7 613.1 308.5 589.7 313.4 589.7 316.1 589.7 318.8 608.8 321.5 618.4 326.1 634.6 330.7 666.9 335.3 666.9 340.7 666.9 346.1 641.9 351.4 641.9 356.1 641.9 360.7 655 365.4 662.4 368.4 667.3 371.5 672.1 374.5 678.2 378.8 686.7 383.2 709 387.5 709 392.7 709 397.9 688.4 403.1 688.4 407.8 688.4 412.6 702.9 417.3 709.9 423.6 719.2 429.9 737.4 436.3 737.4 443 737.4 449.8 717.6 456.6 717.6 461.1 717.6 465.6 728.9 470.2 735.3 474.7 741.8 479.2 756.7 483.7 756.7 491.4 756.7 499.1 726.2 506.8 726.2 512.2 726.2 517.7 737.1 523.1 743.4 527.4 748.5 531.8 760.3 536.1 760.3 546.2 760.3 556.3 719.4 566.4 719.4 574.4 719.4 582.4 750.3 590.4 750.3 601 750.3 611.6 697.1 622.2 697.1 629 697.1 635.7 728.8 642.4 728.8 653.3 728.8 664.2 672.5 675 672.5 680.7 672.5 686.3 692.6 692 692.6 702.4 692.6 712.8 649.9 723.2 649.9 728.4 649.9 733.5 659.7 738.7 659.7 748 659.7 757.4 615.4 766.7 615.4 773.9 615.4 781.2 633.1 788.4 633.1 797.5 633.1 806.5 572.5 815.6 572.5 822.6 572.5 829.5 602.4 836.5 602.4 845.8 602.4 855.2 545.9 864.5 545.9 871.2 545.9 878 563.6 884.7 563.6 891.7 563.6 898.7 526.2 905.7 526.2 912.2 526.2 918.6 545.3 925.1 545.3 932.6 545.3 940.1 490.7 947.6 490.7 955.1 490.7 962.6 541.8 970.1 541.8 977.4 541.8 984.6 470.5 991.9 470.5 998.6 470.5 1005.4 510.8 1012.1 510.8 1017.8 510.8 1023.4 474.5 1029.1 474.5 1034 474.5 1038.9 510 1043.8 510 1050 510 1056.3 456.6 1062.5 456.6 1067.1 456.6 1071.8 486 1076.4 486 1079.2 486 1082 470.6 1084.8 470.6 1089.8 470.6 1094.9 506.2 1099.9 506.2 1105.9 506.2 1111.9 448.4 1117.9 448.4 1122.9 448.4 1128 488.2 1133 488.2 1136.8 488.2 1140.6 468.9 1144.4 468.9 1148.8 468.9 1153.3 495 1157.7 495 1162.7 495 1167.8 459.9 1172.8 459.9 1177.6 459.9 1182.4 487.2 1187.2 487.2 1191 487.2 1194.9 469.2 1198.7 469.2 1204.1 469.2 1209.6 506 1215 506 1220.1 506 1225.2 467.5 1230.3 467.5 1234.3 467.5 1238.3 483.7 1242.3 483.7 1245.7 483.7 1249.1 474.6 1252.5 474.6 1258.2 474.6 1263.9 514.4 1269.6 514.4 1275.3 514.4 1280.9 477.3 1286.6 477.3 1290 477.3 1293.5 492.4 1296.9 492.4 1300.3 492.4 1303.7 481.5 1307.1 481.5 1312.8 481.5 1318.5 516.4 1324.2 516.4 1328.7 516.4 1333.3 487.5 1337.8 487.5 1342.4 487.5 1346.9 508.6 1351.5 508.6 1356 508.6 1360.6 490.9 1365.1 490.9 1370.2 490.9 1375.4 526.6 1380.5 526.6 1385.1 526.6 1389.6 502.3 1394.2 502.3 1398.2 502.3 1402.1 523.6 1406.1 523.6 1411.2 523.6 1416.4 488.5 1421.5 488.5 1427.5 488.5 1433.4 548.3 1439.4 548.3 1443.9 548.3 1448.5 535.5 1453 511.4"/></g>
<path stroke="#00ff00" d="M211 236.8C211.9 243.3 212.8 249.6 213.7 249.6 215.7 249.6 217.6 231 219.6 231 220.6 231 221.5 237.2 222.5 242.6 223.1 245.7 223.6 250.9 224.2 256.6 224.8 262.6 225.4 273.1 226 280 226.8 288.8 227.5 294.2 228.3 303.2 228.9 309.8 229.4 319.5 230 326.5 230.9 337.1 231.7 344.9 232.6 355 233.3 363.5 234.1 374.1 234.8 382 235.6 390.6 236.4 389.4 237.2 405 237.3 407 237.4 417.5 237.5 420 238.3 439.1 239 445.9 239.8 451 241.6 463.1 243.4 467.9 245.2 472.8 247.8 479.9 250.4 481.6 253 488.3 254.8 492.9 256.6 500.3 258.4 507 260.2 513.7 262 523.1 263.8 528.7 265.9 535.1 267.9 540.6 270 544.3 272.6 549 275.2 551 277.8 555 279.4 557.4 280.9 559.6 282.5 563 284.1 566.5 285.7 573.2 287.3 577.8 290.4 586.7 293.5 602.3 296.6 602.3 300.9 602.3 305.1 587.2 309.4 587.2 312.1 587.2 314.9 604.2 317.6 612.8 322.2 627.4 326.9 657 331.5 657 336.9 657 342.4 638.4 347.8 638.4 352.5 638.4 357.1 649.8 361.8 657 364.9 661.7 367.9 667.4 371 673.3 375.4 681.7 379.7 701 384.1 701 389.3 701 394.5 685.5 399.7 685.5 404.5 685.5 409.2 698.5 414 705 420.3 713.7 426.7 731 433 731 439.8 731 446.6 714.8 453.4 714.8 457.9 714.8 462.5 725.2 467 731 471.5 736.8 476.1 750.1 480.6 750.1 488.3 750.1 496 723.6 503.7 723.6 509.1 723.6 514.6 733.5 520 739.2 524.3 743.7 528.7 754.2 533 754.2 543.1 754.2 553.2 717 563.3 717 571.3 717 579.4 744.2 587.4 744.2 598 744.2 608.6 695.3 619.2 695.3 625.9 695.3 632.7 722.5 639.4 722.5 650.3 722.5 661.1 670.5 672 670.5 677.7 670.5 683.3 686.8 689 686.8 699.4 686.8 709.8 647.2 720.2 647.2 725.4 647.2 730.5 654.2 735.7 654.2 745 654.2 754.4 613.1 763.7 613.1 770.9 613.1 778.2 627 785.4 627 794.5 627 803.5 571.1 812.6 571.1 819.6 571.1 826.5 596 833.5 596 842.8 596 852.2 544 861.5 544 868.2 544 875 557.2 881.7 557.2 888.7 557.2 895.7 524.6 902.7 524.6 909.2 524.6 915.6 537.8 922.1 537.8 929.6 537.8 937.1 491.2 944.6 491.2 952.1 491.2 959.6 531.6 967.1 531.6 974.4 531.6 981.6 471.8 988.9 471.8 995.6 471.8 1002.4 502.1 1009.1 502.1 1014.8 502.1 1020.4 475 1026.1 475 1031 475 1035.9 499.9 1040.8 499.9 1047 499.9 1053.3 457.7 1059.5 457.7 1064.1 457.7 1068.8 478.2 1073.4 478.2 1076.2 478.2 1079 469.8 1081.8 469.8 1086.8 469.8 1091.9 495.7 1096.9 495.7 1102.9 495.7 1108.9 450.5 1114.9 450.5 1119.9 450.5 1125 479.4 1130 479.4 1133.8 479.4 1137.6 468 1141.4 468 1145.8 468 1150.3 486 1154.7 486 1159.7 486 1164.8 460.1 1169.8 460.1 1174.6 460.1 1179.4 479.4 1184.2 479.4 1188 479.4 1191.9 468.6 1195.7 468.6 1201.1 468.6 1206.6 496.3 1212 496.3 1217.1 496.3 1222.2 467.3 1227.3 467.3 1231.3 467.3 1235.3 477.5 1239.3 477.5 1242.7 477.5 1246.1 473.3 1249.5 473.3 1255.2 473.3 1260.9 504.9 1266.6 504.9 1272.3 504.9 1277.9 476.7 1283.6 476.7 1287 476.7 1290.5 486 1293.9 486 1297.3 486 1300.7 480.1 1304.1 480.1 1309.8 480.1 1315.5 507.4 1321.2 507.4 1325.7 507.4 1330.3 487 1334.8 487 1339.4 487 1343.9 501.4 1348.5 501.4 1353 501.4 1357.6 490.3 1362.1 490.3 1367.2 490.3 1372.4 517.7 1377.5 517.7 1382.1 517.7 1386.6 501.4 1391.2 501.4 1395.2 501.4 1399.1 515.1 1403.1 515.1 1408.2 515.1 1413.4 490.3 1418.5 490.3 1424.5 490.3 1430.4 538.1 1436.4 538.1 1440.9 538.1 1445.5 529.5 1450 511.7"/>
<g stroke="#ff8000"><path d="M211 236.8C211.9 243.3 212.8 249.6 213.7 249.6 215.7 249.6 217.6 231 219.6 231 220.6 231 221.5 237.2 222.5 242.6 223.1 245.7 223.6 250.9 224.2 256.6 224.8 262.6 225.4 273.1 226 280 226.8 288.8 227.5 294.2 228.3 303.2 228.9 309.8 229.4 319.5 230 326.5 230.9 337.1 231.7 344.9 232.6 355 233.3 363.5 234.1 372.7 234.8 382 235.4 389.2 235.9 392.6 236.5 404.3 236.7 408.2 236.9 420.6 237.1 424.3 237.4 431.7 237.8 435.7 238.2 438.5 239.1 445.4 240 451.8 241 451.8 244 451.8 247 448.4 250 448.4 252.7 448.4 255.4 458.7 258.1 463.7 260.8 468.7 263.4 478.4 266.1 478.4 269.3 478.4 272.6 472.7 275.8 472.7 280 472.7 284.2 491.6 288.4 491.6 292.1 491.6 295.8 472.9 299.4 472.9 307.3 472.9 315.1 503.8 322.9 503.8 327.5 503.8 332.1 468.5 336.6 468.5 341.3 468.5 346 494.3 350.7 494.3 355.4 494.3 360.1 465 364.8 465 370 465 375.2 500.6 380.3 500.6 385.5 500.6 390.7 457.6 395.9 457.6 401.2 457.6 406.6 495.9 411.9 495.9 417.7 495.9 423.5 447.7 429.3 447.7 434.5 447.7 439.8 479.5 445 479.5 449.3 479.5 453.6 446.6 458 446.6 462.6 446.6 467.3 469.7 472 469.7 476.6 469.7 481.3 442.2 486 442.2 490.6 442.2 495.3 464.5 500 464.5 504.7 464.5 509.3 432.6 514 432.6 518.7 432.6 523.3 442.9 528 442.9 532.7 442.9 537.3 409 542 409 546.7 409 551.3 438.3 556 438.3 560 438.3 564 403 568 403 572.7 403 577.3 424.8 582 424.8 586.3 424.8 590.7 397.1 595 397.1 599.3 397.1 603.7 417.4 608 417.4 613.3 417.4 618.7 392.3 624 392.3 629 392.3 634 420.7 639 420.7 643.7 420.7 648.3 389.9 653 389.9 657.6 389.9 662.2 414.5 666.8 414.5 671.2 414.5 675.6 387.5 680 387.5 684.3 387.5 688.7 419 693 419 697.7 419 702.3 385.2 707 385.2 711.3 385.2 715.7 416.8 720 416.8 724.3 416.8 728.7 384.2 733 384.2 737.7 384.2 742.3 416.8 747 416.8 751.3 416.8 755.7 383.2 760 383.2 764.7 383.2 769.3 414.6 774 414.6 778.6 414.6 783.3 382.1 787.9 382.1 792.3 382.1 796.6 412.1 801 412.1 805.9 412.1 810.9 387.7 815.8 387.7 820.2 387.7 824.6 413.3 829 413.3 833.7 413.3 838.3 385 843 385 847.9 385 852.9 419 857.8 419 862.1 419 866.3 390.8 870.6 390.8 874.7 390.8 878.9 416.7 883 416.7 887.9 416.7 892.8 386.5 897.7 386.5 901.6 386.5 905.5 419 909.4 419 914.6 419 919.8 391.1 925 391.1 928.9 391.1 932.7 416.6 936.6 416.6 942.1 416.6 947.5 385.2 953 385.2 957.3 385.2 961.7 412.2 966 412.2 970.7 412.2 975.3 383.8 980 383.8 984.3 383.8 988.7 410.1 993 410.1 997.7 410.1 1002.3 381.8 1007 381.8 1011.6 381.8 1016.2 410.1 1020.8 410.1 1025.2 410.1 1029.6 379.4 1034 379.4 1038.2 379.4 1042.5 409.3 1046.7 409.3 1051.5 409.3 1056.2 378.8 1061 378.8 1065.6 378.8 1070.2 406 1074.8 406 1079.2 406 1083.6 378.7 1088 378.7 1092.7 378.7 1097.3 409.2 1102 409.2 1106.7 409.2 1111.3 379.8 1116 379.8 1120.7 379.8 1125.3 407.1 1130 407.1 1134.3 407.1 1138.7 380.9 1143 380.9 1147.7 380.9 1152.3 409 1157 409 1161.2 409 1165.5 382.6 1169.7 382.6 1175.2 382.6 1180.7 409 1186.2 409 1189.8 409 1193.3 380.1 1196.9 380.1 1202.4 380.1 1207.9 409.2 1213.4 409.2 1217.2 409.2 1220.9 377.7 1224.7 377.7 1229.2 377.7 1233.8 407 1238.3 407 1243.2 407 1248 378.6 1252.9 378.6 1256.8 378.6 1260.6 407.2 1264.5 407.2 1269.3 407.2 1274.2 377.9 1279 377.9 1282.9 377.9 1286.9 409.1 1290.8 409.1 1296.5 409.1 1302.3 381.6 1308 381.6 1312.7 381.6 1317.3 408.8 1322 408.8 1327.1 408.8 1332.3 383.6 1337.4 383.6 1341.9 383.6 1346.5 409.9 1351 409.9 1355.8 409.9 1360.6 384.7 1365.4 384.7 1369.9 384.7 1374.5 411 1379 411 1383.4 411 1387.8 385.8 1392.2 385.8 1396.8 385.8 1401.4 412.1 1406 412.1 1410.3 412.1 1414.7 384.8 1419 384.8 1423.3 384.8 1427.7 411.1 1432 411.1 1436.3 411.1 1440.7 386.4 1445 386.4 1445.3 386.4 1445.7 386.8 1446 387.1"/><path d="M211 236.8C211.9 243.3 212.8 249.6 213.7 249.6 215.7 249.6 217.6 231 219.6 231 220.6 231 221.5 237.2 222.5 242.6 223.1 245.7 223.6 250.9 224.2 256.6 224.8 262.6 225.4 273.1 226 280 226.8 288.8 227.5 294.2 228.3 303.2 228.9 309.8 229.4 319.5 230 326.5 230.9 337.1 231.7 344.9 232.6 355 233.3 363.5 234.1 375.1 234.8 382 235.8 391.7 236.9 396.1 237.9 405.2 238.6 411.2 239.2 422.3 239.9 426.5 241.2 434.6 242.5 439.3 243.8 442.8 246.7 450.5 249.6 458.6 252.4 458.6 255.6 458.6 258.8 451.6 262 451.6 264.5 451.6 267 462.4 269.5 467.6 272 472.9 274.6 483.1 277.1 483.1 280.1 483.1 283.2 475 286.2 475 290.3 475 294.3 496.2 298.4 496.2 301.9 496.2 305.4 474.2 309 474.2 316.6 474.2 324.2 508.3 331.9 508.3 336.4 508.3 340.9 468.5 345.4 468.5 350 468.5 354.6 498.6 359.3 498.6 363.9 498.6 368.6 464.9 373.2 464.9 378.4 464.9 383.5 505.5 388.7 505.5 393.8 505.5 399 457 404.1 457 409.4 457 414.8 500.6 420.1 500.6 425.9 500.6 431.7 447.3 437.5 447.3 442.7 447.3 447.8 483.9 453 483.9 457.4 483.9 461.7 446.5 466 446.5 470.7 446.5 475.4 473.6 480 473.6 484.7 473.6 489.4 442.3 494 442.3 498.7 442.3 503.3 468.6 508 468.6 512.7 468.6 517.3 433 522 433 526.7 433 531.3 446.5 536 446.5 540.7 446.5 545.3 408.6 550 408.6 554.7 408.6 559.3 442.9 564 442.9 568 442.9 572 402.7 576 402.7 580.7 402.7 585.3 428.7 590 428.7 594.3 428.7 598.7 397.2 603 397.2 607.3 397.2 611.7 421 616 421 621.3 421 626.7 392.5 632 392.5 637 392.5 642 424.8 647 424.8 651.7 424.8 656.3 389.8 661 389.8 665.6 389.8 670.2 418.5 674.8 418.5 679.2 418.5 683.6 387.2 688 387.2 692.3 387.2 696.7 423.5 701 423.5 705.7 423.5 710.3 384.7 715 384.7 719.3 384.7 723.7 421.3 728 421.3 732.3 421.3 736.7 383.7 741 383.7 745.7 383.7 750.3 421.4 755 421.4 759.3 421.4 763.7 382.7 768 382.7 772.7 382.7 777.3 419 782 419 786.6 419 791.3 381.6 795.9 381.6 800.3 381.6 804.6 416.1 809 416.1 813.9 416.1 818.9 387.9 823.8 387.9 828.2 387.9 832.6 417.3 837 417.3 841.7 417.3 846.3 384.7 851 384.7 855.9 384.7 860.9 423.4 865.8 423.4 870.1 423.4 874.3 390.7 878.6 390.7 882.7 390.7 886.9 420.8 891 420.8 895.9 420.8 900.8 386 905.7 386 909.6 386 913.5 423.4 917.4 423.4 922.6 423.4 927.8 391.1 933 391.1 936.9 391.1 940.7 420.7 944.6 420.7 950.1 420.7 955.5 385.1 961 385.1 965.3 385.1 969.7 416.3 974 416.3 978.7 416.3 983.3 383.7 988 383.7 992.3 383.7 996.7 414.2 1001 414.2 1005.7 414.2 1010.3 381.7 1015 381.7 1019.6 381.7 1024.2 414.4 1028.8 414.4 1033.2 414.4 1037.6 378.9 1042 378.9 1046.2 378.9 1050.5 413.6 1054.7 413.6 1059.5 413.6 1064.2 378.6 1069 378.6 1073.6 378.6 1078.2 410.1 1082.8 410.1 1087.2 410.1 1091.6 378.5 1096 378.5 1100.7 378.5 1105.3 413.4 1110 413.4 1114.7 413.4 1119.3 379.7 1124 379.7 1128.7 379.7 1133.3 411.1 1138 411.1 1142.3 411.1 1146.7 380.8 1151 380.8 1155.7 380.8 1160.3 413.1 1165 413.1 1169.2 413.1 1173.5 382.7 1177.7 382.7 1183.2 382.7 1188.7 413.2 1194.2 413.2 1197.8 413.2 1201.3 379.8 1204.9 379.8 1210.4 379.8 1215.9 413.5 1221.4 413.5 1225.2 413.5 1228.9 377.2 1232.7 377.2 1237.2 377.2 1241.8 411.1 1246.3 411.1 1251.2 411.1 1256 378.4 1260.9 378.4 1264.8 378.4 1268.6 411.5 1272.5 411.5 1277.3 411.5 1282.2 377.5 1287 377.5 1290.9 377.5 1294.9 413.2 1298.8 413.2 1304.5 413.2 1310.3 381.8 1316 381.8 1320.7 381.8 1325.3 412.7 1330 412.7 1335.1 412.7 1340.3 383.7 1345.4 383.7 1349.9 383.7 1354.5 413.8 1359 413.8 1363.8 413.8 1368.6 384.8 1373.4 384.8 1377.9 384.8 1382.5 415 1387 415 1391.4 415 1395.8 385.9 1400.2 385.9 1404.8 385.9 1409.4 416.2 1414 416.2 1418.3 416.2 1422.7 384.7 1427 384.7 1431.3 384.7 1435.7 415.2 1440 415.2 1444.3 415.2 1448.7 387.3 1453 387.3 1453.3 387.3 1453.7 387.8 1454 388.2"/><path d="M211 236.8C211.9 243.3 212.8 249.6 213.7 249.6 215.7 249.6 217.6 231 219.6 231 220.6 231 221.5 237.2 222.5 242.6 223.1 245.7 223.6 250.9 224.2 256.6 224.8 262.6 225.4 273.1 226 280 226.8 288.8 227.5 294.2 228.3 303.2 228.9 309.8 229.4 319.5 230 326.5 230.9 337.1 231.7 344.9 232.6 355 233.3 363.5 234.1 374.5 234.8 382 235.7 391.4 236.6 396.1 237.5 406.1 238.1 412.1 238.7 424 239.2 428.7 240.3 437.7 241.3 443 242.4 447 244.8 455.9 247.2 465.5 249.6 465.5 252.7 465.5 255.9 454.9 259 454.9 261.6 454.9 264.1 466 266.7 471.5 269.2 477 271.8 487.9 274.3 487.9 277.4 487.9 280.5 477.4 283.6 477.4 287.7 477.4 291.8 500.8 295.9 500.8 299.4 500.8 303 475.5 306.6 475.5 314.3 475.5 322 512.8 329.6 512.8 334.2 512.8 338.7 468.5 343.2 468.5 347.8 468.5 352.5 502.9 357.1 502.9 361.8 502.9 366.4 464.8 371.1 464.8 376.3 464.8 381.4 510.3 386.6 510.3 391.7 510.3 396.9 456.3 402.1 456.3 407.4 456.3 412.7 505.4 418 505.4 423.8 505.4 429.6 446.8 435.4 446.8 440.6 446.8 445.8 488.3 451 488.3 455.4 488.3 459.7 446.3 464 446.3 468.7 446.3 473.3 477.5 478 477.5 482.7 477.5 487.3 442.5 492 442.5 496.7 442.5 501.3 472.7 506 472.7 510.7 472.7 515.3 433.4 520 433.4 524.7 433.4 529.3 450.1 534 450.1 538.7 450.1 543.3 408.2 548 408.2 552.7 408.2 557.3 447.5 562 447.5 566 447.5 570 402.4 574 402.4 578.7 402.4 583.3 432.6 588 432.6 592.3 432.6 596.7 397.2 601 397.2 605.3 397.2 609.7 424.6 614 424.6 619.3 424.6 624.7 392.6 630 392.6 635 392.6 640 429 645 429 649.7 429 654.3 389.7 659 389.7 663.6 389.7 668.2 422.5 672.8 422.5 677.2 422.5 681.6 386.9 686 386.9 690.3 386.9 694.7 428 699 428 703.7 428 708.3 384.2 713 384.2 717.3 384.2 721.7 425.9 726 425.9 730.3 425.9 734.7 383.3 739 383.3 743.7 383.3 748.3 425.9 753 425.9 757.3 425.9 761.7 382.2 766 382.2 770.7 382.2 775.3 423.3 780 423.3 784.6 423.3 789.3 381.2 793.9 381.2 798.3 381.2 802.6 420.2 807 420.2 811.9 420.2 816.9 388.1 821.8 388.1 826.2 388.1 830.6 421.4 835 421.4 839.7 421.4 844.3 384.5 849 384.5 853.9 384.5 858.9 427.8 863.8 427.8 868.1 427.8 872.3 390.5 876.6 390.5 880.7 390.5 884.9 424.9 889 424.9 893.9 424.9 898.8 385.5 903.7 385.5 907.6 385.5 911.5 427.7 915.4 427.7 920.6 427.7 925.8 391 931 391 934.9 391 938.7 424.8 942.6 424.8 948.1 424.8 953.5 385 959 385 963.3 385 967.7 420.5 972 420.5 976.7 420.5 981.3 383.6 986 383.6 990.3 383.6 994.7 418.3 999 418.3 1003.7 418.3 1008.3 381.6 1013 381.6 1017.6 381.6 1022.2 418.6 1026.8 418.6 1031.2 418.6 1035.6 378.5 1040 378.5 1044.2 378.5 1048.5 417.9 1052.7 417.9 1057.5 417.9 1062.2 378.5 1067 378.5 1071.6 378.5 1076.2 414.2 1080.8 414.2 1085.2 414.2 1089.6 378.3 1094 378.3 1098.7 378.3 1103.3 417.7 1108 417.7 1112.7 417.7 1117.3 379.6 1122 379.6 1126.7 379.6 1131.3 415.2 1136 415.2 1140.3 415.2 1144.7 380.7 1149 380.7 1153.7 380.7 1158.3 417.3 1163 417.3 1167.2 417.3 1171.5 382.8 1175.7 382.8 1181.2 382.8 1186.7 417.3 1192.2 417.3 1195.8 417.3 1199.3 379.6 1202.9 379.6 1208.4 379.6 1213.9 417.8 1219.4 417.8 1223.2 417.8 1226.9 376.7 1230.7 376.7 1235.2 376.7 1239.8 415.2 1244.3 415.2 1249.2 415.2 1254 378.2 1258.9 378.2 1262.8 378.2 1266.6 415.7 1270.5 415.7 1275.3 415.7 1280.2 377.1 1285 377.1 1288.9 377.1 1292.9 417.4 1296.8 417.4 1302.5 417.4 1308.3 382 1314 382 1318.7 382 1323.3 416.6 1328 416.6 1333.1 416.6 1338.3 383.9 1343.4 383.9 1347.9 383.9 1352.5 417.8 1357 417.8 1361.8 417.8 1366.6 384.9 1371.4 384.9 1375.9 384.9 1380.5 419 1385 419 1389.4 419 1393.8 385.9 1398.2 385.9 1402.8 385.9 1407.4 420.3 1412 420.3 1416.3 420.3 1420.7 384.6 1425 384.6 1429.3 384.6 1433.7 419.3 1438 419.3 1442.3 419.3 1446.7 388.2 1451 388.2 1451.3 388.2 1451.7 388.8 1452 389.3"/><path d="M211 236.8C211.9 243.3 212.8 249.6 213.7 249.6 215.7 249.6 217.6 231 219.6 231 220.6 231 221.5 237.2 222.5 242.6 223.1 245.7 223.6 250.9 224.2 256.6 224.8 262.6 225.4 273.1 226 280 226.8 288.8 227.5 294.2 228.3 303.2 228.9 309.8 229.4 319.5 230 326.5 230.9 337.1 231.7 344.9 232.6 355 233.3 363.5 234.1 373.2 234.8 382 235.5 390.2 236.2 395 236.9 406.1 237.2 411.2 237.5 423.3 237.8 427.7 238.4 436.3 239 441.1 239.6 445.2 241 454.9 242.4 466.1 243.8 466.1 246.9 466.1 249.9 464.8 253 464.8 255.6 464.8 258.3 474.1 260.9 478.5 263.6 483 266.2 491.7 268.9 491.7 272 491.7 275.2 486 278.4 486 282.6 486 286.7 502.6 290.9 502.6 294.6 502.6 298.2 484.7 301.8 484.7 309.6 484.7 317.4 512.7 325.2 512.7 329.7 512.7 334.3 479.2 338.8 479.2 343.5 479.2 348.2 502.4 352.9 502.4 357.5 502.4 362.2 475 366.9 475 372.1 475 377.2 507.9 382.4 507.9 387.6 507.9 392.8 467.4 397.9 467.4 403.3 467.4 408.6 502.8 414 502.8 419.8 502.8 425.6 457.2 431.4 457.2 436.6 457.2 441.8 486.4 447 486.4 451.3 486.4 455.6 455.9 460 455.9 464.7 455.9 469.3 476.9 474 476.9 478.7 476.9 483.3 451.2 488 451.2 492.7 451.2 497.3 471.6 502 471.6 506.7 471.6 511.3 441.4 516 441.4 520.7 441.4 525.3 450.2 530 450.2 534.7 450.2 539.3 418.2 544 418.2 548.7 418.2 553.3 445 558 445 562 445 566 412.2 570 412.2 574.7 412.2 579.3 431.9 584 431.9 588.3 431.9 592.7 406.1 597 406.1 601.3 406.1 605.7 424.6 610 424.6 615.3 424.6 620.7 401.2 626 401.2 631 401.2 636 427.6 641 427.6 645.7 427.6 650.3 398.9 655 398.9 659.6 398.9 664.2 421.6 668.8 421.6 673.2 421.6 677.6 396.7 682 396.7 686.3 396.7 690.7 425.7 695 425.7 699.7 425.7 704.3 394.5 709 394.5 713.3 394.5 717.7 423.5 722 423.5 726.3 423.5 730.7 393.5 735 393.5 739.7 393.5 744.3 423.6 749 423.6 753.3 423.6 757.7 392.5 762 392.5 766.7 392.5 771.3 421.4 776 421.4 780.6 421.4 785.3 391.3 789.9 391.3 794.3 391.3 798.6 419 803 419 807.9 419 812.9 396.7 817.8 396.7 822.2 396.7 826.6 420.3 831 420.3 835.7 420.3 840.3 394.1 845 394.1 849.9 394.1 854.9 425.9 859.8 425.9 864.1 425.9 868.3 399.9 872.6 399.9 876.7 399.9 880.9 423.6 885 423.6 889.9 423.6 894.8 395.7 899.7 395.7 903.6 395.7 907.5 425.8 911.4 425.8 916.6 425.8 921.8 400.1 927 400.1 930.9 400.1 934.7 423.6 938.6 423.6 944.1 423.6 949.5 394.2 955 394.2 959.3 394.2 963.7 419.1 968 419.1 972.7 419.1 977.3 392.9 982 392.9 986.3 392.9 990.7 417.1 995 417.1 999.7 417.1 1004.3 390.9 1009 390.9 1013.6 390.9 1018.2 417 1022.8 417 1027.2 417 1031.6 388.6 1036 388.6 1040.2 388.6 1044.5 416.1 1048.7 416.1 1053.5 416.1 1058.2 387.9 1063 387.9 1067.6 387.9 1072.2 413 1076.8 413 1081.2 413 1085.6 387.8 1090 387.8 1094.7 387.8 1099.3 416 1104 416 1108.7 416 1113.3 388.9 1118 388.9 1122.7 388.9 1127.3 414.1 1132 414.1 1136.3 414.1 1140.7 389.9 1145 389.9 1149.7 389.9 1154.3 415.9 1159 415.9 1163.2 415.9 1167.5 391.5 1171.7 391.5 1177.2 391.5 1182.7 415.9 1188.2 415.9 1191.8 415.9 1195.3 389.2 1198.9 389.2 1204.4 389.2 1209.9 416.1 1215.4 416.1 1219.2 416.1 1222.9 387 1226.7 387 1231.2 387 1235.8 413.9 1240.3 413.9 1245.2 413.9 1250 387.8 1254.9 387.8 1258.8 387.8 1262.6 414.1 1266.5 414.1 1271.3 414.1 1276.2 387.1 1281 387.1 1284.9 387.1 1288.9 416 1292.8 416 1298.5 416 1304.3 390.6 1310 390.6 1314.7 390.6 1319.3 415.9 1324 415.9 1329.1 415.9 1334.3 392.5 1339.4 392.5 1343.9 392.5 1348.5 416.9 1353 416.9 1357.8 416.9 1362.6 393.7 1367.4 393.7 1371.9 393.7 1376.5 418 1381 418 1385.4 418 1389.8 394.8 1394.2 394.8 1398.8 394.8 1403.4 419.1 1408 419.1 1412.3 419.1 1416.7 393.9 1421 393.9 1425.3 393.9 1429.7 418.1 1434 418.1 1438.3 418.1 1442.7 394.9 1447 394.9 1447.3 394.9 1447.7 395.3 1448 395.6"/><path d="M211 236.8C211.9 243.3 212.8 249.6 213.7 249.6 215.7 249.6 217.6 231 219.6 231 220.6 231 221.5 237.2 222.5 242.6 223.1 245.7 223.6 250.9 224.2 256.6 224.8 262.6 225.4 273.1 226 280 226.8 288.8 227.5 294.2 228.3 303.2 228.9 309.8 229.4 319.5 230 326.5 230.9 337.1 231.7 344.9 232.6 355 233.3 363.5 234.1 375.6 234.8 382 235.9 391.9 237.1 395.8 238.2 404.3 239 410.2 239.8 420.6 240.6 424.4 242.2 431.7 243.7 435.8 245.2 438.7 248.6 445 251.9 451.3 255.3 451.3 258.5 451.3 261.8 446 265 446 267.5 446 269.9 456.8 272.4 461.9 274.9 467.2 277.3 477.3 279.8 477.3 282.8 477.3 285.8 470.7 288.8 470.7 292.8 470.7 296.8 490.9 300.8 490.9 304.3 490.9 307.8 470.8 311.4 470.8 318.9 470.8 326.5 503.6 334.1 503.6 338.6 503.6 343.1 466.2 347.6 466.2 352.2 466.2 356.8 494.2 361.4 494.2 366 494.2 370.7 462.8 375.3 462.8 380.5 462.8 385.6 500.9 390.7 500.9 395.9 500.9 401 455.2 406.2 455.2 411.5 455.2 416.8 496.2 422.1 496.2 427.9 496.2 433.7 445.4 439.5 445.4 444.7 445.4 449.9 479.6 455.1 479.6 459.4 479.6 463.7 444.5 468 444.5 472.7 444.5 477.4 469.7 482 469.7 486.7 469.7 491.4 440.2 496 440.2 500.7 440.2 505.4 464.6 510 464.6 514.7 464.6 519.4 430.8 524 430.8 528.7 430.8 533.3 442.7 538 442.7 542.7 442.7 547.3 406.8 552 406.8 556.7 406.8 561.3 438.6 566 438.6 570 438.6 574 400.9 578 400.9 582.7 400.9 587.3 424.7 592 424.7 596.3 424.7 600.7 395.1 605 395.1 609.3 395.1 613.7 417.2 618 417.2 623.3 417.2 628.7 390.4 634 390.4 639 390.4 644 420.7 649 420.7 653.7 420.7 658.3 387.8 663 387.8 667.6 387.8 672.2 414.5 676.8 414.5 681.2 414.5 685.6 385.4 690 385.4 694.3 385.4 698.7 419.2 703 419.2 707.7 419.2 712.3 383 717 383 721.3 383 725.7 417.1 730 417.1 734.3 417.1 738.7 382 743 382 747.7 382 752.3 417.1 757 417.1 761.3 417.1 765.7 381 770 381 774.7 381 779.3 414.8 784 414.8 788.6 414.8 793.3 379.8 797.9 379.8 802.3 379.8 806.6 412.1 811 412.1 815.9 412.1 820.9 385.8 825.8 385.8 830.2 385.8 834.6 413.3 839 413.3 843.7 413.3 848.3 382.9 853 382.9 857.9 382.9 862.9 419.2 867.8 419.2 872.1 419.2 876.3 388.7 880.6 388.7 884.7 388.7 888.9 416.7 893 416.7 897.9 416.7 902.8 384.2 907.7 384.2 911.6 384.2 915.5 419.2 919.4 419.2 924.6 419.2 929.8 389.1 935 389.1 938.9 389.1 942.7 416.7 946.6 416.7 952.1 416.7 957.5 383.1 963 383.1 967.3 383.1 971.7 412.3 976 412.3 980.7 412.3 985.3 381.8 990 381.8 994.3 381.8 998.7 410.2 1003 410.2 1007.7 410.2 1012.3 379.8 1017 379.8 1021.6 379.8 1026.2 410.2 1030.8 410.2 1035.2 410.2 1039.6 377.2 1044 377.2 1048.2 377.2 1052.5 409.5 1056.7 409.5 1061.5 409.5 1066.2 376.7 1071 376.7 1075.6 376.7 1080.2 406.1 1084.8 406.1 1089.2 406.1 1093.6 376.6 1098 376.6 1102.7 376.6 1107.3 409.3 1112 409.3 1116.7 409.3 1121.3 377.8 1126 377.8 1130.7 377.8 1135.3 407.1 1140 407.1 1144.3 407.1 1148.7 378.8 1153 378.8 1157.7 378.8 1162.3 409.1 1167 409.1 1171.2 409.1 1175.5 380.6 1179.7 380.6 1185.2 380.6 1190.7 409.1 1196.2 409.1 1199.8 409.1 1203.3 377.9 1206.9 377.9 1212.4 377.9 1217.9 409.4 1223.4 409.4 1227.2 409.4 1230.9 375.5 1234.7 375.5 1239.2 375.5 1243.8 407 1248.3 407 1253.2 407 1258 376.5 1262.9 376.5 1266.8 376.5 1270.6 407.3 1274.5 407.3 1279.3 407.3 1284.2 375.7 1289 375.7 1292.9 375.7 1296.9 409.1 1300.8 409.1 1306.5 409.1 1312.3 379.7 1318 379.7 1322.7 379.7 1327.3 408.8 1332 408.8 1337.1 408.8 1342.3 381.7 1347.4 381.7 1351.9 381.7 1356.5 409.9 1361 409.9 1365.8 409.9 1370.6 382.8 1375.4 382.8 1379.9 382.8 1384.5 411 1389 411 1393.4 411 1397.8 383.9 1402.2 383.9 1406.8 383.9 1411.4 412.1 1416 412.1 1420.3 412.1 1424.7 382.7 1429 382.7 1433.3 382.7 1437.7 411.1 1442 411.1 1446.3 411.1 1450.7 384.8 1455 384.8 1455.3 384.8 1455.7 385.3 1456 385.7"/><path d="M211 236.8C211.9 243.3 212.8 249.6 213.7 249.6 215.7 249.6 217.6 231 219.6 231 220.6 231 221.5 237.2 222.5 242.6 223.1 245.7 223.6 250.9 224.2 256.6 224.8 262.6 225.4 273.1 226 280 226.8 288.8 227.5 294.2 228.3 303.2 228.9 309.8 229.4 319.5 230 326.5 230.9 337.1 231.7 344.9 232.6 355 233.3 363.5 234.1 373.7 234.8 382 235.6 391.1 236.4 396.3 237.2 407.2 237.6 413.1 238.1 425.5 238.5 430.6 239.3 440.2 240.2 445.8 241 450.6 242.9 461.5 244.8 474.4 246.7 474.4 249.8 474.4 252.9 467.7 256 467.7 258.6 467.7 261.2 477.6 263.8 482.5 266.4 487.4 269 497 271.6 497 274.7 497 277.9 487.9 281 487.9 285.1 487.9 289.3 508 293.4 508 297 508 300.6 485.3 304.2 485.3 311.9 485.3 319.7 518.2 327.4 518.2 331.9 518.2 336.5 478 341 478 345.7 478 350.3 507.7 355 507.7 359.7 507.7 364.3 473.8 369 473.8 374.2 473.8 379.3 514.1 384.5 514.1 389.7 514.1 394.8 465.4 400 465.4 405.3 465.4 410.7 509 416 509 421.8 509 427.6 455.5 433.4 455.5 438.6 455.5 443.8 492 449 492 453.3 492 457.7 454.6 462 454.6 466.7 454.6 471.3 481.7 476 481.7 480.7 481.7 485.3 450.4 490 450.4 494.7 450.4 499.3 476.7 504 476.7 508.7 476.7 513.3 441.1 518 441.1 522.7 441.1 527.3 454.6 532 454.6 536.7 454.6 541.3 416.6 546 416.6 550.7 416.6 555.3 450.9 560 450.9 564 450.9 568 410.7 572 410.7 576.7 410.7 581.3 436.7 586 436.7 590.3 436.7 594.7 405.2 599 405.2 603.3 405.2 607.7 429 612 429 617.3 429 622.7 400.5 628 400.5 633 400.5 638 432.8 643 432.8 647.7 432.8 652.3 397.8 657 397.8 661.6 397.8 666.2 426.5 670.8 426.5 675.2 426.5 679.6 395.2 684 395.2 688.3 395.2 692.7 431.5 697 431.5 701.7 431.5 706.3 392.7 711 392.7 715.3 392.7 719.7 429.3 724 429.3 728.3 429.3 732.7 391.8 737 391.8 741.7 391.8 746.3 429.4 751 429.4 755.3 429.4 759.7 390.7 764 390.7 768.7 390.7 773.3 427 778 427 782.6 427 787.3 389.6 791.9 389.6 796.3 389.6 800.6 424.1 805 424.1 809.9 424.1 814.9 395.9 819.8 395.9 824.2 395.9 828.6 425.3 833 425.3 837.7 425.3 842.3 392.7 847 392.7 851.9 392.7 856.9 431.4 861.8 431.4 866.1 431.4 870.3 398.7 874.6 398.7 878.7 398.7 882.9 428.8 887 428.8 891.9 428.8 896.8 394 901.7 394 905.6 394 909.5 431.4 913.4 431.4 918.6 431.4 923.8 399.1 929 399.1 932.9 399.1 936.7 428.7 940.6 428.7 946.1 428.7 951.5 393.1 957 393.1 961.3 393.1 965.7 424.3 970 424.3 974.7 424.3 979.3 391.8 984 391.8 988.3 391.8 992.7 422.2 997 422.2 1001.7 422.2 1006.3 389.7 1011 389.7 1015.6 389.7 1020.2 422.4 1024.8 422.4 1029.2 422.4 1033.6 386.9 1038 386.9 1042.2 386.9 1046.5 421.6 1050.7 421.6 1055.5 421.6 1060.2 386.6 1065 386.6 1069.6 386.6 1074.2 418.1 1078.8 418.1 1083.2 418.1 1087.6 386.5 1092 386.5 1096.7 386.5 1101.3 421.4 1106 421.4 1110.7 421.4 1115.3 387.7 1120 387.7 1124.7 387.7 1129.3 419.1 1134 419.1 1138.3 419.1 1142.7 388.8 1147 388.8 1151.7 388.8 1156.3 421.1 1161 421.1 1165.2 421.1 1169.5 390.7 1173.7 390.7 1179.2 390.7 1184.7 421.2 1190.2 421.2 1193.8 421.2 1197.3 387.8 1200.9 387.8 1206.4 387.8 1211.9 421.5 1217.4 421.5 1221.2 421.5 1224.9 385.2 1228.7 385.2 1233.2 385.2 1237.8 419.1 1242.3 419.1 1247.2 419.1 1252 386.4 1256.9 386.4 1260.8 386.4 1264.6 419.5 1268.5 419.5 1273.3 419.5 1278.2 385.5 1283 385.5 1286.9 385.5 1290.9 421.2 1294.8 421.2 1300.5 421.2 1306.3 389.8 1312 389.8 1316.7 389.8 1321.3 420.7 1326 420.7 1331.1 420.7 1336.3 391.7 1341.4 391.7 1345.9 391.7 1350.5 421.8 1355 421.8 1359.8 421.8 1364.6 392.8 1369.4 392.8 1373.9 392.8 1378.5 423 1383 423 1387.4 423 1391.8 393.9 1396.2 393.9 1400.8 393.9 1405.4 424.2 1410 424.2 1414.3 424.2 1418.7 392.7 1423 392.7 1427.3 392.7 1431.7 423.2 1436 423.2 1440.3 423.2 1444.7 395.3 1449 395.3 1449.3 395.3 1449.7 395.8 1450 396.2"/><path d="M211 236.8C211.9 243.3 212.8 249.6 213.7 249.6 215.7 249.6 217.6 231 219.6 231 220.6 231 221.5 237.2 222.5 242.6 223.1 245.7 223.6 250.9 224.2 256.6 224.8 262.6 225.4 273.1 226 280 226.8 288.8 227.5 294.2 228.3 303.2 228.9 309.8 229.4 319.5 230 326.5 230.9 337.1 231.7 344.9 232.6 355 233.3 363.5 234.1 371.5 234.8 382 235.3 388.5 235.7 392.5 236.2 404.9 236.4 410.8 236.6 435.4 236.8 440.2 237.2 449.8 237.7 456.7 238.1 456.8 241.1 457.2 244 456.9 247 457.2 249.7 457.5 252.5 466.5 255.2 471 257.9 475.5 260.7 484.1 263.4 484.1 266.7 484.1 269.9 480 273.2 480 277.4 480 281.7 495.8 286 495.8 289.7 495.8 293.4 479.9 297 479.9 304.9 479.9 312.8 506.8 320.7 506.8 325.3 506.8 329.9 475.6 334.4 475.6 339.2 475.6 343.9 496.9 348.6 496.9 353.3 496.9 358 471.7 362.7 471.7 367.9 471.7 373.1 502.3 378.3 502.3 383.5 502.3 388.6 464.6 393.8 464.6 399.2 464.6 404.5 497.3 409.9 497.3 415.7 497.3 421.5 454.4 427.3 454.4 432.5 454.4 437.7 481.2 442.9 481.2 447.3 481.2 451.6 452.9 456 452.9 460.6 452.9 465.3 471.9 470 471.9 474.6 471.9 479.3 448.1 484 448.1 488.6 448.1 493.3 466.5 498 466.5 502.6 466.5 507.3 438.2 512 438.2 516.7 438.2 521.3 445.4 526 445.4 530.7 445.4 535.3 415.4 540 415.4 544.7 415.4 549.3 439.7 554 439.7 558 439.7 562 409.3 566 409.3 570.7 409.3 575.3 426.9 580 426.9 584.3 426.9 588.7 403 593 403 597.3 403 601.7 419.8 606 419.8 611.3 419.8 616.7 398.1 622 398.1 627 398.1 632 422.5 637 422.5 641.7 422.5 646.3 396 651 396 655.6 396 660.2 416.6 664.8 416.6 669.2 416.6 673.6 393.8 678 393.8 682.3 393.8 686.7 420.5 691 420.5 695.7 420.5 700.3 391.7 705 391.7 709.3 391.7 713.7 418.3 718 418.3 722.3 418.3 726.7 390.7 731 390.7 735.7 390.7 740.3 418.3 745 418.3 749.3 418.3 753.7 389.7 758 389.7 762.7 389.7 767.3 416.2 772 416.2 776.6 416.2 781.3 388.5 785.9 388.5 790.3 388.5 794.6 414 799 414 803.9 414 808.9 393.6 813.8 393.6 818.2 393.6 822.6 415.2 827 415.2 831.7 415.2 836.3 391.3 841 391.3 845.9 391.3 850.9 420.7 855.8 420.7 860.1 420.7 864.3 397 868.6 397 872.7 397 876.9 418.6 881 418.6 885.9 418.6 890.8 393 895.7 393 899.6 393 903.5 420.7 907.4 420.7 912.6 420.7 917.8 397.1 923 397.1 926.9 397.1 930.7 418.5 934.6 418.5 940.1 418.5 945.5 391.3 951 391.3 955.3 391.3 959.7 414.1 964 414.1 968.7 414.1 973.3 389.9 978 389.9 982.3 389.9 986.7 412 991 412 995.7 412 1000.3 387.9 1005 387.9 1009.6 387.9 1014.2 411.8 1018.8 411.8 1023.2 411.8 1027.6 385.8 1032 385.8 1036.2 385.8 1040.5 411 1044.7 411 1049.5 411 1054.2 384.9 1059 384.9 1063.6 384.9 1068.2 407.9 1072.8 407.9 1077.2 407.9 1081.6 384.9 1086 384.9 1090.7 384.9 1095.3 410.9 1100 410.9 1104.7 410.9 1109.3 385.9 1114 385.9 1118.7 385.9 1123.3 409 1128 409 1132.3 409 1136.7 387 1141 387 1145.7 387 1150.3 410.9 1155 410.9 1159.2 410.9 1163.5 388.5 1167.7 388.5 1173.2 388.5 1178.7 410.9 1184.2 410.9 1187.8 410.9 1191.3 386.3 1194.9 386.3 1200.4 386.3 1205.9 410.9 1211.4 410.9 1215.2 410.9 1218.9 384.2 1222.7 384.2 1227.2 384.2 1231.8 408.9 1236.3 408.9 1241.2 408.9 1246 384.9 1250.9 384.9 1254.8 384.9 1258.6 408.9 1262.5 408.9 1267.3 408.9 1272.2 384.3 1277 384.3 1280.9 384.3 1284.9 410.9 1288.8 410.9 1294.5 410.9 1300.3 387.5 1306 387.5 1310.7 387.5 1315.3 410.9 1320 410.9 1325.1 410.9 1330.3 389.5 1335.4 389.5 1339.9 389.5 1344.5 412 1349 412 1353.8 412 1358.6 390.6 1363.4 390.6 1367.9 390.6 1372.5 413 1377 413 1381.4 413 1385.8 391.8 1390.2 391.8 1394.8 391.8 1399.4 414 1404 414 1408.3 414 1412.7 390.9 1417 390.9 1421.3 390.9 1425.7 413 1430 413 1434.3 413 1438.7 391.5 1443 391.5 1443.3 391.5 1443.7 391.8 1444 392"/><path d="M211 236.8C211.9 243.3 212.8 249.6 213.7 249.6 215.7 249.6 217.6 231 219.6 231 220.6 231 221.5 237.2 222.5 242.6 223.1 245.7 223.6 250.9 224.2 256.6 224.8 262.6 225.4 273.1 226 280 226.8 288.8 227.5 294.2 228.3 303.2 228.9 309.8 229.4 319.5 230 326.5 230.9 337.1 231.7 344.9 232.6 355 233.3 363.5 234.1 374.6 234.8 382 235.8 391.8 236.7 397 237.7 406.7 238.3 412.9 239 423.9 239.6 428.5 240.7 437.4 241.9 442.2 243.1 446.9 245.7 457.4 248.4 469.8 251 471.1 254.2 472.7 257.3 472.1 260.5 473.6 263 474.8 265.6 481.9 268.1 485.8 270.6 489.8 273.2 497.4 275.7 497.4 278.8 497.4 281.8 493.4 284.9 493.4 289 493.4 293 506.8 297.1 506.8 300.7 506.8 304.2 491.7 307.8 491.7 315.4 491.7 323.1 515.7 330.8 515.7 335.3 515.7 339.8 486.3 344.3 486.3 348.9 486.3 353.6 505 358.2 505 362.9 505 367.5 481.7 372.2 481.7 377.3 481.7 382.5 509.5 387.6 509.5 392.8 509.5 397.9 474.4 403.1 474.4 408.4 474.4 413.7 504.3 419.1 504.3 424.9 504.3 430.6 463.9 436.4 463.9 441.6 463.9 446.8 488.1 452 488.1 456.4 488.1 460.7 462.1 465 462.1 469.7 462.1 474.4 479.1 479 479.1 483.7 479.1 488.3 457.1 493 457.1 497.7 457.1 502.3 473.5 507 473.5 511.7 473.5 516.3 447 521 447 525.7 447 530.3 452.6 535 452.6 539.7 452.6 544.3 424.6 549 424.6 553.7 424.6 558.3 446.4 563 446.4 567 446.4 571 418.5 575 418.5 579.7 418.5 584.3 434 589 434 593.3 434 597.7 412 602 412 606.3 412 610.7 427 615 427 620.3 427 625.7 407 631 407 636 407 641 429.4 646 429.4 650.7 429.4 655.3 405 660 405 664.6 405 669.2 423.6 673.8 423.6 678.2 423.6 682.6 403 687 403 691.3 403 695.7 427.2 700 427.2 704.7 427.2 709.3 401 714 401 718.3 401 722.7 425 727 425 731.3 425 735.7 400 740 400 744.7 400 749.3 425 754 425 758.3 425 762.7 399 767 399 771.7 399 776.3 423 781 423 785.6 423 790.3 397.7 794.9 397.7 799.3 397.7 803.6 421 808 421 812.9 421 817.9 402.5 822.8 402.5 827.2 402.5 831.6 422.2 836 422.2 840.7 422.2 845.3 400.4 850 400.4 854.9 400.4 859.9 427.5 864.8 427.5 869.1 427.5 873.3 406.1 877.6 406.1 881.7 406.1 885.9 425.5 890 425.5 894.9 425.5 899.8 402.2 904.7 402.2 908.6 402.2 912.5 427.5 916.4 427.5 921.6 427.5 926.8 406.1 932 406.1 935.9 406.1 939.7 425.5 943.6 425.5 949.1 425.5 954.5 400.3 960 400.3 964.3 400.3 968.7 421 973 421 977.7 421 982.3 399 987 399 991.3 399 995.7 419 1000 419 1004.7 419 1009.3 397 1014 397 1018.6 397 1023.2 418.7 1027.8 418.7 1032.2 418.7 1036.6 395 1041 395 1045.2 395 1049.5 417.8 1053.7 417.8 1058.5 417.8 1063.2 394 1068 394 1072.6 394 1077.2 414.9 1081.8 414.9 1086.2 414.9 1090.6 394 1095 394 1099.7 394 1104.3 417.8 1109 417.8 1113.7 417.8 1118.3 395 1123 395 1127.7 395 1132.3 416 1137 416 1141.3 416 1145.7 396 1150 396 1154.7 396 1159.3 417.8 1164 417.8 1168.2 417.8 1172.5 397.4 1176.7 397.4 1182.2 397.4 1187.7 417.8 1193.2 417.8 1196.8 417.8 1200.3 395.4 1203.9 395.4 1209.4 395.4 1214.9 417.8 1220.4 417.8 1224.2 417.8 1227.9 393.5 1231.7 393.5 1236.2 393.5 1240.8 415.8 1245.3 415.8 1250.2 415.8 1255 394 1259.9 394 1263.8 394 1267.6 415.8 1271.5 415.8 1276.3 415.8 1281.2 393.5 1286 393.5 1289.9 393.5 1293.9 417.8 1297.8 417.8 1303.5 417.8 1309.3 396.4 1315 396.4 1319.7 396.4 1324.3 418 1329 418 1334.1 418 1339.3 398.4 1344.4 398.4 1348.9 398.4 1353.5 419 1358 419 1362.8 419 1367.6 399.6 1372.4 399.6 1376.9 399.6 1381.5 420 1386 420 1390.4 420 1394.8 400.8 1399.2 400.8 1403.8 400.8 1408.4 421 1413 421 1417.3 421 1421.7 400 1426 400 1430.3 400 1434.7 420 1439 420 1443.3 420 1447.7 400 1452 400 1452.3 400 1452.7 400.3 1453 400.5"/><path d="M211 236.8C211.9 243.3 212.8 249.6 213.7 249.6 215.7 249.6 217.6 231 219.6 231 220.6 231 221.5 237.2 222.5 242.6 223.1 245.7 223.6 250.9 224.2 256.6 224.8 262.6 225.4 273.1 226 280 226.8 288.8 227.5 294.2 228.3 303.2 228.9 309.8 229.4 319.5 230 326.5 230.9 337.1 231.7 344.9 232.6 355 233.3 363.5 234.1 373.5 234.8 382 235.5 390.6 236.3 395.4 237 406.4 237.4 411.9 237.8 424.4 238.1 429.1 238.9 438.3 239.6 443.7 240.3 447.8 242 457.4 243.6 468 245.3 468 248.3 468 251.4 459.3 254.5 459.3 257.1 459.3 259.7 469.9 262.4 475.1 265 480.4 267.6 490.7 270.2 490.7 273.4 490.7 276.5 481 279.7 481 283.9 481 288 502.9 292.2 502.9 295.8 502.9 299.4 479 303 479 310.8 479 318.5 514.3 326.3 514.3 330.8 514.3 335.4 472.1 339.9 472.1 344.6 472.1 349.3 504.2 353.9 504.2 358.6 504.2 363.3 468.2 367.9 468.2 373.1 468.2 378.3 511.1 383.5 511.1 388.6 511.1 393.8 459.8 399 459.8 404.3 459.8 409.6 506.2 415 506.2 420.8 506.2 426.6 450.1 432.4 450.1 437.6 450.1 442.8 489.1 448 489.1 452.3 489.1 456.7 449.5 461 449.5 465.7 449.5 470.3 478.6 475 478.6 479.7 478.6 484.3 445.4 489 445.4 493.7 445.4 498.3 473.7 503 473.7 507.7 473.7 512.3 436.3 517 436.3 521.7 436.3 526.3 451.3 531 451.3 535.7 451.3 540.3 411.4 545 411.4 549.7 411.4 554.3 448.2 559 448.2 563 448.2 567 405.6 571 405.6 575.7 405.6 580.3 433.6 585 433.6 589.3 433.6 593.7 400.2 598 400.2 602.3 400.2 606.7 425.8 611 425.8 616.3 425.8 621.7 395.6 627 395.6 632 395.6 637 429.9 642 429.9 646.7 429.9 651.3 392.7 656 392.7 660.6 392.7 665.2 423.5 669.8 423.5 674.2 423.5 678.6 390.1 683 390.1 687.3 390.1 691.7 428.7 696 428.7 700.7 428.7 705.3 387.5 710 387.5 714.3 387.5 718.7 426.6 723 426.6 727.3 426.6 731.7 386.5 736 386.5 740.7 386.5 745.3 426.7 750 426.7 754.3 426.7 758.7 385.5 763 385.5 767.7 385.5 772.3 424.1 777 424.1 781.6 424.1 786.3 384.4 790.9 384.4 795.3 384.4 799.6 421.1 804 421.1 808.9 421.1 813.9 391 818.8 391 823.2 391 827.6 422.4 832 422.4 836.7 422.4 841.3 387.6 846 387.6 850.9 387.6 855.9 428.6 860.8 428.6 865.1 428.6 869.3 393.6 873.6 393.6 877.7 393.6 881.9 425.8 886 425.8 890.9 425.8 895.8 388.7 900.7 388.7 904.6 388.7 908.5 428.5 912.4 428.5 917.6 428.5 922.8 394.1 928 394.1 931.9 394.1 935.7 425.8 939.6 425.8 945.1 425.8 950.5 388.1 956 388.1 960.3 388.1 964.7 421.4 969 421.4 973.7 421.4 978.3 386.7 983 386.7 987.3 386.7 991.7 419.3 996 419.3 1000.7 419.3 1005.3 384.6 1010 384.6 1014.6 384.6 1019.2 419.5 1023.8 419.5 1028.2 419.5 1032.6 381.7 1037 381.7 1041.2 381.7 1045.5 418.8 1049.7 418.8 1054.5 418.8 1059.2 381.6 1064 381.6 1068.6 381.6 1073.2 415.2 1077.8 415.2 1082.2 415.2 1086.6 381.4 1091 381.4 1095.7 381.4 1100.3 418.5 1105 418.5 1109.7 418.5 1114.3 382.7 1119 382.7 1123.7 382.7 1128.3 416.2 1133 416.2 1137.3 416.2 1141.7 383.7 1146 383.7 1150.7 383.7 1155.3 418.2 1160 418.2 1164.2 418.2 1168.5 385.7 1172.7 385.7 1178.2 385.7 1183.7 418.2 1189.2 418.2 1192.8 418.2 1196.3 382.7 1199.9 382.7 1205.4 382.7 1210.9 418.7 1216.4 418.7 1220.2 418.7 1223.9 380 1227.7 380 1232.2 380 1236.8 416.1 1241.3 416.1 1246.2 416.1 1251 381.3 1255.9 381.3 1259.8 381.3 1263.6 416.6 1267.5 416.6 1272.3 416.6 1277.2 380.3 1282 380.3 1285.9 380.3 1289.9 418.3 1293.8 418.3 1299.5 418.3 1305.3 384.9 1311 384.9 1315.7 384.9 1320.3 417.7 1325 417.7 1330.1 417.7 1335.3 386.8 1340.4 386.8 1344.9 386.8 1349.5 418.8 1354 418.8 1358.8 418.8 1363.6 387.9 1368.4 387.9 1372.9 387.9 1377.5 420 1382 420 1386.4 420 1390.8 388.9 1395.2 388.9 1399.8 388.9 1404.4 421.2 1409 421.2 1413.3 421.2 1417.7 387.6 1422 387.6 1426.3 387.6 1430.7 420.2 1435 420.2 1439.3 420.2 1443.7 390.7 1448 390.7 1448.3 390.7 1448.7 391.3 1449 391.7"/><path d="M211 236.8C211.9 243.3 212.8 249.6 213.7 249.6 215.7 249.6 217.6 231 219.6 231 220.6 231 221.5 237.2 222.5 242.6 223.1 245.7 223.6 250.9 224.2 256.6 224.8 262.6 225.4 273.1 226 280 226.8 288.8 227.5 294.2 228.3 303.2 228.9 309.8 229.4 319.5 230 326.5 230.9 337.1 231.7 344.9 232.6 355 233.3 363.5 234.1 375.2 234.8 382 235.9 392.1 237 396.7 238.1 405.9 238.8 412.1 239.5 422.8 240.3 427.2 241.7 435.6 243.1 440.2 244.5 444.2 247.6 453.3 250.7 464.1 253.9 464.1 257.1 464.1 260.3 462.8 263.5 462.8 266 462.8 268.5 472.2 271 476.7 273.4 481.2 275.9 489.9 278.4 489.9 281.5 489.9 284.5 484.4 287.5 484.4 291.5 484.4 295.6 501.1 299.6 501.1 303.1 501.1 306.6 483.3 310.2 483.3 317.8 483.3 325.4 511.5 333 511.5 337.5 511.5 342 478 346.5 478 351.1 478 355.7 501.3 360.3 501.3 365 501.3 369.6 473.9 374.3 473.9 379.4 473.9 384.5 506.8 389.7 506.8 394.8 506.8 400 466.4 405.1 466.4 410.5 466.4 415.8 501.8 421.1 501.8 426.9 501.8 432.7 456.2 438.5 456.2 443.7 456.2 448.9 485.4 454.1 485.4 458.4 485.4 462.7 454.8 467 454.8 471.7 454.8 476.4 475.9 481 475.9 485.7 475.9 490.4 450.2 495 450.2 499.7 450.2 504.4 470.6 509 470.6 513.7 470.6 518.3 440.4 523 440.4 527.7 440.4 532.3 449.2 537 449.2 541.7 449.2 546.3 417.2 551 417.2 555.7 417.2 560.3 444 565 444 569 444 573 411.2 577 411.2 581.7 411.2 586.3 430.9 591 430.9 595.3 430.9 599.7 405.1 604 405.1 608.3 405.1 612.7 423.6 617 423.6 622.3 423.6 627.7 400.2 633 400.2 638 400.2 643 426.6 648 426.6 652.7 426.6 657.3 397.9 662 397.9 666.6 397.9 671.2 420.6 675.8 420.6 680.2 420.6 684.6 395.7 689 395.7 693.3 395.7 697.7 424.7 702 424.7 706.7 424.7 711.3 393.5 716 393.5 720.3 393.5 724.7 422.5 729 422.5 733.3 422.5 737.7 392.5 742 392.5 746.7 392.5 751.3 422.6 756 422.6 760.3 422.6 764.7 391.5 769 391.5 773.7 391.5 778.3 420.4 783 420.4 787.6 420.4 792.3 390.3 796.9 390.3 801.3 390.3 805.6 418 810 418 814.9 418 819.9 395.7 824.8 395.7 829.2 395.7 833.6 419.3 838 419.3 842.7 419.3 847.3 393.1 852 393.1 856.9 393.1 861.9 424.9 866.8 424.9 871.1 424.9 875.3 398.9 879.6 398.9 883.7 398.9 887.9 422.6 892 422.6 896.9 422.6 901.8 394.7 906.7 394.7 910.6 394.7 914.5 424.8 918.4 424.8 923.6 424.8 928.8 399.1 934 399.1 937.9 399.1 941.7 422.6 945.6 422.6 951.1 422.6 956.5 393.2 962 393.2 966.3 393.2 970.7 418.1 975 418.1 979.7 418.1 984.3 391.9 989 391.9 993.3 391.9 997.7 416.1 1002 416.1 1006.7 416.1 1011.3 389.9 1016 389.9 1020.6 389.9 1025.2 416 1029.8 416 1034.2 416 1038.6 387.6 1043 387.6 1047.2 387.6 1051.5 415.1 1055.7 415.1 1060.5 415.1 1065.2 386.9 1070 386.9 1074.6 386.9 1079.2 412 1083.8 412 1088.2 412 1092.6 386.8 1097 386.8 1101.7 386.8 1106.3 415 1111 415 1115.7 415 1120.3 387.9 1125 387.9 1129.7 387.9 1134.3 413.1 1139 413.1 1143.3 413.1 1147.7 388.9 1152 388.9 1156.7 388.9 1161.3 414.9 1166 414.9 1170.2 414.9 1174.5 390.5 1178.7 390.5 1184.2 390.5 1189.7 414.9 1195.2 414.9 1198.8 414.9 1202.3 388.2 1205.9 388.2 1211.4 388.2 1216.9 415.1 1222.4 415.1 1226.2 415.1 1229.9 386 1233.7 386 1238.2 386 1242.8 412.9 1247.3 412.9 1252.2 412.9 1257 386.8 1261.9 386.8 1265.8 386.8 1269.6 413.1 1273.5 413.1 1278.3 413.1 1283.2 386.1 1288 386.1 1291.9 386.1 1295.9 415 1299.8 415 1305.5 415 1311.3 389.6 1317 389.6 1321.7 389.6 1326.3 414.9 1331 414.9 1336.1 414.9 1341.3 391.5 1346.4 391.5 1350.9 391.5 1355.5 415.9 1360 415.9 1364.8 415.9 1369.6 392.7 1374.4 392.7 1378.9 392.7 1383.5 417 1388 417 1392.4 417 1396.8 393.8 1401.2 393.8 1405.8 393.8 1410.4 418.1 1415 418.1 1419.3 418.1 1423.7 392.9 1428 392.9 1432.3 392.9 1436.7 417.1 1441 417.1 1445.3 417.1 1449.7 393.9 1454 393.9 1454.3 393.9 1454.7 394.3 1455 394.6"/></g>
<path stroke="#00ff00" d="M211 236.8C211.9 243.3 212.8 249.6 213.7 249.6 215.7 249.6 217.6 231 219.6 231 220.6 231 221.5 237.2 222.5 242.6 223.1 245.7 223.6 250.9 224.2 256.6 224.8 262.6 225.4 273.1 226 280 226.8 288.8 227.5 294.2 228.3 303.2 228.9 309.8 229.4 319.5 230 326.5 230.9 337.1 231.7 344.9 232.6 355 233.3 363.5 234.1 374.1 234.8 382 235.6 390.6 236.4 395.3 237.2 405 237.6 410.2 238.1 421.1 238.5 425 239.3 432.5 240.2 436.5 241 440 242.9 448 244.8 456.4 246.7 457.3 249.8 458.8 252.9 458.2 256 459.6 258.6 460.7 261.2 468.5 263.8 472.8 266.4 477.1 269 485.2 271.6 485.2 274.7 485.2 277.9 482.1 281 482.1 285.1 482.1 289.3 496.5 293.4 496.5 297 496.5 300.6 482 304.2 482 311.9 482 319.7 507 327.4 507 331.9 507 336.5 478 341 478 345.7 478 350.3 497 355 497 359.7 497 364.3 474 369 474 374.2 474 379.3 502 384.5 502 389.7 502 394.8 467 400 467 405.3 467 410.7 497 416 497 421.8 497 427.6 456.7 433.4 456.7 438.6 456.7 443.8 481 449 481 453.3 481 457.7 455 462 455 466.7 455 471.3 472 476 472 480.7 472 485.3 450 490 450 494.7 450 499.3 466.5 504 466.5 508.7 466.5 513.3 440 518 440 522.7 440 527.3 445.6 532 445.6 536.7 445.6 541.3 417.6 546 417.6 550.7 417.6 555.3 439.4 560 439.4 564 439.4 568 411.5 572 411.5 576.7 411.5 581.3 427 586 427 590.3 427 594.7 405 599 405 603.3 405 607.7 420 612 420 617.3 420 622.7 400 628 400 633 400 638 422.4 643 422.4 647.7 422.4 652.3 398 657 398 661.6 398 666.2 416.6 670.8 416.6 675.2 416.6 679.6 396 684 396 688.3 396 692.7 420.2 697 420.2 701.7 420.2 706.3 394 711 394 715.3 394 719.7 418 724 418 728.3 418 732.7 393 737 393 741.7 393 746.3 418 751 418 755.3 418 759.7 392 764 392 768.7 392 773.3 416 778 416 782.6 416 787.3 390.7 791.9 390.7 796.3 390.7 800.6 414 805 414 809.9 414 814.9 395.5 819.8 395.5 824.2 395.5 828.6 415.2 833 415.2 837.7 415.2 842.3 393.4 847 393.4 851.9 393.4 856.9 420.5 861.8 420.5 866.1 420.5 870.3 399.1 874.6 399.1 878.7 399.1 882.9 418.5 887 418.5 891.9 418.5 896.8 395.2 901.7 395.2 905.6 395.2 909.5 420.5 913.4 420.5 918.6 420.5 923.8 399.1 929 399.1 932.9 399.1 936.7 418.5 940.6 418.5 946.1 418.5 951.5 393.3 957 393.3 961.3 393.3 965.7 414 970 414 974.7 414 979.3 392 984 392 988.3 392 992.7 412 997 412 1001.7 412 1006.3 390 1011 390 1015.6 390 1020.2 411.7 1024.8 411.7 1029.2 411.7 1033.6 388 1038 388 1042.2 388 1046.5 410.8 1050.7 410.8 1055.5 410.8 1060.2 387 1065 387 1069.6 387 1074.2 407.9 1078.8 407.9 1083.2 407.9 1087.6 387 1092 387 1096.7 387 1101.3 410.8 1106 410.8 1110.7 410.8 1115.3 388 1120 388 1124.7 388 1129.3 409 1134 409 1138.3 409 1142.7 389 1147 389 1151.7 389 1156.3 410.8 1161 410.8 1165.2 410.8 1169.5 390.4 1173.7 390.4 1179.2 390.4 1184.7 410.8 1190.2 410.8 1193.8 410.8 1197.3 388.4 1200.9 388.4 1206.4 388.4 1211.9 410.8 1217.4 410.8 1221.2 410.8 1224.9 386.5 1228.7 386.5 1233.2 386.5 1237.8 408.8 1242.3 408.8 1247.2 408.8 1252 387 1256.9 387 1260.8 387 1264.6 408.8 1268.5 408.8 1273.3 408.8 1278.2 386.5 1283 386.5 1286.9 386.5 1290.9 410.8 1294.8 410.8 1300.5 410.8 1306.3 389.4 1312 389.4 1316.7 389.4 1321.3 411 1326 411 1331.1 411 1336.3 391.4 1341.4 391.4 1345.9 391.4 1350.5 412 1355 412 1359.8 412 1364.6 392.6 1369.4 392.6 1373.9 392.6 1378.5 413 1383 413 1387.4 413 1391.8 393.8 1396.2 393.8 1400.8 393.8 1405.4 414 1410 414 1414.3 414 1418.7 393 1423 393 1427.3 393 1431.7 413 1436 413 1440.3 413 1444.7 393 1449 393 1449.3 393 1449.7 393.3 1450 393.5"/>
<path d="M211 236L213 228L216 222L219.6 219L222 222L224.5 240L226 260L227.5 280L229 300L230.5 320L231.5 336L218 336L216.5 360L214.5 420L214 448L211 448Z" fill="#800080" stroke="none"/>
<path d="M218.5 300L221.2 268L224 300" stroke="#ff8000" stroke-width="2.5"/>
<path d="M215.5 262L215.5 270M215.5 305L215.2 330" stroke="#fff" stroke-width="1.5"/>
<g stroke="#800080"><path d="M211 236.8C211.9 243.3 212.8 249.6 213.7 249.6 215.7 249.6 217.6 231 219.6 231 220.6 231 221.5 237.2 222.5 242.6 223.1 245.7 223.6 250.9 224.2 256.6 224.8 262.6 225.4 273.1 226 280 226.8 288.8 227.5 294.2 228.3 303.2 228.9 309.8 229.4 319.5 230 326.5 230.9 337.1 231.7 344.9 232.6 355 233.3 363.5 234.1 373.2 234.8 382 235.4 389.6 236.1 397.9 236.7 404.3 237.2 409.4 237.7 415 238.2 417.8 239.3 423.7 240.4 429 241.5 429.7 243.8 431 246.1 430.4 248.4 431.6 250 432.4 251.6 436.4 253.1 439.8 254.7 443.2 256.4 449 258 453.2 259.6 457.5 261.2 465.3 262.8 465.3 267.2 465.3 271.6 454.9 276.1 454.9 280.2 454.9 284.3 469.3 288.5 469.3 293.5 469.3 298.5 450 303.5 450 309.3 450 315.2 488.1 321.1 488.1 325.8 488.1 330.5 466.4 335.2 466.4 338.4 466.4 341.6 480.1 344.8 480.1 349.4 480.1 354.1 463.6 358.8 463.6 364.3 463.6 369.9 493.9 375.4 493.9 379.7 493.9 384.1 465.2 388.4 465.2 393.6 465.2 398.9 493.5 404.1 493.5 409.4 493.5 414.7 460.3 419.9 460.3 423.4 460.3 426.9 474.4 430.4 474.4 435 474.4 439.7 453.6 444.4 453.6 449 453.6 453.7 469.3 458.4 469.3 464.2 469.3 470 431.5 475.9 431.5 479.9 431.5 484 447.8 488 447.8 492.9 447.8 497.8 427.8 502.7 427.8 505.6 427.8 508.6 434.5 511.5 434.5 517 434.5 522.5 396.9 528 396.9 531.8 396.9 535.6 409 539.4 409 544.1 409 548.7 390.1 553.4 390.1 557.5 390.1 561.6 404.9 565.7 404.9 569.8 404.9 573.8 383.7 577.9 383.7 582.6 383.7 587.2 403 591.9 403 596.6 403 601.2 387.4 605.9 387.4 610 387.4 614 407.6 618.1 407.6 622.1 407.6 626 387.1 630 387.1 634.8 387.1 639.7 403.9 644.5 403.9 649.1 403.9 653.7 385.5 658.3 385.5 662.4 385.5 666.6 404.7 670.7 404.7 675.6 404.7 680.4 387 685.3 387 689.2 387 693 405.5 696.9 405.5 701.8 405.5 706.6 386.2 711.5 386.2 715.9 386.2 720.2 406.9 724.6 406.9 729 406.9 733.3 389.9 737.7 389.9 742.1 389.9 746.4 409.9 750.8 409.9 755.2 409.9 759.5 390.6 763.9 390.6 768.1 390.6 772.4 410.4 776.6 410.4 780.4 410.4 784.2 394.9 788 394.9 792.7 394.9 797.3 422.7 802 422.7 806.7 422.7 811.3 405.9 816 405.9 820.1 405.9 824.1 426.5 828.2 426.5 832.6 426.5 836.9 408.5 841.3 408.5 845.7 408.5 850 432.3 854.4 432.3 859.2 432.3 863.9 412.8 868.7 412.8 872.6 412.8 876.4 428.1 880.3 428.1 884.8 428.1 889.4 406.7 893.9 406.7 898.1 406.7 902.3 426.1 906.5 426.1 911.3 426.1 916.2 406.9 921 406.9 925.2 406.9 929.5 424.2 933.7 424.2 938.6 424.2 943.4 402 948.3 402 951.8 402 955.2 417.3 958.7 417.3 963.9 417.3 969 396.2 974.2 396.2 977.8 396.2 981.3 409.6 984.9 409.6 989.7 409.6 994.6 383.1 999.4 383.1 1003.3 383.1 1007.1 395 1011 395 1015.6 395 1020.1 373.7 1024.7 373.7 1028.9 373.7 1033.1 394.1 1037.3 394.1 1041.7 394.1 1046.2 374.8 1050.6 374.8 1054.8 374.8 1059 395.2 1063.2 395.2 1067.7 395.2 1072.3 374.2 1076.8 374.2 1081.2 374.2 1085.5 397 1089.9 397 1094.3 397 1098.6 379.7 1103 379.7 1107.2 379.7 1111.4 399 1115.6 399 1120.2 399 1124.9 376 1129.5 376 1133.8 376 1138.2 397 1142.5 397 1146.7 397 1151 380.6 1155.2 380.6 1158.7 380.6 1162.3 401 1165.8 401 1171 401 1176.2 377.6 1181.4 377.6 1185.9 377.6 1190.5 400.9 1195 400.9 1199.2 400.9 1203.4 384.5 1207.6 384.5 1211.8 384.5 1216 405.9 1220.2 405.9 1224.6 405.9 1229.1 382.5 1233.5 382.5 1238.3 382.5 1243.2 404.3 1248 404.3 1252.2 404.3 1256.5 386.9 1260.7 386.9 1264.9 386.9 1269.1 405.2 1273.3 405.2 1277.8 405.2 1282.4 386.5 1286.9 386.5 1291.4 386.5 1296 409.6 1300.5 409.6 1305 409.6 1309.5 392.3 1314 392.3 1318.3 392.3 1322.5 415.2 1326.8 415.2 1331.1 415.2 1335.3 398.3 1339.6 398.3 1344.3 398.3 1348.9 418.6 1353.6 418.6 1357.9 418.6 1362.1 399.5 1366.4 399.5 1370.7 399.5 1374.9 414.9 1379.2 414.9 1384.3 414.9 1389.3 396 1394.4 396 1398.3 396 1402.1 413.9 1406 413.9 1410.7 413.9 1415.3 393.5 1420 393.5 1423.9 393.5 1427.7 410.4 1431.6 410.4 1436.3 410.4 1440.9 391.7 1445.6 391.7 1446.1 391.7 1446.5 391.9 1447 392.2"/><path d="M211 236.8C211.9 243.3 212.8 249.6 213.7 249.6 215.7 249.6 217.6 231 219.6 231 220.6 231 221.5 237.2 222.5 242.6 223.1 245.7 223.6 250.9 224.2 256.6 224.8 262.6 225.4 273.1 226 280 226.8 288.8 227.5 294.2 228.3 303.2 228.9 309.8 229.4 319.5 230 326.5 230.9 337.1 231.7 344.9 232.6 355 233.3 363.5 234.1 374.9 234.8 382 235.8 391.4 236.7 399.8 237.7 405 238.9 411.7 240.2 416.8 241.4 420.1 243.9 426.8 246.4 433.5 248.9 434.2 251.8 434.9 254.7 434.5 257.6 435.4 259.1 435.8 260.6 440 262.1 443.4 263.6 446.8 265.1 453 266.6 457.4 268.2 461.8 269.7 470 271.2 470 275.5 470 279.7 457.6 283.9 457.6 287.9 457.6 291.9 473 295.9 473 300.8 473 305.7 451.7 310.5 451.7 316.3 451.7 322.1 491.8 327.9 491.8 332.5 491.8 337.2 467.9 341.8 467.9 344.9 467.9 348.1 483.1 351.2 483.1 355.9 483.1 360.5 464.9 365.2 464.9 370.7 464.9 376.1 497.3 381.6 497.3 386 497.3 390.3 466.1 394.6 466.1 399.8 466.1 405 496.8 410.3 496.8 415.5 496.8 420.8 461.4 426.1 461.4 429.5 461.4 433 477.3 436.4 477.3 441.1 477.3 445.8 454.9 450.4 454.9 455.1 454.9 459.8 472.3 464.4 472.3 470.3 472.3 476.1 432.4 481.9 432.4 485.9 432.4 490 450.6 494 450.6 498.9 450.6 503.8 429.2 508.7 429.2 511.6 429.2 514.6 437.3 517.5 437.3 523 437.3 528.5 397.8 534 397.8 537.8 397.8 541.6 411.7 545.4 411.7 550.1 411.7 554.7 391.3 559.4 391.3 563.5 391.3 567.6 407.8 571.7 407.8 575.8 407.8 579.8 384.8 583.9 384.8 588.6 384.8 593.2 405.7 597.9 405.7 602.6 405.7 607.2 388.5 611.9 388.5 616 388.5 620 410.6 624.1 410.6 628.1 410.6 632 388.3 636 388.3 640.8 388.3 645.7 406.6 650.5 406.6 655.1 406.6 659.7 386.6 664.3 386.6 668.4 386.6 672.6 407.6 676.7 407.6 681.6 407.6 686.4 388.1 691.3 388.1 695.2 388.1 699 408.4 702.9 408.4 707.8 408.4 712.6 387.3 717.5 387.3 721.9 387.3 726.2 409.8 730.6 409.8 735 409.8 739.3 391.1 743.7 391.1 748.1 391.1 752.4 412.8 756.8 412.8 761.2 412.8 765.5 391.6 769.9 391.6 774.1 391.6 778.4 413.2 782.6 413.2 786.4 413.2 790.2 395.9 794 395.9 798.7 395.9 803.3 425.7 808 425.7 812.7 425.7 817.3 407.1 822 407.1 826.1 407.1 830.1 429.5 834.2 429.5 838.6 429.5 842.9 409.6 847.3 409.6 851.7 409.6 856 435.3 860.4 435.3 865.2 435.3 869.9 414 874.7 414 878.6 414 882.4 430.9 886.3 430.9 890.8 430.9 895.4 407.8 899.9 407.8 904.1 407.8 908.3 428.9 912.5 428.9 917.3 428.9 922.2 408.1 927 408.1 931.2 408.1 935.5 427.1 939.7 427.1 944.6 427.1 949.4 403.1 954.3 403.1 957.8 403.1 961.2 420.1 964.7 420.1 969.9 420.1 975 397.5 980.2 397.5 983.8 397.5 987.3 412.5 990.9 412.5 995.7 412.5 1000.6 384.3 1005.4 384.3 1009.3 384.3 1013.1 397.7 1017 397.7 1021.6 397.7 1026.1 374.8 1030.7 374.8 1034.9 374.8 1039.1 397.1 1043.3 397.1 1047.7 397.1 1052.2 375.8 1056.6 375.8 1060.8 375.8 1065 398.1 1069.2 398.1 1073.7 398.1 1078.3 375.2 1082.8 375.2 1087.2 375.2 1091.5 400 1095.9 400 1100.3 400 1104.6 380.9 1109 380.9 1113.2 380.9 1117.4 401.9 1121.6 401.9 1126.2 401.9 1130.9 377 1135.5 377 1139.8 377 1144.2 399.9 1148.5 399.9 1152.7 399.9 1157 381.6 1161.2 381.6 1164.7 381.6 1168.3 404 1171.8 404 1177 404 1182.2 378.6 1187.4 378.6 1191.9 378.6 1196.5 403.9 1201 403.9 1205.2 403.9 1209.4 385.6 1213.6 385.6 1217.8 385.6 1222 408.9 1226.2 408.9 1230.6 408.9 1235.1 383.5 1239.5 383.5 1244.3 383.5 1249.2 407.2 1254 407.2 1258.2 407.2 1262.5 388.1 1266.7 388.1 1270.9 388.1 1275.1 408 1279.3 408 1283.8 408 1288.4 387.5 1292.9 387.5 1297.4 387.5 1302 412.5 1306.5 412.5 1311 412.5 1315.5 393.3 1320 393.3 1324.3 393.3 1328.5 418.1 1332.8 418.1 1337.1 418.1 1341.3 399.4 1345.6 399.4 1350.3 399.4 1354.9 421.5 1359.6 421.5 1363.9 421.5 1368.1 400.6 1372.4 400.6 1376.7 400.6 1380.9 417.7 1385.2 417.7 1390.3 417.7 1395.3 397.1 1400.4 397.1 1404.3 397.1 1408.1 416.8 1412 416.8 1416.7 416.8 1421.3 394.6 1426 394.6 1429.9 394.6 1433.7 413.3 1437.6 413.3 1442.3 413.3 1446.9 393.2 1451.6 393.2 1452.1 393.2 1452.5 393.5 1453 393.8"/><path d="M211 236.8C211.9 243.3 212.8 249.6 213.7 249.6 215.7 249.6 217.6 231 219.6 231 220.6 231 221.5 237.2 222.5 242.6 223.1 245.7 223.6 250.9 224.2 256.6 224.8 262.6 225.4 273.1 226 280 226.8 288.8 227.5 294.2 228.3 303.2 228.9 309.8 229.4 319.5 230 326.5 230.9 337.1 231.7 344.9 232.6 355 233.3 363.5 234.1 373.9 234.8 382 235.6 390.9 236.4 399.7 237.2 406.2 238.1 413.2 238.9 419.5 239.8 423.5 241.6 431.8 243.4 440.8 245.2 441.2 247.8 441.9 250.4 441.6 253 442.3 254.5 442.7 256.1 446.7 257.6 450 259.2 453.4 260.7 459.8 262.3 464.4 263.9 468.9 265.4 477.4 267 477.4 271.3 477.4 275.7 462.7 280 462.7 284.1 462.7 288.1 479 292.2 479 297.1 479 302.1 455.4 307 455.4 312.8 455.4 318.7 497.3 324.5 497.3 329.2 497.3 333.8 471.2 338.5 471.2 341.7 471.2 344.8 487.9 348 487.9 352.7 487.9 357.3 468 362 468 367.5 468 373 502.3 378.5 502.3 382.8 502.3 387.2 468.6 391.5 468.6 396.7 468.6 402 501.6 407.2 501.6 412.5 501.6 417.7 464 423 464 426.5 464 429.9 481.7 433.4 481.7 438.1 481.7 442.7 457.6 447.4 457.6 452.1 457.6 456.7 476.8 461.4 476.8 467.2 476.8 473.1 434.9 478.9 434.9 482.9 434.9 487 455 491 455 495.9 455 500.8 432.2 505.7 432.2 508.6 432.2 511.6 441.7 514.5 441.7 520 441.7 525.5 400.3 531 400.3 534.8 400.3 538.6 415.9 542.4 415.9 547.1 415.9 551.7 394.1 556.4 394.1 560.5 394.1 564.6 412.1 568.7 412.1 572.8 412.1 576.8 387.3 580.9 387.3 585.6 387.3 590.2 410 594.9 410 599.6 410 604.2 391.2 608.9 391.2 613 391.2 617 415.2 621.1 415.2 625.1 415.2 629 390.9 633 390.9 637.8 390.9 642.7 410.9 647.5 410.9 652.1 410.9 656.7 389.3 661.3 389.3 665.4 389.3 669.6 411.9 673.7 411.9 678.6 411.9 683.4 390.8 688.3 390.8 692.2 390.8 696 412.7 699.9 412.7 704.8 412.7 709.6 389.9 714.5 389.9 718.9 389.9 723.2 414.1 727.6 414.1 732 414.1 736.3 393.7 740.7 393.7 745.1 393.7 749.4 417.3 753.8 417.3 758.2 417.3 762.5 394.2 766.9 394.2 771.1 394.2 775.4 417.6 779.6 417.6 783.4 417.6 787.2 398.4 791 398.4 795.7 398.4 800.3 430.2 805 430.2 809.7 430.2 814.3 409.7 819 409.7 823.1 409.7 827.1 433.9 831.2 433.9 835.6 433.9 839.9 412.1 844.3 412.1 848.7 412.1 853 439.7 857.4 439.7 862.2 439.7 866.9 416.7 871.7 416.7 875.6 416.7 879.4 435.3 883.3 435.3 887.8 435.3 892.4 410.3 896.9 410.3 901.1 410.3 905.3 433.3 909.5 433.3 914.3 433.3 919.2 410.7 924 410.7 928.2 410.7 932.5 431.4 936.7 431.4 941.6 431.4 946.4 405.7 951.3 405.7 954.8 405.7 958.2 424.5 961.7 424.5 966.9 424.5 972 400.2 977.2 400.2 980.8 400.2 984.3 416.9 987.9 416.9 992.7 416.9 997.6 386.9 1002.4 386.9 1006.3 386.9 1010.1 402 1014 402 1018.6 402 1023.1 377.3 1027.7 377.3 1031.9 377.3 1036.1 401.5 1040.3 401.5 1044.7 401.5 1049.2 378.4 1053.6 378.4 1057.8 378.4 1062 402.6 1066.2 402.6 1070.7 402.6 1075.3 377.7 1079.8 377.7 1084.2 377.7 1088.5 404.4 1092.9 404.4 1097.3 404.4 1101.6 383.5 1106 383.5 1110.2 383.5 1114.4 406.4 1118.6 406.4 1123.2 406.4 1127.9 379.5 1132.5 379.5 1136.8 379.5 1141.2 404.3 1145.5 404.3 1149.7 404.3 1154 384.2 1158.2 384.2 1161.7 384.2 1165.3 408.5 1168.8 408.5 1174 408.5 1179.2 381.1 1184.4 381.1 1188.9 381.1 1193.5 408.3 1198 408.3 1202.2 408.3 1206.4 388.2 1210.6 388.2 1214.8 388.2 1219 413.5 1223.2 413.5 1227.6 413.5 1232.1 386 1236.5 386 1241.3 386 1246.2 411.5 1251 411.5 1255.2 411.5 1259.5 390.7 1263.7 390.7 1267.9 390.7 1272.1 412.4 1276.3 412.4 1280.8 412.4 1285.4 390.1 1289.9 390.1 1294.4 390.1 1299 417 1303.5 417 1308 417 1312.5 395.9 1317 395.9 1321.3 395.9 1325.5 422.6 1329.8 422.6 1334.1 422.6 1338.3 402.1 1342.6 402.1 1347.3 402.1 1351.9 425.9 1356.6 425.9 1360.9 425.9 1365.1 403.3 1369.4 403.3 1373.7 403.3 1377.9 421.9 1382.2 421.9 1387.3 421.9 1392.3 399.8 1397.4 399.8 1401.3 399.8 1405.1 421.2 1409 421.2 1413.7 421.2 1418.3 397.3 1423 397.3 1426.9 397.3 1430.7 417.6 1434.6 417.6 1439.3 417.6 1443.9 396.3 1448.6 396.3 1449.1 396.3 1449.5 396.6 1450 397"/><path d="M211 236.8C211.9 243.3 212.8 249.6 213.7 249.6 215.7 249.6 217.6 231 219.6 231 220.6 231 221.5 237.2 222.5 242.6 223.1 245.7 223.6 250.9 224.2 256.6 224.8 262.6 225.4 273.1 226 280 226.8 288.8 227.5 294.2 228.3 303.2 228.9 309.8 229.4 319.5 230 326.5 230.9 337.1 231.7 344.9 232.6 355 233.3 363.5 234.1 373.2 234.8 382 235.5 390.2 236.2 398.9 236.9 405.9 237.5 412.2 238.1 418.6 238.7 422.6 240.1 431.2 241.4 439.5 242.7 441.5 245.1 445.1 247.5 444.8 249.9 447.4 251.5 449.2 253.1 451.9 254.6 454.9 256.2 458 257.8 463.2 259.4 467 261 470.8 262.6 477.8 264.2 477.8 268.6 477.8 273 467.7 277.4 467.7 281.5 467.7 285.6 479.7 289.7 479.7 294.7 479.7 299.7 461.3 304.6 461.3 310.5 461.3 316.4 496.4 322.2 496.4 326.9 496.4 331.6 476.2 336.3 476.2 339.5 476.2 342.7 488.1 345.8 488.1 350.5 488.1 355.2 472.9 359.9 472.9 365.4 472.9 370.9 500.8 376.4 500.8 380.8 500.8 385.1 474.4 389.4 474.4 394.7 474.4 399.9 500.2 405.2 500.2 410.4 500.2 415.7 469.1 421 469.1 424.4 469.1 427.9 481.3 431.4 481.3 436 481.3 440.7 462.1 445.4 462.1 450 462.1 454.7 476 459.4 476 465.2 476 471.1 440.1 476.9 440.1 480.9 440.1 485 454.5 489 454.5 493.9 454.5 498.8 435.9 503.7 435.9 506.6 435.9 509.6 441.2 512.5 441.2 518 441.2 523.5 405.4 529 405.4 532.8 405.4 536.6 415.8 540.4 415.8 545.1 415.8 549.7 398.4 554.4 398.4 558.5 398.4 562.6 411.5 566.7 411.5 570.8 411.5 574.8 392.2 578.9 392.2 583.6 392.2 588.2 409.7 592.9 409.7 597.6 409.7 602.2 395.7 606.9 395.7 611 395.7 615 414.1 619.1 414.1 623.1 414.1 627 395.5 631 395.5 635.8 395.5 640.7 410.6 645.5 410.6 650.1 410.6 654.7 393.9 659.3 393.9 663.4 393.9 667.6 411.4 671.7 411.4 676.6 411.4 681.4 395.3 686.3 395.3 690.2 395.3 694 412.1 697.9 412.1 702.8 412.1 707.6 394.6 712.5 394.6 716.9 394.6 721.2 413.5 725.6 413.5 730 413.5 734.3 398.3 738.7 398.3 743.1 398.3 747.4 416.5 751.8 416.5 756.2 416.5 760.5 399 764.9 399 769.1 399 773.4 417 777.6 417 781.4 417 785.2 403.4 789 403.4 793.7 403.4 798.3 429.2 803 429.2 807.7 429.2 812.3 414.3 817 414.3 821.1 414.3 825.1 433.1 829.2 433.1 833.6 433.1 837.9 417 842.3 417 846.7 417 851 438.8 855.4 438.8 860.2 438.8 864.9 421.1 869.7 421.1 873.6 421.1 877.4 434.7 881.3 434.7 885.8 434.7 890.4 415.2 894.9 415.2 899.1 415.2 903.3 432.7 907.5 432.7 912.3 432.7 917.2 415.2 922 415.2 926.2 415.2 930.5 430.8 934.7 430.8 939.6 430.8 944.4 410.4 949.3 410.4 952.8 410.4 956.2 424 959.7 424 964.9 424 970 404.5 975.2 404.5 978.8 404.5 982.3 416.2 985.9 416.2 990.7 416.2 995.6 391.5 1000.4 391.5 1004.3 391.5 1008.1 401.7 1012 401.7 1016.6 401.7 1021.1 382.2 1025.7 382.2 1029.9 382.2 1034.1 400.7 1038.3 400.7 1042.7 400.7 1047.2 383.2 1051.6 383.2 1055.8 383.2 1060 401.7 1064.2 401.7 1068.7 401.7 1073.3 382.7 1077.8 382.7 1082.2 382.7 1086.5 403.6 1090.9 403.6 1095.3 403.6 1099.6 388.1 1104 388.1 1108.2 388.1 1112.4 405.5 1116.6 405.5 1121.2 405.5 1125.9 384.5 1130.5 384.5 1134.8 384.5 1139.2 403.6 1143.5 403.6 1147.7 403.6 1152 389 1156.2 389 1159.7 389 1163.3 407.5 1166.8 407.5 1172 407.5 1177.2 386.1 1182.4 386.1 1186.9 386.1 1191.5 407.5 1196 407.5 1200.2 407.5 1204.4 392.9 1208.6 392.9 1212.8 392.9 1217 412.3 1221.2 412.3 1225.6 412.3 1230.1 391 1234.5 391 1239.3 391 1244.2 410.9 1249 410.9 1253.2 410.9 1257.5 395.3 1261.7 395.3 1265.9 395.3 1270.1 411.8 1274.3 411.8 1278.8 411.8 1283.4 394.9 1287.9 394.9 1292.4 394.9 1297 416.2 1301.5 416.2 1306 416.2 1310.5 400.7 1315 400.7 1319.3 400.7 1323.5 421.7 1327.8 421.7 1332.1 421.7 1336.3 406.6 1340.6 406.6 1345.3 406.6 1349.9 425.2 1354.6 425.2 1358.9 425.2 1363.1 407.8 1367.4 407.8 1371.7 407.8 1375.9 421.7 1380.2 421.7 1385.3 421.7 1390.3 404.3 1395.4 404.3 1399.3 404.3 1403.1 420.5 1407 420.5 1411.7 420.5 1416.3 401.9 1421 401.9 1424.9 401.9 1428.7 417.1 1432.6 417.1 1437.3 417.1 1441.9 399.6 1446.6 399.6 1447.1 399.6 1447.5 399.8 1448 400"/><path d="M211 236.8C211.9 243.3 212.8 249.6 213.7 249.6 215.7 249.6 217.6 231 219.6 231 220.6 231 221.5 237.2 222.5 242.6 223.1 245.7 223.6 250.9 224.2 256.6 224.8 262.6 225.4 273.1 226 280 226.8 288.8 227.5 294.2 228.3 303.2 228.9 309.8 229.4 319.5 230 326.5 230.9 337.1 231.7 344.9 232.6 355 233.3 363.5 234.1 374.4 234.8 382 235.7 391.5 236.6 400.3 237.5 406.5 238.7 414 239.8 420.1 240.9 424.6 243.1 433.7 245.4 442.8 247.7 445.2 250.5 448 253.3 447.6 256.1 450.2 257.6 451.6 259.1 454.5 260.6 457.5 262.1 460.7 263.6 466.2 265.2 470.2 266.7 474.2 268.3 481.6 269.8 481.6 274.1 481.6 278.4 469.5 282.6 469.5 286.6 469.5 290.7 482.7 294.7 482.7 299.6 482.7 304.5 462.3 309.4 462.3 315.2 462.3 321 499.4 326.8 499.4 331.4 499.4 336 477.1 340.7 477.1 343.8 477.1 347 490.5 350.2 490.5 354.8 490.5 359.5 473.7 364.1 473.7 369.6 473.7 375.1 503.7 380.6 503.7 384.9 503.7 389.2 474.8 393.6 474.8 398.8 474.8 404 502.9 409.2 502.9 414.5 502.9 419.8 469.6 425 469.6 428.5 469.6 432 483.7 435.4 483.7 440.1 483.7 444.8 462.8 449.4 462.8 454.1 462.8 458.8 478.5 463.4 478.5 469.2 478.5 475.1 440.6 480.9 440.6 484.9 440.6 489 456.9 493 456.9 497.9 456.9 502.8 436.9 507.7 436.9 510.6 436.9 513.6 443.6 516.5 443.6 522 443.6 527.5 405.9 533 405.9 536.8 405.9 540.6 418 544.4 418 549.1 418 553.7 399.1 558.4 399.1 562.5 399.1 566.6 413.9 570.7 413.9 574.8 413.9 578.8 392.8 582.9 392.8 587.6 392.8 592.2 412 596.9 412 601.6 412 606.2 396.4 610.9 396.4 615 396.4 619 416.6 623.1 416.6 627.1 416.6 631 396.1 635 396.1 639.8 396.1 644.7 412.9 649.5 412.9 654.1 412.9 658.7 394.5 663.3 394.5 667.4 394.5 671.6 413.7 675.7 413.7 680.6 413.7 685.4 396 690.3 396 694.2 396 698 414.5 701.9 414.5 706.8 414.5 711.6 395.2 716.5 395.2 720.9 395.2 725.2 415.9 729.6 415.9 734 415.9 738.3 398.9 742.7 398.9 747.1 398.9 751.4 418.9 755.8 418.9 760.2 418.9 764.5 399.6 768.9 399.6 773.1 399.6 777.4 419.4 781.6 419.4 785.4 419.4 789.2 403.9 793 403.9 797.7 403.9 802.3 431.7 807 431.7 811.7 431.7 816.3 414.9 821 414.9 825.1 414.9 829.1 435.5 833.2 435.5 837.6 435.5 841.9 417.5 846.3 417.5 850.7 417.5 855 441.3 859.4 441.3 864.2 441.3 868.9 421.8 873.7 421.8 877.6 421.8 881.4 437.1 885.3 437.1 889.8 437.1 894.4 415.7 898.9 415.7 903.1 415.7 907.3 435.1 911.5 435.1 916.3 435.1 921.2 415.9 926 415.9 930.2 415.9 934.5 433.2 938.7 433.2 943.6 433.2 948.4 411 953.3 411 956.8 411 960.2 426.3 963.7 426.3 968.9 426.3 974 405.2 979.2 405.2 982.8 405.2 986.3 418.6 989.9 418.6 994.7 418.6 999.6 392.1 1004.4 392.1 1008.3 392.1 1012.1 404 1016 404 1020.6 404 1025.1 382.7 1029.7 382.7 1033.9 382.7 1038.1 403.1 1042.3 403.1 1046.7 403.1 1051.2 383.8 1055.6 383.8 1059.8 383.8 1064 404.2 1068.2 404.2 1072.7 404.2 1077.3 383.2 1081.8 383.2 1086.2 383.2 1090.5 406 1094.9 406 1099.3 406 1103.6 388.7 1108 388.7 1112.2 388.7 1116.4 408 1120.6 408 1125.2 408 1129.9 385 1134.5 385 1138.8 385 1143.2 406 1147.5 406 1151.7 406 1156 389.6 1160.2 389.6 1163.7 389.6 1167.3 410 1170.8 410 1176 410 1181.2 386.6 1186.4 386.6 1190.9 386.6 1195.5 409.9 1200 409.9 1204.2 409.9 1208.4 393.5 1212.6 393.5 1216.8 393.5 1221 414.9 1225.2 414.9 1229.6 414.9 1234.1 391.5 1238.5 391.5 1243.3 391.5 1248.2 413.3 1253 413.3 1257.2 413.3 1261.5 395.9 1265.7 395.9 1269.9 395.9 1274.1 414.2 1278.3 414.2 1282.8 414.2 1287.4 395.5 1291.9 395.5 1296.4 395.5 1301 418.6 1305.5 418.6 1310 418.6 1314.5 401.3 1319 401.3 1323.3 401.3 1327.5 424.2 1331.8 424.2 1336.1 424.2 1340.3 407.3 1344.6 407.3 1349.3 407.3 1353.9 427.6 1358.6 427.6 1362.9 427.6 1367.1 408.5 1371.4 408.5 1375.7 408.5 1379.9 423.9 1384.2 423.9 1389.3 423.9 1394.3 405 1399.4 405 1403.3 405 1407.1 422.9 1411 422.9 1415.7 422.9 1420.3 402.5 1425 402.5 1428.9 402.5 1432.7 419.4 1436.6 419.4 1441.3 419.4 1445.9 400.7 1450.6 400.7 1451.1 400.7 1451.5 400.9 1452 401.2"/><path d="M211 236.8C211.9 243.3 212.8 249.6 213.7 249.6 215.7 249.6 217.6 231 219.6 231 220.6 231 221.5 237.2 222.5 242.6 223.1 245.7 223.6 250.9 224.2 256.6 224.8 262.6 225.4 273.1 226 280 226.8 288.8 227.5 294.2 228.3 303.2 228.9 309.8 229.4 319.5 230 326.5 230.9 337.1 231.7 344.9 232.6 355 233.3 363.5 234.1 375 234.8 382 235.8 391.8 236.9 400.1 237.9 405.5 239.2 412.7 240.6 417.9 241.9 421.6 244.7 429 247.4 436.5 250.2 437.6 253.2 438.8 256.2 438.3 259.1 439.5 260.6 440.1 262.1 444 263.5 447.3 265.1 450.7 266.6 456.8 268.1 461.1 269.6 465.5 271.1 473.6 272.6 473.6 276.8 473.6 281 460.8 285.2 460.8 289.2 460.8 293.2 476 297.2 476 302 476 306.9 454.4 311.7 454.4 317.5 454.4 323.2 494.3 329 494.3 333.6 494.3 338.3 470.3 342.9 470.3 346 470.3 349.2 485.4 352.3 485.4 357 485.4 361.6 467.2 366.2 467.2 371.7 467.2 377.2 499.5 382.7 499.5 387 499.5 391.3 468.2 395.6 468.2 400.9 468.2 406.1 498.9 411.3 498.9 416.6 498.9 421.8 463.4 427.1 463.4 430.5 463.4 434 479.3 437.5 479.3 442.1 479.3 446.8 456.9 451.4 456.9 456.1 456.9 460.8 474.3 465.4 474.3 471.3 474.3 477.1 434.5 482.9 434.5 487 434.5 491 452.6 495 452.6 499.9 452.6 504.8 431.2 509.7 431.2 512.6 431.2 515.6 439.4 518.5 439.4 524 439.4 529.5 399.8 535 399.8 538.8 399.8 542.6 413.7 546.4 413.7 551.1 413.7 555.7 393.3 560.4 393.3 564.5 393.3 568.6 409.8 572.7 409.8 576.8 409.8 580.8 386.8 584.9 386.8 589.6 386.8 594.2 407.7 598.9 407.7 603.6 407.7 608.2 390.5 612.9 390.5 617 390.5 621 412.6 625.1 412.6 629.1 412.6 633 390.3 637 390.3 641.8 390.3 646.7 408.6 651.5 408.6 656.1 408.6 660.7 388.6 665.3 388.6 669.4 388.6 673.6 409.6 677.7 409.6 682.6 409.6 687.4 390.1 692.3 390.1 696.2 390.1 700 410.4 703.9 410.4 708.8 410.4 713.6 389.3 718.5 389.3 722.9 389.3 727.2 411.8 731.6 411.8 736 411.8 740.3 393.1 744.7 393.1 749.1 393.1 753.4 414.8 757.8 414.8 762.2 414.8 766.5 393.6 770.9 393.6 775.1 393.6 779.4 415.2 783.6 415.2 787.4 415.2 791.2 397.9 795 397.9 799.7 397.9 804.3 427.7 809 427.7 813.7 427.7 818.3 409.1 823 409.1 827.1 409.1 831.1 431.5 835.2 431.5 839.6 431.5 843.9 411.6 848.3 411.6 852.7 411.6 857 437.3 861.4 437.3 866.2 437.3 870.9 416 875.7 416 879.6 416 883.4 432.9 887.3 432.9 891.8 432.9 896.4 409.8 900.9 409.8 905.1 409.8 909.3 430.9 913.5 430.9 918.3 430.9 923.2 410.1 928 410.1 932.2 410.1 936.5 429.1 940.7 429.1 945.6 429.1 950.4 405.1 955.3 405.1 958.8 405.1 962.2 422.1 965.7 422.1 970.9 422.1 976 399.5 981.2 399.5 984.8 399.5 988.3 414.5 991.9 414.5 996.7 414.5 1001.6 386.3 1006.4 386.3 1010.3 386.3 1014.1 399.7 1018 399.7 1022.6 399.7 1027.1 376.8 1031.7 376.8 1035.9 376.8 1040.1 399.1 1044.3 399.1 1048.7 399.1 1053.2 377.8 1057.6 377.8 1061.8 377.8 1066 400.1 1070.2 400.1 1074.7 400.1 1079.3 377.2 1083.8 377.2 1088.2 377.2 1092.5 402 1096.9 402 1101.3 402 1105.6 382.9 1110 382.9 1114.2 382.9 1118.4 403.9 1122.6 403.9 1127.2 403.9 1131.9 379 1136.5 379 1140.8 379 1145.2 401.9 1149.5 401.9 1153.7 401.9 1158 383.6 1162.2 383.6 1165.7 383.6 1169.3 406 1172.8 406 1178 406 1183.2 380.6 1188.4 380.6 1192.9 380.6 1197.5 405.9 1202 405.9 1206.2 405.9 1210.4 387.6 1214.6 387.6 1218.8 387.6 1223 410.9 1227.2 410.9 1231.6 410.9 1236.1 385.5 1240.5 385.5 1245.3 385.5 1250.2 409.2 1255 409.2 1259.2 409.2 1263.5 390.1 1267.7 390.1 1271.9 390.1 1276.1 410 1280.3 410 1284.8 410 1289.4 389.5 1293.9 389.5 1298.4 389.5 1303 414.5 1307.5 414.5 1312 414.5 1316.5 395.3 1321 395.3 1325.3 395.3 1329.5 420.1 1333.8 420.1 1338.1 420.1 1342.3 401.4 1346.6 401.4 1351.3 401.4 1355.9 423.5 1360.6 423.5 1364.9 423.5 1369.1 402.6 1373.4 402.6 1377.7 402.6 1381.9 419.7 1386.2 419.7 1391.3 419.7 1396.3 399.1 1401.4 399.1 1405.3 399.1 1409.1 418.8 1413 418.8 1417.7 418.8 1422.3 396.6 1427 396.6 1430.9 396.6 1434.7 415.3 1438.6 415.3 1443.3 415.3 1447.9 395.2 1452.6 395.2 1453.1 395.2 1453.5 395.5 1454 395.8"/><path d="M211 236.8C211.9 243.3 212.8 249.6 213.7 249.6 215.7 249.6 217.6 231 219.6 231 220.6 231 221.5 237.2 222.5 242.6 223.1 245.7 223.6 250.9 224.2 256.6 224.8 262.6 225.4 273.1 226 280 226.8 288.8 227.5 294.2 228.3 303.2 228.9 309.8 229.4 319.5 230 326.5 230.9 337.1 231.7 344.9 232.6 355 233.3 363.5 234.1 372.4 234.8 382 235.4 389.5 235.9 397.8 236.5 406 236.9 411.6 237.3 419.3 237.7 423.1 238.5 431.6 239.4 440.3 240.2 441.1 242.4 442.9 244.6 442.2 246.9 443.6 248.5 444.7 250.1 448.1 251.7 451.3 253.3 454.6 254.9 460.6 256.5 464.9 258.1 469.2 259.8 477.2 261.4 477.2 265.8 477.2 270.3 464.1 274.8 464.1 278.9 464.1 283.1 479 287.2 479 292.2 479 297.3 457.1 302.3 457.1 308.2 457.1 314.1 496.8 320 496.8 324.7 496.8 329.4 472.7 334.1 472.7 337.3 472.7 340.5 487.8 343.7 487.8 348.4 487.8 353.1 469.4 357.8 469.4 363.3 469.4 368.8 501.6 374.3 501.6 378.7 501.6 383 470.4 387.4 470.4 392.6 470.4 397.9 501 403.1 501 408.4 501 413.7 465.5 418.9 465.5 422.4 465.5 425.9 481.4 429.3 481.4 434 481.4 438.7 458.9 443.4 458.9 448 458.9 452.7 476.4 457.4 476.4 463.2 476.4 469 436.5 474.9 436.5 478.9 436.5 482.9 454.7 487 454.7 491.9 454.7 496.8 433.3 501.7 433.3 504.6 433.3 507.6 441.4 510.5 441.4 516 441.4 521.5 401.9 527 401.9 530.8 401.9 534.6 415.7 538.4 415.7 543.1 415.7 547.7 395.3 552.4 395.3 556.5 395.3 560.6 411.8 564.7 411.8 568.8 411.8 572.8 388.8 576.9 388.8 581.6 388.8 586.2 409.7 590.9 409.7 595.6 409.7 600.2 392.5 604.9 392.5 609 392.5 613 414.6 617.1 414.6 621.1 414.6 625 392.3 629 392.3 633.8 392.3 638.7 410.6 643.5 410.6 648.1 410.6 652.7 390.6 657.3 390.6 661.4 390.6 665.6 411.6 669.7 411.6 674.6 411.6 679.4 392.1 684.3 392.1 688.2 392.1 692 412.4 695.9 412.4 700.8 412.4 705.6 391.3 710.5 391.3 714.9 391.3 719.2 413.8 723.6 413.8 728 413.8 732.3 395.1 736.7 395.1 741.1 395.1 745.4 416.8 749.8 416.8 754.2 416.8 758.5 395.6 762.9 395.6 767.1 395.6 771.4 417.2 775.6 417.2 779.4 417.2 783.2 399.9 787 399.9 791.7 399.9 796.3 429.7 801 429.7 805.7 429.7 810.3 411.1 815 411.1 819.1 411.1 823.1 433.5 827.2 433.5 831.6 433.5 835.9 413.6 840.3 413.6 844.7 413.6 849 439.3 853.4 439.3 858.2 439.3 862.9 418 867.7 418 871.6 418 875.4 434.9 879.3 434.9 883.8 434.9 888.4 411.8 892.9 411.8 897.1 411.8 901.3 432.9 905.5 432.9 910.3 432.9 915.2 412.1 920 412.1 924.2 412.1 928.5 431.1 932.7 431.1 937.6 431.1 942.4 407.1 947.3 407.1 950.8 407.1 954.2 424.1 957.7 424.1 962.9 424.1 968 401.5 973.2 401.5 976.8 401.5 980.3 416.5 983.9 416.5 988.7 416.5 993.6 388.3 998.4 388.3 1002.3 388.3 1006.1 401.7 1010 401.7 1014.6 401.7 1019.1 378.8 1023.7 378.8 1027.9 378.8 1032.1 401.1 1036.3 401.1 1040.7 401.1 1045.2 379.8 1049.6 379.8 1053.8 379.8 1058 402.1 1062.2 402.1 1066.7 402.1 1071.3 379.2 1075.8 379.2 1080.2 379.2 1084.5 404 1088.9 404 1093.3 404 1097.6 384.9 1102 384.9 1106.2 384.9 1110.4 405.9 1114.6 405.9 1119.2 405.9 1123.9 381 1128.5 381 1132.8 381 1137.2 403.9 1141.5 403.9 1145.7 403.9 1150 385.6 1154.2 385.6 1157.7 385.6 1161.3 408 1164.8 408 1170 408 1175.2 382.6 1180.4 382.6 1184.9 382.6 1189.5 407.9 1194 407.9 1198.2 407.9 1202.4 389.6 1206.6 389.6 1210.8 389.6 1215 412.9 1219.2 412.9 1223.6 412.9 1228.1 387.5 1232.5 387.5 1237.3 387.5 1242.2 411.2 1247 411.2 1251.2 411.2 1255.5 392.1 1259.7 392.1 1263.9 392.1 1268.1 412 1272.3 412 1276.8 412 1281.4 391.5 1285.9 391.5 1290.4 391.5 1295 416.5 1299.5 416.5 1304 416.5 1308.5 397.3 1313 397.3 1317.3 397.3 1321.5 422.1 1325.8 422.1 1330.1 422.1 1334.3 403.4 1338.6 403.4 1343.3 403.4 1347.9 425.5 1352.6 425.5 1356.9 425.5 1361.1 404.6 1365.4 404.6 1369.7 404.6 1373.9 421.7 1378.2 421.7 1383.3 421.7 1388.3 401.1 1393.4 401.1 1397.3 401.1 1401.1 420.8 1405 420.8 1409.7 420.8 1414.3 398.6 1419 398.6 1422.9 398.6 1426.7 417.3 1430.6 417.3 1435.3 417.3 1439.9 397.2 1444.6 397.2 1445.1 397.2 1445.5 397.5 1446 397.8"/><path d="M211 236.8C211.9 243.3 212.8 249.6 213.7 249.6 215.7 249.6 217.6 231 219.6 231 220.6 231 221.5 237.2 222.5 242.6 223.1 245.7 223.6 250.9 224.2 256.6 224.8 262.6 225.4 273.1 226 280 226.8 288.8 227.5 294.2 228.3 303.2 228.9 309.8 229.4 319.5 230 326.5 230.9 337.1 231.7 344.9 232.6 355 233.3 363.5 234.1 374.2 234.8 382 235.7 391.1 236.5 399.8 237.4 405.8 238.4 412.8 239.3 418.8 240.3 422.4 242.4 429.9 244.4 438 246.4 438 249.1 438 251.8 436.7 254.5 436.7 256.1 436.7 257.6 441.3 259.1 444.7 260.6 448.3 262.2 455.2 263.7 460 265.3 464.9 266.9 474 268.4 474 272.7 474 277 458 281.3 458 285.4 458 289.4 476 293.4 476 298.4 476 303.3 451 308.2 451 314 451 319.8 495.3 325.6 495.3 330.3 495.3 334.9 467.3 339.6 467.3 342.8 467.3 345.9 485.7 349.1 485.7 353.7 485.7 358.4 464.3 363.1 464.3 368.6 464.3 374 500.9 379.5 500.9 383.9 500.9 388.2 464.7 392.5 464.7 397.8 464.7 403 500.2 408.2 500.2 413.5 500.2 418.8 460.3 424 460.3 427.5 460.3 430.9 479.9 434.4 479.9 439.1 479.9 443.7 454.3 448.4 454.3 453.1 454.3 457.7 475.3 462.4 475.3 468.2 475.3 474.1 431.3 479.9 431.3 483.9 431.3 488 453.3 492 453.3 496.9 453.3 501.8 429.1 506.7 429.1 509.6 429.1 512.6 440 515.5 440 521 440 526.5 396.8 532 396.8 535.8 396.8 539.6 414.1 543.4 414.1 548.1 414.1 552.7 390.8 557.4 390.8 561.5 390.8 565.6 410.5 569.7 410.5 573.8 410.5 577.8 383.9 581.9 383.9 586.6 383.9 591.2 408.2 595.9 408.2 600.6 408.2 605.2 387.9 609.9 387.9 614 387.9 618 413.7 622.1 413.7 626.1 413.7 630 387.5 634 387.5 638.8 387.5 643.7 409.1 648.5 409.1 653.1 409.1 657.7 385.9 662.3 385.9 666.4 385.9 670.6 410.3 674.7 410.3 679.6 410.3 684.4 387.4 689.3 387.4 693.2 387.4 697 411.1 700.9 411.1 705.8 411.1 710.6 386.6 715.5 386.6 719.9 386.6 724.2 412.5 728.6 412.5 733 412.5 737.3 390.4 741.7 390.4 746.1 390.4 750.4 415.7 754.8 415.7 759.2 415.7 763.5 390.8 767.9 390.8 772.1 390.8 776.4 416 780.6 416 784.4 416 788.2 394.9 792 394.9 796.7 394.9 801.3 428.7 806 428.7 810.7 428.7 815.3 406.3 820 406.3 824.1 406.3 828.1 432.3 832.2 432.3 836.6 432.3 840.9 408.6 845.3 408.6 849.7 408.6 854 438.2 858.4 438.2 863.2 438.2 867.9 413.4 872.7 413.4 876.6 413.4 880.4 433.7 884.3 433.7 888.8 433.7 893.4 406.9 897.9 406.9 902.1 406.9 906.3 431.7 910.5 431.7 915.3 431.7 920.2 407.4 925 407.4 929.2 407.4 933.5 429.8 937.7 429.8 942.6 429.8 947.4 402.4 952.3 402.4 955.8 402.4 959.2 422.8 962.7 422.8 967.9 422.8 973 396.9 978.2 396.9 981.8 396.9 985.3 415.3 988.9 415.3 993.7 415.3 998.6 383.5 1003.4 383.5 1007.3 383.5 1011.1 400.2 1015 400.2 1019.6 400.2 1024.1 373.8 1028.7 373.8 1032.9 373.8 1037.1 400 1041.3 400 1045.7 400 1050.2 375 1054.6 375 1058.8 375 1063 401.1 1067.2 401.1 1071.7 401.1 1076.3 374.2 1080.8 374.2 1085.2 374.2 1089.5 402.9 1093.9 402.9 1098.3 402.9 1102.6 380.2 1107 380.2 1111.2 380.2 1115.4 404.9 1119.6 404.9 1124.2 404.9 1128.9 376 1133.5 376 1137.8 376 1142.2 402.6 1146.5 402.6 1150.7 402.6 1155 380.7 1159.2 380.7 1162.7 380.7 1166.3 407 1169.8 407 1175 407 1180.2 377.7 1185.4 377.7 1189.9 377.7 1194.5 406.7 1199 406.7 1203.2 406.7 1207.4 384.8 1211.6 384.8 1215.8 384.8 1220 412 1224.2 412 1228.6 412 1233.1 382.5 1237.5 382.5 1242.3 382.5 1247.2 409.9 1252 409.9 1256.2 409.9 1260.5 387.4 1264.7 387.4 1268.9 387.4 1273.1 410.7 1277.3 410.7 1281.8 410.7 1286.4 386.6 1290.9 386.6 1295.4 386.6 1300 415.4 1304.5 415.4 1309 415.4 1313.5 392.5 1318 392.5 1322.3 392.5 1326.5 421 1330.8 421 1335.1 421 1339.3 398.7 1343.6 398.7 1348.3 398.7 1352.9 424.3 1357.6 424.3 1361.9 424.3 1366.1 400 1370.4 400 1374.7 400 1378.9 420.2 1383.2 420.2 1388.3 420.2 1393.3 396.4 1398.4 396.4 1402.3 396.4 1406.1 419.6 1410 419.6 1414.7 419.6 1419.3 393.9 1424 393.9 1427.9 393.9 1431.7 416 1435.6 416 1440.3 416 1444.9 393.3 1449.6 393.3 1450.1 393.3 1450.5 393.7 1451 394.1"/><path d="M211 236.8C211.9 243.3 212.8 249.6 213.7 249.6 215.7 249.6 217.6 231 219.6 231 220.6 231 221.5 237.2 222.5 242.6 223.1 245.7 223.6 250.9 224.2 256.6 224.8 262.6 225.4 273.1 226 280 226.8 288.8 227.5 294.2 228.3 303.2 228.9 309.8 229.4 319.5 230 326.5 230.9 337.1 231.7 344.9 232.6 355 233.3 363.5 234.1 373.7 234.8 382 235.5 390.4 236.3 399.1 237 405.5 237.8 411.8 238.5 417.6 239.3 421.5 240.8 429.6 242.4 437.1 244 439.6 246.5 443.6 249 443.7 251.5 446.7 253 448.6 254.6 451.3 256.1 454.2 257.7 457.3 259.3 462.1 260.9 465.7 262.4 469.3 264 475.9 265.6 475.9 270 475.9 274.3 467.5 278.7 467.5 282.8 467.5 286.9 478.2 291 478.2 295.9 478.2 300.9 461.6 305.8 461.6 311.7 461.6 317.5 494.6 323.4 494.6 328 494.6 332.7 476.4 337.4 476.4 340.6 476.4 343.7 486.8 346.9 486.8 351.6 486.8 356.3 473.3 360.9 473.3 366.4 473.3 372 499 377.5 499 381.8 499 386.1 475.1 390.5 475.1 395.7 475.1 400.9 498.5 406.2 498.5 411.4 498.5 416.7 469.6 422 469.6 425.4 469.6 428.9 480 432.4 480 437.1 480 441.7 462.4 446.4 462.4 451.1 462.4 455.7 474.5 460.4 474.5 466.2 474.5 472.1 440.7 477.9 440.7 481.9 440.7 486 453.2 490 453.2 494.9 453.2 499.8 436 504.7 436 507.6 436 510.6 439.9 513.5 439.9 519 439.9 524.5 405.9 530 405.9 533.8 405.9 537.6 414.6 541.4 414.6 546.1 414.6 550.7 398.7 555.4 398.7 559.5 398.7 563.6 410.1 567.7 410.1 571.8 410.1 575.8 392.7 579.9 392.7 584.6 392.7 589.2 408.4 593.9 408.4 598.6 408.4 603.2 396 607.9 396 612 396 616 412.6 620.1 412.6 624.1 412.6 628 395.9 632 395.9 636.8 395.9 641.7 409.3 646.5 409.3 651.1 409.3 655.7 394.3 660.3 394.3 664.4 394.3 668.6 410.1 672.7 410.1 677.6 410.1 682.4 395.6 687.3 395.6 691.2 395.6 695 410.7 698.9 410.7 703.8 410.7 708.6 395 713.5 395 717.9 395 722.2 412.1 726.6 412.1 731 412.1 735.3 398.7 739.7 398.7 744.1 398.7 748.4 415.1 752.8 415.1 757.2 415.1 761.5 399.4 765.9 399.4 770.1 399.4 774.4 415.6 778.6 415.6 782.4 415.6 786.2 403.9 790 403.9 794.7 403.9 799.3 427.7 804 427.7 808.7 427.7 813.3 414.7 818 414.7 822.1 414.7 826.1 431.7 830.2 431.7 834.6 431.7 838.9 417.5 843.3 417.5 847.7 417.5 852 437.3 856.4 437.3 861.2 437.3 865.9 421.4 870.7 421.4 874.6 421.4 878.4 433.3 882.3 433.3 886.8 433.3 891.4 415.7 895.9 415.7 900.1 415.7 904.3 431.3 908.5 431.3 913.3 431.3 918.2 415.5 923 415.5 927.2 415.5 931.5 429.4 935.7 429.4 940.6 429.4 945.4 410.8 950.3 410.8 953.8 410.8 957.2 422.7 960.7 422.7 965.9 422.7 971 404.8 976.2 404.8 979.8 404.8 983.3 414.8 986.9 414.8 991.7 414.8 996.6 391.9 1001.4 391.9 1005.3 391.9 1009.1 400.4 1013 400.4 1017.6 400.4 1022.1 382.7 1026.7 382.7 1030.9 382.7 1035.1 399.3 1039.3 399.3 1043.7 399.3 1048.2 383.6 1052.6 383.6 1056.8 383.6 1061 400.2 1065.2 400.2 1069.7 400.2 1074.3 383.2 1078.8 383.2 1083.2 383.2 1087.5 402.2 1091.9 402.2 1096.3 402.2 1100.6 388.5 1105 388.5 1109.2 388.5 1113.4 404 1117.6 404 1122.2 404 1126.9 385 1131.5 385 1135.8 385 1140.2 402.2 1144.5 402.2 1148.7 402.2 1153 389.4 1157.2 389.4 1160.7 389.4 1164.3 406 1167.8 406 1173 406 1178.2 386.6 1183.4 386.6 1187.9 386.6 1192.5 406.1 1197 406.1 1201.2 406.1 1205.4 393.3 1209.6 393.3 1213.8 393.3 1218 410.7 1222.2 410.7 1226.6 410.7 1231.1 391.5 1235.5 391.5 1240.3 391.5 1245.2 409.5 1250 409.5 1254.2 409.5 1258.5 395.7 1262.7 395.7 1266.9 395.7 1271.1 410.4 1275.3 410.4 1279.8 410.4 1284.4 395.3 1288.9 395.3 1293.4 395.3 1298 414.8 1302.5 414.8 1307 414.8 1311.5 401.1 1316 401.1 1320.3 401.1 1324.5 420.2 1328.8 420.2 1333.1 420.2 1337.3 406.9 1341.6 406.9 1346.3 406.9 1350.9 423.8 1355.6 423.8 1359.9 423.8 1364.1 408.1 1368.4 408.1 1372.7 408.1 1376.9 420.5 1381.2 420.5 1386.3 420.5 1391.3 404.6 1396.4 404.6 1400.3 404.6 1404.1 419.1 1408 419.1 1412.7 419.1 1417.3 402.3 1422 402.3 1425.9 402.3 1429.7 415.8 1433.6 415.8 1438.3 415.8 1442.9 399.5 1447.6 399.5 1448.1 399.5 1448.5 399.7 1449 399.8"/><path d="M211 236.8C211.9 243.3 212.8 249.6 213.7 249.6 215.7 249.6 217.6 231 219.6 231 220.6 231 221.5 237.2 222.5 242.6 223.1 245.7 223.6 250.9 224.2 256.6 224.8 262.6 225.4 273.1 226 280 226.8 288.8 227.5 294.2 228.3 303.2 228.9 309.8 229.4 319.5 230 326.5 230.9 337.1 231.7 344.9 232.6 355 233.3 363.5 234.1 375 234.8 382 235.9 392.4 237 400.8 238.1 406.8 239.5 414.9 241 420.9 242.5 425.4 245.5 434.5 248.4 444.4 251.4 445.6 254.5 446.7 257.6 446.2 260.7 447.4 262.1 448 263.6 451.7 265 454.9 266.5 458.2 268 464.6 269.5 469.1 271 473.6 272.5 481.9 274 481.9 278.2 481.9 282.4 466.7 286.6 466.7 290.5 466.7 294.5 482.7 298.4 482.7 303.2 482.7 308.1 458.8 312.9 458.8 318.7 458.8 324.4 500.4 330.1 500.4 334.8 500.4 339.4 474.2 344 474.2 347.1 474.2 350.3 490.8 353.4 490.8 358 490.8 362.7 470.8 367.3 470.8 372.8 470.8 378.2 505.1 383.7 505.1 388 505.1 392.4 471.3 396.7 471.3 401.9 471.3 407.1 504.3 412.3 504.3 417.6 504.3 422.8 466.5 428.1 466.5 431.6 466.5 435 484.3 438.5 484.3 443.1 484.3 447.8 460.2 452.5 460.2 457.1 460.2 461.8 479.4 466.4 479.4 472.3 479.4 478.1 437.4 483.9 437.4 488 437.4 492 457.5 496 457.5 500.9 457.5 505.8 434.7 510.7 434.7 513.6 434.7 516.6 444.2 519.5 444.2 525 444.2 530.5 402.8 536 402.8 539.8 402.8 543.6 418.4 547.4 418.4 552.1 418.4 556.7 396.6 561.4 396.6 565.5 396.6 569.6 414.6 573.7 414.6 577.8 414.6 581.8 389.9 585.9 389.9 590.6 389.9 595.2 412.5 599.9 412.5 604.6 412.5 609.2 393.7 613.9 393.7 618 393.7 622 417.7 626.1 417.7 630.1 417.7 634 393.4 638 393.4 642.8 393.4 647.7 413.4 652.5 413.4 657.1 413.4 661.7 391.8 666.3 391.8 670.4 391.8 674.6 414.4 678.7 414.4 683.6 414.4 688.4 393.3 693.3 393.3 697.2 393.3 701 415.2 704.9 415.2 709.8 415.2 714.6 392.4 719.5 392.4 723.9 392.4 728.2 416.6 732.6 416.6 737 416.6 741.3 396.2 745.7 396.2 750.1 396.2 754.4 419.8 758.8 419.8 763.2 419.8 767.5 396.7 771.9 396.7 776.1 396.7 780.4 420.1 784.6 420.1 788.4 420.1 792.2 400.9 796 400.9 800.7 400.9 805.3 432.7 810 432.7 814.7 432.7 819.3 412.2 824 412.2 828.1 412.2 832.1 436.4 836.2 436.4 840.6 436.4 844.9 414.6 849.3 414.6 853.7 414.6 858 442.2 862.4 442.2 867.2 442.2 871.9 419.2 876.7 419.2 880.6 419.2 884.4 437.8 888.3 437.8 892.8 437.8 897.4 412.8 901.9 412.8 906.1 412.8 910.3 435.8 914.5 435.8 919.3 435.8 924.2 413.2 929 413.2 933.2 413.2 937.5 433.9 941.7 433.9 946.6 433.9 951.4 408.2 956.3 408.2 959.8 408.2 963.2 427 966.7 427 971.9 427 977 402.7 982.2 402.7 985.8 402.7 989.3 419.4 992.9 419.4 997.7 419.4 1002.6 389.4 1007.4 389.4 1011.3 389.4 1015.1 404.5 1019 404.5 1023.6 404.5 1028.1 379.8 1032.7 379.8 1036.9 379.8 1041.1 404 1045.3 404 1049.7 404 1054.2 380.9 1058.6 380.9 1062.8 380.9 1067 405.1 1071.2 405.1 1075.7 405.1 1080.3 380.2 1084.8 380.2 1089.2 380.2 1093.5 406.9 1097.9 406.9 1102.3 406.9 1106.6 386 1111 386 1115.2 386 1119.4 408.9 1123.6 408.9 1128.2 408.9 1132.9 382 1137.5 382 1141.8 382 1146.2 406.8 1150.5 406.8 1154.7 406.8 1159 386.7 1163.2 386.7 1166.7 386.7 1170.3 411 1173.8 411 1179 411 1184.2 383.6 1189.4 383.6 1193.9 383.6 1198.5 410.8 1203 410.8 1207.2 410.8 1211.4 390.7 1215.6 390.7 1219.8 390.7 1224 416 1228.2 416 1232.6 416 1237.1 388.5 1241.5 388.5 1246.3 388.5 1251.2 414 1256 414 1260.2 414 1264.5 393.2 1268.7 393.2 1272.9 393.2 1277.1 414.9 1281.3 414.9 1285.8 414.9 1290.4 392.6 1294.9 392.6 1299.4 392.6 1304 419.5 1308.5 419.5 1313 419.5 1317.5 398.4 1322 398.4 1326.3 398.4 1330.5 425.1 1334.8 425.1 1339.1 425.1 1343.3 404.6 1347.6 404.6 1352.3 404.6 1356.9 428.4 1361.6 428.4 1365.9 428.4 1370.1 405.8 1374.4 405.8 1378.7 405.8 1382.9 424.4 1387.2 424.4 1392.3 424.4 1397.3 402.3 1402.4 402.3 1406.3 402.3 1410.1 423.7 1414 423.7 1418.7 423.7 1423.3 399.8 1428 399.8 1431.9 399.8 1435.7 420.1 1439.6 420.1 1444.3 420.1 1448.9 398.8 1453.6 398.8 1454.1 398.8 1454.5 399.1 1455 399.5"/><path d="M211 236.8C211.9 243.3 212.8 249.6 213.7 249.6 215.7 249.6 217.6 231 219.6 231 220.6 231 221.5 237.2 222.5 242.6 223.1 245.7 223.6 250.9 224.2 256.6 224.8 262.6 225.4 273.1 226 280 226.8 288.8 227.5 294.2 228.3 303.2 228.9 309.8 229.4 319.5 230 326.5 230.9 337.1 231.7 344.9 232.6 355 233.3 363.5 234.1 374.1 234.8 382 235.6 390.6 236.4 399.2 237.2 405 238.1 411.3 238.9 416.5 239.8 420 241.6 427.2 243.4 433.6 245.2 435.5 247.8 438.2 250.4 437.8 253 440.2 254.5 441.6 256.1 444.8 257.6 448 259.2 451.2 260.7 456.5 262.3 460.4 263.9 464.3 265.4 471.5 267 471.5 271.3 471.5 275.7 462 280 462 284.1 462 288.1 474.5 292.2 474.5 297.1 474.5 302.1 456.5 307 456.5 312.8 456.5 318.7 492 324.5 492 329.2 492 333.8 472 338.5 472 341.7 472 344.8 484 348 484 352.7 484 357.3 469 362 469 367.5 469 373 497 378.5 497 382.8 497 387.2 470.7 391.5 470.7 396.7 470.7 402 496.5 407.2 496.5 412.5 496.5 417.7 465.5 423 465.5 426.5 465.5 429.9 477.7 433.4 477.7 438.1 477.7 442.7 458.5 447.4 458.5 452.1 458.5 456.7 472.4 461.4 472.4 467.2 472.4 473.1 436.6 478.9 436.6 482.9 436.6 487 451 491 451 495.9 451 500.8 432.4 505.7 432.4 508.6 432.4 511.6 437.7 514.5 437.7 520 437.7 525.5 401.9 531 401.9 534.8 401.9 538.6 412.3 542.4 412.3 547.1 412.3 551.7 394.9 556.4 394.9 560.5 394.9 564.6 408 568.7 408 572.8 408 576.8 388.7 580.9 388.7 585.6 388.7 590.2 406.2 594.9 406.2 599.6 406.2 604.2 392.2 608.9 392.2 613 392.2 617 410.6 621.1 410.6 625.1 410.6 629 392 633 392 637.8 392 642.7 407.1 647.5 407.1 652.1 407.1 656.7 390.4 661.3 390.4 665.4 390.4 669.6 407.9 673.7 407.9 678.6 407.9 683.4 391.8 688.3 391.8 692.2 391.8 696 408.6 699.9 408.6 704.8 408.6 709.6 391.1 714.5 391.1 718.9 391.1 723.2 410 727.6 410 732 410 736.3 394.8 740.7 394.8 745.1 394.8 749.4 413 753.8 413 758.2 413 762.5 395.5 766.9 395.5 771.1 395.5 775.4 413.5 779.6 413.5 783.4 413.5 787.2 399.9 791 399.9 795.7 399.9 800.3 425.7 805 425.7 809.7 425.7 814.3 410.8 819 410.8 823.1 410.8 827.1 429.6 831.2 429.6 835.6 429.6 839.9 413.5 844.3 413.5 848.7 413.5 853 435.3 857.4 435.3 862.2 435.3 866.9 417.6 871.7 417.6 875.6 417.6 879.4 431.2 883.3 431.2 887.8 431.2 892.4 411.7 896.9 411.7 901.1 411.7 905.3 429.2 909.5 429.2 914.3 429.2 919.2 411.7 924 411.7 928.2 411.7 932.5 427.3 936.7 427.3 941.6 427.3 946.4 406.9 951.3 406.9 954.8 406.9 958.2 420.5 961.7 420.5 966.9 420.5 972 401 977.2 401 980.8 401 984.3 412.7 987.9 412.7 992.7 412.7 997.6 388 1002.4 388 1006.3 388 1010.1 398.2 1014 398.2 1018.6 398.2 1023.1 378.7 1027.7 378.7 1031.9 378.7 1036.1 397.2 1040.3 397.2 1044.7 397.2 1049.2 379.7 1053.6 379.7 1057.8 379.7 1062 398.2 1066.2 398.2 1070.7 398.2 1075.3 379.2 1079.8 379.2 1084.2 379.2 1088.5 400.1 1092.9 400.1 1097.3 400.1 1101.6 384.6 1106 384.6 1110.2 384.6 1114.4 402 1118.6 402 1123.2 402 1127.9 381 1132.5 381 1136.8 381 1141.2 400.1 1145.5 400.1 1149.7 400.1 1154 385.5 1158.2 385.5 1161.7 385.5 1165.3 404 1168.8 404 1174 404 1179.2 382.6 1184.4 382.6 1188.9 382.6 1193.5 404 1198 404 1202.2 404 1206.4 389.4 1210.6 389.4 1214.8 389.4 1219 408.8 1223.2 408.8 1227.6 408.8 1232.1 387.5 1236.5 387.5 1241.3 387.5 1246.2 407.4 1251 407.4 1255.2 407.4 1259.5 391.8 1263.7 391.8 1267.9 391.8 1272.1 408.3 1276.3 408.3 1280.8 408.3 1285.4 391.4 1289.9 391.4 1294.4 391.4 1299 412.7 1303.5 412.7 1308 412.7 1312.5 397.2 1317 397.2 1321.3 397.2 1325.5 418.2 1329.8 418.2 1334.1 418.2 1338.3 403.1 1342.6 403.1 1347.3 403.1 1351.9 421.7 1356.6 421.7 1360.9 421.7 1365.1 404.3 1369.4 404.3 1373.7 404.3 1377.9 418.2 1382.2 418.2 1387.3 418.2 1392.3 400.8 1397.4 400.8 1401.3 400.8 1405.1 417 1409 417 1413.7 417 1418.3 398.4 1423 398.4 1426.9 398.4 1430.7 413.6 1434.6 413.6 1439.3 413.6 1443.9 396.1 1448.6 396.1 1449.1 396.1 1449.5 396.3 1450 396.5"/></g>
<path d="M221 226L223.5 240L225.5 262L227.5 290L229.5 318L231.5 345L233.5 372L235.5 398L238 420L241 438" stroke="#800080" stroke-width="8"/>
<path stroke="#00ff00" d="M211 236.8C211.9 243.3 212.8 249.6 213.7 249.6 215.7 249.6 217.6 231 219.6 231 220.6 231 221.5 237.2 222.5 242.6 223.1 245.7 223.6 250.9 224.2 256.6 224.8 262.6 225.4 273.1 226 280 226.8 288.8 227.5 294.2 228.3 303.2 228.9 309.8 229.4 319.5 230 326.5 230.9 337.1 231.7 344.9 232.6 355 233.3 363.5 234.1 374.1 234.8 382 235.6 390.6 236.4 399.2 237.2 405 238.1 411.3 238.9 416.5 239.8 420 241.6 427.2 243.4 433.6 245.2 435.5 247.8 438.2 250.4 437.8 253 440.2 254.5 441.6 256.1 444.8 257.6 448 259.2 451.2 260.7 456.5 262.3 460.4 263.9 464.3 265.4 471.5 267 471.5 271.3 471.5 275.7 462 280 462 284.1 462 288.1 474.5 292.2 474.5 297.1 474.5 302.1 456.5 307 456.5 312.8 456.5 318.7 492 324.5 492 329.2 492 333.8 472 338.5 472 341.7 472 344.8 484 348 484 352.7 484 357.3 469 362 469 367.5 469 373 497 378.5 497 382.8 497 387.2 470.7 391.5 470.7 396.7 470.7 402 496.5 407.2 496.5 412.5 496.5 417.7 465.5 423 465.5 426.5 465.5 429.9 477.7 433.4 477.7 438.1 477.7 442.7 458.5 447.4 458.5 452.1 458.5 456.7 472.4 461.4 472.4 467.2 472.4 473.1 436.6 478.9 436.6 482.9 436.6 487 451 491 451 495.9 451 500.8 432.4 505.7 432.4 508.6 432.4 511.6 437.7 514.5 437.7 520 437.7 525.5 401.9 531 401.9 534.8 401.9 538.6 412.3 542.4 412.3 547.1 412.3 551.7 394.9 556.4 394.9 560.5 394.9 564.6 408 568.7 408 572.8 408 576.8 388.7 580.9 388.7 585.6 388.7 590.2 406.2 594.9 406.2 599.6 406.2 604.2 392.2 608.9 392.2 613 392.2 617 410.6 621.1 410.6 625.1 410.6 629 392 633 392 637.8 392 642.7 407.1 647.5 407.1 652.1 407.1 656.7 390.4 661.3 390.4 665.4 390.4 669.6 407.9 673.7 407.9 678.6 407.9 683.4 391.8 688.3 391.8 692.2 391.8 696 408.6 699.9 408.6 704.8 408.6 709.6 391.1 714.5 391.1 718.9 391.1 723.2 410 727.6 410 732 410 736.3 394.8 740.7 394.8 745.1 394.8 749.4 413 753.8 413 758.2 413 762.5 395.5 766.9 395.5 771.1 395.5 775.4 413.5 779.6 413.5 783.4 413.5 787.2 399.9 791 399.9 795.7 399.9 800.3 425.7 805 425.7 809.7 425.7 814.3 410.8 819 410.8 823.1 410.8 827.1 429.6 831.2 429.6 835.6 429.6 839.9 413.5 844.3 413.5 848.7 413.5 853 435.3 857.4 435.3 862.2 435.3 866.9 417.6 871.7 417.6 875.6 417.6 879.4 431.2 883.3 431.2 887.8 431.2 892.4 411.7 896.9 411.7 901.1 411.7 905.3 429.2 909.5 429.2 914.3 429.2 919.2 411.7 924 411.7 928.2 411.7 932.5 427.3 936.7 427.3 941.6 427.3 946.4 406.9 951.3 406.9 954.8 406.9 958.2 420.5 961.7 420.5 966.9 420.5 972 401 977.2 401 980.8 401 984.3 412.7 987.9 412.7 992.7 412.7 997.6 388 1002.4 388 1006.3 388 1010.1 398.2 1014 398.2 1018.6 398.2 1023.1 378.7 1027.7 378.7 1031.9 378.7 1036.1 397.2 1040.3 397.2 1044.7 397.2 1049.2 379.7 1053.6 379.7 1057.8 379.7 1062 398.2 1066.2 398.2 1070.7 398.2 1075.3 379.2 1079.8 379.2 1084.2 379.2 1088.5 400.1 1092.9 400.1 1097.3 400.1 1101.6 384.6 1106 384.6 1110.2 384.6 1114.4 402 1118.6 402 1123.2 402 1127.9 381 1132.5 381 1136.8 381 1141.2 400.1 1145.5 400.1 1149.7 400.1 1154 385.5 1158.2 385.5 1161.7 385.5 1165.3 404 1168.8 404 1174 404 1179.2 382.6 1184.4 382.6 1188.9 382.6 1193.5 404 1198 404 1202.2 404 1206.4 389.4 1210.6 389.4 1214.8 389.4 1219 408.8 1223.2 408.8 1227.6 408.8 1232.1 387.5 1236.5 387.5 1241.3 387.5 1246.2 407.4 1251 407.4 1255.2 407.4 1259.5 391.8 1263.7 391.8 1267.9 391.8 1272.1 408.3 1276.3 408.3 1280.8 408.3 1285.4 391.4 1289.9 391.4 1294.4 391.4 1299 412.7 1303.5 412.7 1308 412.7 1312.5 397.2 1317 397.2 1321.3 397.2 1325.5 418.2 1329.8 418.2 1334.1 418.2 1338.3 403.1 1342.6 403.1 1347.3 403.1 1351.9 421.7 1356.6 421.7 1360.9 421.7 1365.1 404.3 1369.4 404.3 1373.7 404.3 1377.9 418.2 1382.2 418.2 1387.3 418.2 1392.3 400.8 1397.4 400.8 1401.3 400.8 1405.1 417 1409 417 1413.7 417 1418.3 398.4 1423 398.4 1426.9 398.4 1430.7 413.6 1434.6 413.6 1439.3 413.6 1443.9 396.1 1448.6 396.1 1449.1 396.1 1449.5 396.3 1450 396.5"/>
</g>
<g fill="#262626" font-size="53"><text transform="translate(163.8 55.0) scale(1 1.04)" text-anchor="end">50.</text>
<path transform="translate(163.8 55.0)" d="M13.5 0L18.5 0L18.5 -38L15.7 -38L5.5 -28.9L5.5 -24.2L13.5 -29.2Z"/>
<text transform="translate(193.3 257.0) scale(1 1.04)" text-anchor="end">50</text>
<text transform="translate(193.3 459.0) scale(1 1.04)" text-anchor="end">49.9</text>
<text transform="translate(193.3 661.0) scale(1 1.04)" text-anchor="end">49.8</text>
<text transform="translate(193.3 863.0) scale(1 1.04)" text-anchor="end">49.7</text>
<text transform="translate(211.5 914) scale(1 1.04)" text-anchor="middle">0</text>
<path transform="translate(388.5 914.0)" d="M13.5 0L18.5 0L18.5 -38L15.7 -38L5.5 -28.9L5.5 -24.2L13.5 -29.2Z"/>
<text transform="translate(418.00 914) scale(1 1.04)">0</text>
<text transform="translate(624.5 914) scale(1 1.04)" text-anchor="middle">20</text>
<text transform="translate(831.0 914) scale(1 1.04)" text-anchor="middle">30</text>
<text transform="translate(1037.5 914) scale(1 1.04)" text-anchor="middle">40</text>
<text transform="translate(1243.0 914) scale(1 1.04)" text-anchor="middle">50</text>
<text transform="translate(1449.5 914) scale(1 1.04)" text-anchor="middle">60</text></g>
<text transform="translate(730.7 990) scale(1 1.04)" font-size="58.5" fill="#262626" letter-spacing="0.65">Time(s)</text>
<text transform="translate(65 437) rotate(-90) scale(1 1.04)" font-size="58.5" fill="#262626" text-anchor="middle">Frequency(Hz)</text>
<rect x="577" y="48" width="859.5" height="327" fill="#fff" stroke="#262626" stroke-width="2.5"/>
<filter id="bin" x="0" y="0" width="1" height="1"><feComponentTransfer><feFuncA type="discrete" tableValues="0 1"/></feComponentTransfer></filter>
<g font-size="47.8" fill="#000" filter="url(#bin)"><rect x="586" y="84.0" width="101" height="3" fill="#ff0000"/>
<text transform="translate(693 104.0) scale(1 1.04)">20% renewable energy without FR</text>
<rect x="586" y="147.4" width="101" height="3" fill="#0000ff"/>
<text transform="translate(693 167.4) scale(1 1.04)">40% renewable energy without FR</text>
<rect x="586" y="210.8" width="101" height="3" fill="#ff8000"/>
<text transform="translate(693 230.8) scale(1 1.04)">20% renewable energy with FR</text>
<rect x="586" y="274.2" width="101" height="3" fill="#800080"/>
<text transform="translate(693 294.2) scale(1 1.04)">40% renewable energy with FR</text>
<rect x="586" y="337.6" width="101" height="3" fill="#00ff00"/>
<text transform="translate(693 357.6) scale(1 1.04)">COI frequency</text></g>
</svg>
</body></html>
